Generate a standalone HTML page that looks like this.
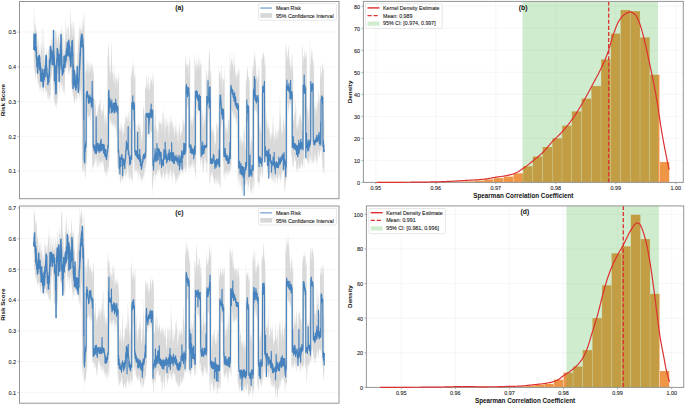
<!DOCTYPE html><html><head><meta charset="utf-8"><style>html,body{margin:0;padding:0;background:#fff;}svg{display:block;font-family:"Liberation Sans", sans-serif;}</style></head><body>
<svg width="685" height="405" viewBox="0 0 685 405">
<rect width="685" height="405" fill="#fff"/>
<g>
<line x1="19.5" x2="339.0" y1="171.10" y2="171.10" stroke="#f2f2f2" stroke-width="0.7"/>
<line x1="19.5" x2="339.0" y1="136.35" y2="136.35" stroke="#f2f2f2" stroke-width="0.7"/>
<line x1="19.5" x2="339.0" y1="101.60" y2="101.60" stroke="#f2f2f2" stroke-width="0.7"/>
<line x1="19.5" x2="339.0" y1="66.85" y2="66.85" stroke="#f2f2f2" stroke-width="0.7"/>
<line x1="19.5" x2="339.0" y1="32.10" y2="32.10" stroke="#f2f2f2" stroke-width="0.7"/>
<path d="M33.80,8.0 33.92,4.7 34.05,11.8 34.17,12.8 34.30,19.0 34.42,27.0 34.55,25.6 34.67,16.6 34.80,30.4 34.92,34.5 35.05,27.8 35.17,25.0 35.30,23.9 35.42,26.3 35.55,21.8 35.67,26.1 35.80,31.3 35.92,30.9 36.05,26.3 36.17,32.3 36.30,28.2 36.42,31.2 36.55,30.5 36.67,31.8 36.80,28.4 36.92,32.4 37.05,31.3 37.17,39.1 37.30,41.2 37.42,40.9 37.55,41.0 37.67,47.4 37.80,50.2 37.92,49.3 38.05,51.1 38.17,50.5 38.30,48.0 38.42,45.1 38.55,39.7 38.67,42.3 38.80,37.0 38.92,49.4 39.05,51.1 39.17,56.0 39.30,54.0 39.42,52.5 39.55,51.5 39.67,55.6 39.80,47.4 39.92,42.9 40.05,42.6 40.17,43.2 40.30,50.1 40.42,54.0 40.55,59.5 40.67,56.0 40.80,60.6 40.92,56.3 41.05,49.9 41.17,50.9 41.30,46.6 41.42,46.8 41.55,44.1 41.67,47.9 41.80,37.6 41.92,24.5 42.05,30.1 42.17,27.4 42.30,41.1 42.42,49.3 42.55,47.3 42.67,54.7 42.80,58.9 42.92,60.1 43.05,57.2 43.17,55.0 43.30,48.6 43.42,46.2 43.55,41.3 43.67,37.0 43.80,30.8 43.92,24.9 44.05,33.7 44.17,44.9 44.30,50.5 44.42,60.3 44.55,60.5 44.67,63.4 44.80,58.2 44.92,51.3 45.05,56.6 45.17,57.0 45.30,60.7 45.42,62.8 45.55,57.9 45.67,57.9 45.80,55.7 45.92,50.1 46.05,49.9 46.17,52.5 46.30,54.1 46.42,56.4 46.55,61.9 46.67,52.7 46.80,47.7 46.92,49.2 47.05,52.3 47.17,57.4 47.30,61.6 47.42,68.7 47.55,75.1 47.67,68.3 47.80,65.5 47.92,69.8 48.05,63.3 48.17,58.6 48.30,50.5 48.42,48.4 48.55,51.5 48.67,46.7 48.80,50.7 48.92,49.5 49.05,43.7 49.17,47.8 49.30,46.1 49.42,47.0 49.55,52.4 49.67,42.7 49.80,48.7 49.92,50.1 50.05,49.8 50.17,44.2 50.30,41.5 50.42,45.0 50.55,48.7 50.67,44.4 50.80,46.2 50.92,46.4 51.05,46.7 51.17,44.0 51.30,45.1 51.42,41.1 51.55,32.3 51.67,39.7 51.80,42.4 51.92,37.3 52.05,38.5 52.17,41.2 52.30,45.7 52.42,49.9 52.55,44.9 52.67,40.0 52.80,44.6 52.92,43.7 53.05,47.1 53.17,42.4 53.30,42.1 53.42,46.0 53.55,28.9 53.67,46.7 53.80,44.0 53.92,52.9 54.05,46.7 54.17,49.6 54.30,50.4 54.42,52.3 54.55,46.8 54.67,39.6 54.80,44.5 54.92,40.4 55.05,42.5 55.17,31.9 55.30,30.5 55.42,36.4 55.55,30.3 55.67,30.8 55.80,32.2 55.92,30.1 56.05,34.4 56.17,33.5 56.30,33.2 56.42,32.0 56.55,40.8 56.67,41.4 56.80,37.5 56.92,34.1 57.05,37.4 57.17,38.0 57.30,42.5 57.42,41.1 57.55,48.0 57.67,45.7 57.80,41.6 57.92,37.3 58.05,35.7 58.17,35.7 58.30,34.6 58.42,35.5 58.55,35.1 58.67,37.9 58.80,36.2 58.92,39.4 59.05,41.3 59.17,31.3 59.30,34.0 59.42,37.3 59.55,51.1 59.67,47.2 59.80,44.5 59.92,49.8 60.05,47.2 60.17,41.2 60.30,43.9 60.42,38.3 60.55,36.7 60.67,34.0 60.80,33.9 60.92,32.8 61.05,27.7 61.17,22.7 61.30,27.4 61.42,32.4 61.55,27.9 61.67,30.7 61.80,35.4 61.92,33.3 62.05,38.9 62.17,30.6 62.30,38.0 62.42,38.9 62.55,34.9 62.67,34.4 62.80,37.7 62.92,31.0 63.05,30.7 63.17,33.1 63.30,41.8 63.42,44.1 63.55,53.8 63.67,53.2 63.80,49.5 63.92,57.6 64.05,54.9 64.17,60.1 64.30,57.3 64.42,45.3 64.55,47.7 64.67,41.7 64.80,38.9 64.92,40.6 65.05,43.3 65.17,38.2 65.30,33.3 65.42,33.4 65.55,28.8 65.67,16.1 65.80,18.7 65.92,20.1 66.05,25.4 66.17,29.0 66.30,33.4 66.42,34.4 66.55,29.6 66.67,26.7 66.80,40.9 66.92,44.7 67.05,37.4 67.17,42.4 67.30,42.1 67.42,39.3 67.55,28.5 67.67,27.1 67.80,29.0 67.92,27.8 68.05,26.1 68.17,28.9 68.30,28.3 68.42,26.4 68.55,26.8 68.67,24.0 68.80,24.0 68.92,37.9 69.05,42.0 69.17,40.0 69.30,31.7 69.42,35.2 69.55,36.2 69.67,36.4 69.80,43.3 69.92,37.2 70.05,31.1 70.17,26.3 70.30,21.2 70.42,14.2 70.55,11.0 70.67,7.0 70.80,11.9 70.92,22.5 71.05,28.6 71.17,32.8 71.30,23.9 71.42,24.1 71.55,25.5 71.67,20.1 71.80,24.9 71.92,29.1 72.05,27.5 72.17,21.3 72.30,21.5 72.42,21.3 72.55,24.3 72.67,36.7 72.80,34.6 72.92,39.1 73.05,34.1 73.17,26.1 73.30,29.3 73.42,27.6 73.55,33.4 73.67,26.6 73.80,25.5 73.92,20.9 74.05,18.5 74.17,22.9 74.30,23.7 74.42,36.4 74.55,35.9 74.67,34.8 74.80,38.0 74.92,45.5 75.05,46.5 75.17,54.3 75.30,75.3 75.42,81.4 75.55,71.9 75.67,68.6 75.80,65.7 75.92,70.7 76.05,69.6 76.17,68.2 76.30,72.6 76.42,75.0 76.55,77.2 76.67,74.7 76.80,73.7 76.92,72.6 77.05,67.8 77.17,62.5 77.30,52.7 77.42,54.6 77.55,48.9 77.67,59.0 77.80,57.1 77.92,50.6 78.05,44.0 78.17,40.5 78.30,34.0 78.42,32.6 78.55,38.2 78.67,47.1 78.80,41.3 78.92,38.7 79.05,42.0 79.17,32.9 79.30,29.3 79.42,27.6 79.55,26.3 79.67,30.5 79.80,28.1 79.92,22.1 80.05,22.4 80.17,26.2 80.30,30.1 80.42,26.4 80.55,31.3 80.67,26.3 80.80,31.3 80.92,32.9 81.05,29.0 81.17,29.6 81.30,27.2 81.42,28.8 81.55,33.0 81.67,26.4 81.80,32.4 81.92,34.7 82.05,30.2 82.17,30.2 82.30,28.5 82.42,30.8 82.55,24.7 82.67,18.5 82.80,17.0 82.92,19.3 83.05,25.9 83.17,19.1 83.30,18.1 83.42,24.8 83.55,26.4 83.67,24.5 83.80,15.9 83.92,13.5 84.05,12.4 84.17,14.6 84.30,10.8 84.42,24.9 84.55,38.0 84.67,57.2 84.80,72.8 84.92,93.1 85.05,111.5 85.17,115.8 85.30,77.2 85.42,72.7 85.55,73.5 85.67,65.3 85.80,69.4 85.92,71.3 86.05,73.8 86.17,67.6 86.30,70.7 86.42,69.1 86.55,72.0 86.67,58.7 86.80,57.0 86.92,60.3 87.05,62.0 87.17,61.0 87.30,66.6 87.42,65.0 87.55,60.4 87.67,67.7 87.80,71.2 87.92,74.4 88.05,71.7 88.17,72.2 88.30,68.5 88.42,63.8 88.55,61.1 88.67,65.0 88.80,60.3 88.92,69.8 89.05,73.9 89.17,67.8 89.30,67.0 89.42,59.3 89.55,69.6 89.67,73.6 89.80,71.4 89.92,68.3 90.05,64.7 90.17,65.3 90.30,63.8 90.42,60.1 90.55,69.4 90.67,70.8 90.80,72.2 90.92,63.4 91.05,62.6 91.17,60.2 91.30,63.9 91.42,65.2 91.55,63.9 91.67,67.0 91.80,71.7 91.92,69.7 92.05,68.5 92.17,65.2 92.30,67.1 92.42,65.2 92.55,62.9 92.67,67.4 92.80,71.2 92.92,74.6 93.05,65.2 93.17,73.2 93.30,64.3 93.42,73.8 93.55,74.5 93.67,74.3 93.80,71.4 93.92,73.9 94.05,98.7 94.17,116.3 94.30,106.1 94.42,104.1 94.55,98.6 94.67,100.1 94.80,100.1 94.92,97.4 95.05,100.2 95.17,108.6 95.30,104.5 95.42,100.4 95.55,100.1 95.67,101.1 95.80,105.2 95.92,109.3 96.05,111.5 96.17,115.3 96.30,115.0 96.42,114.7 96.55,119.2 96.67,115.7 96.80,121.0 96.92,116.1 97.05,112.7 97.17,106.2 97.30,112.7 97.42,114.4 97.55,111.5 97.67,115.5 97.80,110.7 97.92,112.8 98.05,107.5 98.17,107.2 98.30,103.6 98.42,103.5 98.55,107.9 98.67,107.9 98.80,106.6 98.92,105.3 99.05,102.7 99.17,101.7 99.30,103.2 99.42,106.0 99.55,102.6 99.67,103.3 99.80,107.3 99.92,101.9 100.05,104.6 100.17,102.4 100.30,97.8 100.42,88.2 100.55,94.6 100.67,105.7 100.80,109.9 100.92,110.2 101.05,111.2 101.17,108.9 101.30,114.4 101.42,115.5 101.55,112.9 101.67,109.0 101.80,110.4 101.92,111.1 102.05,110.0 102.17,111.3 102.30,114.7 102.42,109.4 102.55,110.5 102.67,114.5 102.80,108.8 102.92,101.7 103.05,102.3 103.17,103.0 103.30,104.2 103.42,106.5 103.55,109.5 103.67,108.2 103.80,112.6 103.92,113.4 104.05,118.0 104.17,117.7 104.30,118.8 104.42,126.8 104.55,124.0 104.67,118.2 104.80,115.8 104.92,111.3 105.05,114.0 105.17,117.7 105.30,112.5 105.42,113.8 105.55,121.4 105.67,124.9 105.80,122.1 105.92,119.3 106.05,119.5 106.17,113.1 106.30,121.9 106.42,122.1 106.55,124.6 106.67,128.7 106.80,119.9 106.92,118.0 107.05,112.1 107.17,109.5 107.30,106.1 107.42,87.8 107.55,52.3 107.67,56.2 107.80,55.8 107.92,60.0 108.05,55.1 108.17,45.1 108.30,41.4 108.42,45.0 108.55,45.6 108.67,47.8 108.80,47.0 108.92,48.7 109.05,57.4 109.17,55.6 109.30,57.7 109.42,64.1 109.55,65.8 109.67,68.0 109.80,72.6 109.92,71.4 110.05,62.7 110.17,67.4 110.30,74.3 110.42,74.6 110.55,72.2 110.67,72.8 110.80,77.5 110.92,73.0 111.05,59.5 111.17,61.6 111.30,46.5 111.42,39.4 111.55,42.5 111.67,46.6 111.80,55.1 111.92,54.2 112.05,64.4 112.17,65.3 112.30,71.2 112.42,69.8 112.55,73.0 112.67,72.5 112.80,75.2 112.92,72.8 113.05,80.3 113.17,79.9 113.30,83.9 113.42,83.0 113.55,72.9 113.67,71.9 113.80,74.1 113.92,79.3 114.05,70.3 114.17,62.4 114.30,67.5 114.42,73.2 114.55,84.4 114.67,79.2 114.80,72.4 114.92,78.4 115.05,78.7 115.17,76.6 115.30,73.7 115.42,80.3 115.55,80.6 115.67,83.5 115.80,89.0 115.92,85.1 116.05,87.8 116.17,77.6 116.30,77.2 116.42,79.2 116.55,80.0 116.67,81.5 116.80,72.4 116.92,76.2 117.05,78.5 117.17,81.9 117.30,83.6 117.42,86.1 117.55,81.2 117.67,81.6 117.80,80.1 117.92,78.9 118.05,73.4 118.17,76.7 118.30,73.3 118.42,73.7 118.55,78.0 118.67,75.7 118.80,77.4 118.92,83.8 119.05,83.1 119.17,121.1 119.30,126.5 119.42,130.2 119.55,129.2 119.67,128.2 119.80,133.7 119.92,125.8 120.05,132.0 120.17,129.7 120.30,132.7 120.42,130.1 120.55,123.8 120.67,123.4 120.80,123.3 120.92,130.6 121.05,128.4 121.17,131.0 121.30,123.5 121.42,129.7 121.55,125.3 121.67,128.8 121.80,122.4 121.92,118.8 122.05,131.0 122.17,124.8 122.30,129.9 122.42,126.6 122.55,134.2 122.67,135.8 122.80,132.2 122.92,141.6 123.05,144.9 123.17,132.2 123.30,132.9 123.42,126.3 123.55,125.6 123.67,130.5 123.80,132.8 123.92,132.9 124.05,133.6 124.17,130.4 124.30,129.6 124.42,123.6 124.55,122.7 124.67,125.9 124.80,123.7 124.92,124.5 125.05,117.6 125.17,114.6 125.30,118.3 125.42,115.8 125.55,120.7 125.67,119.1 125.80,126.4 125.92,113.4 126.05,117.1 126.17,120.6 126.30,129.7 126.42,119.8 126.55,111.6 126.67,113.6 126.80,118.2 126.92,114.4 127.05,119.5 127.17,122.1 127.30,117.7 127.42,115.5 127.55,119.0 127.67,115.1 127.80,117.7 127.92,128.0 128.05,132.7 128.18,125.0 128.30,121.8 128.43,116.5 128.55,115.0 128.68,109.7 128.80,114.9 128.93,112.0 129.05,105.2 129.18,112.3 129.30,120.9 129.43,121.1 129.55,121.5 129.68,119.4 129.80,119.3 129.93,111.3 130.05,120.4 130.18,125.7 130.30,124.0 130.43,129.4 130.55,129.0 130.68,129.1 130.80,69.8 130.93,75.2 131.05,82.2 131.18,77.4 131.30,76.4 131.43,69.5 131.55,70.9 131.68,73.6 131.80,74.3 131.93,73.4 132.05,72.5 132.18,68.6 132.30,67.6 132.43,60.2 132.55,65.7 132.68,64.3 132.80,71.7 132.93,76.3 133.05,84.0 133.18,70.6 133.30,69.1 133.43,67.5 133.55,64.1 133.68,58.6 133.80,63.2 133.93,69.2 134.05,63.3 134.18,69.8 134.30,76.2 134.43,78.0 134.55,76.3 134.68,77.4 134.80,77.2 134.93,75.0 135.05,72.4 135.18,72.9 135.30,76.3 135.43,83.5 135.55,105.0 135.68,124.1 135.80,122.8 135.93,120.2 136.05,125.5 136.18,125.2 136.30,126.0 136.43,131.2 136.55,136.1 136.68,126.8 136.80,131.3 136.93,131.2 137.05,132.1 137.18,130.3 137.30,131.6 137.43,133.1 137.55,137.1 137.68,130.5 137.80,123.0 137.93,120.6 138.05,126.2 138.18,122.1 138.30,118.0 138.43,124.4 138.55,125.6 138.68,124.5 138.80,123.9 138.93,128.2 139.05,124.3 139.18,128.6 139.30,128.3 139.43,128.4 139.55,126.9 139.68,123.2 139.80,127.3 139.93,120.8 140.05,134.2 140.18,133.0 140.30,128.7 140.43,122.0 140.55,118.0 140.68,128.7 140.80,128.3 140.93,129.2 141.05,136.0 141.18,139.5 141.30,143.1 141.43,142.0 141.55,137.4 141.68,136.0 141.80,140.4 141.93,140.4 142.05,145.2 142.18,135.9 142.30,135.2 142.43,135.9 142.55,131.0 142.68,130.4 142.80,123.6 142.93,116.6 143.05,111.3 143.18,109.3 143.30,105.4 143.43,104.2 143.55,108.6 143.68,110.6 143.80,106.5 143.93,109.9 144.05,107.9 144.18,113.9 144.30,113.3 144.43,115.0 144.55,121.5 144.68,123.0 144.80,116.1 144.93,114.3 145.05,86.0 145.18,89.8 145.30,89.8 145.43,88.7 145.55,87.4 145.68,87.9 145.80,86.4 145.93,79.3 146.05,88.8 146.18,88.9 146.30,87.8 146.43,79.5 146.55,73.8 146.68,78.5 146.80,76.7 146.93,72.6 147.05,80.0 147.18,82.0 147.30,86.6 147.43,84.8 147.55,84.2 147.68,82.9 147.80,85.4 147.93,90.6 148.05,90.3 148.18,90.3 148.30,81.6 148.43,80.0 148.55,76.1 148.68,74.4 148.80,75.4 148.93,86.3 149.05,89.8 149.18,89.0 149.30,91.1 149.43,89.0 149.55,85.1 149.68,84.4 149.80,92.6 149.93,82.3 150.05,82.5 150.18,77.4 150.30,81.5 150.43,77.2 150.55,79.0 150.68,85.5 150.80,86.3 150.93,81.8 151.05,82.5 151.18,76.1 151.30,81.3 151.43,78.5 151.55,80.0 151.68,79.5 151.80,83.7 151.93,78.3 152.05,84.8 152.18,85.7 152.30,85.8 152.43,82.7 152.55,83.4 152.68,73.0 152.80,76.8 152.93,69.2 153.05,73.0 153.18,77.2 153.30,74.4 153.43,81.2 153.55,81.5 153.68,77.0 153.80,84.8 153.93,121.4 154.05,130.6 154.18,125.0 154.30,130.3 154.43,133.4 154.55,128.2 154.68,123.7 154.80,118.6 154.93,117.8 155.05,111.9 155.18,107.1 155.30,100.3 155.43,115.1 155.55,116.6 155.68,111.7 155.80,118.6 155.93,125.9 156.05,130.6 156.18,128.6 156.30,128.8 156.43,124.6 156.55,129.2 156.68,128.1 156.80,127.0 156.93,135.3 157.05,136.3 157.18,141.3 157.30,146.7 157.43,142.8 157.55,131.5 157.68,131.1 157.80,129.3 157.93,129.3 158.05,134.0 158.18,131.1 158.30,136.7 158.43,127.4 158.55,131.2 158.68,122.5 158.80,119.0 158.93,119.8 159.05,121.4 159.18,123.5 159.30,124.9 159.43,122.4 159.55,119.9 159.68,122.2 159.80,123.2 159.93,123.5 160.05,124.1 160.18,120.1 160.30,124.8 160.43,123.0 160.55,124.1 160.68,124.7 160.80,122.6 160.93,124.0 161.05,119.4 161.18,122.5 161.30,129.2 161.43,128.7 161.55,124.7 161.68,115.9 161.80,123.0 161.93,131.4 162.05,134.6 162.18,129.1 162.30,125.1 162.43,119.7 162.55,118.9 162.68,113.5 162.80,113.1 162.93,112.8 163.05,109.4 163.18,109.6 163.30,113.1 163.43,113.5 163.55,120.5 163.68,124.9 163.80,124.0 163.93,121.2 164.05,116.7 164.18,121.9 164.30,113.0 164.43,114.7 164.55,126.7 164.68,125.7 164.80,132.1 164.93,138.5 165.05,139.8 165.18,129.2 165.30,131.7 165.43,126.6 165.55,126.0 165.68,118.2 165.80,119.8 165.93,123.1 166.05,120.1 166.18,116.0 166.30,118.6 166.43,116.4 166.55,123.2 166.68,129.2 166.80,125.9 166.93,126.8 167.05,122.6 167.18,126.8 167.30,125.7 167.43,125.9 167.55,123.5 167.68,120.2 167.80,120.3 167.93,124.0 168.05,121.4 168.18,129.0 168.30,140.0 168.43,138.2 168.55,131.6 168.68,126.1 168.80,122.5 168.93,125.4 169.05,130.3 169.18,134.1 169.30,132.7 169.43,129.7 169.55,121.6 169.68,113.4 169.80,116.5 169.93,116.9 170.05,122.4 170.18,121.8 170.30,119.1 170.43,124.6 170.55,122.6 170.68,127.3 170.80,122.1 170.93,119.0 171.05,115.4 171.18,112.8 171.30,117.5 171.43,125.2 171.55,119.1 171.68,123.3 171.80,127.5 171.93,121.6 172.05,121.3 172.18,121.2 172.30,117.8 172.43,127.1 172.55,123.4 172.68,131.0 172.80,132.3 172.93,123.9 173.05,124.7 173.18,121.9 173.30,127.1 173.43,129.4 173.55,128.6 173.68,131.8 173.80,126.7 173.93,127.1 174.05,126.6 174.18,126.9 174.30,123.3 174.43,129.4 174.55,135.5 174.68,135.8 174.80,138.2 174.93,134.7 175.05,133.6 175.18,132.1 175.30,130.0 175.43,129.2 175.55,119.4 175.68,120.1 175.80,128.9 175.93,124.3 176.05,132.3 176.18,126.2 176.30,121.6 176.43,128.7 176.55,128.2 176.68,131.1 176.80,134.2 176.93,135.5 177.05,132.5 177.18,131.3 177.30,133.1 177.43,141.7 177.55,139.5 177.68,140.7 177.80,131.6 177.93,132.4 178.05,129.0 178.18,133.0 178.30,143.2 178.43,139.7 178.55,145.5 178.68,135.9 178.80,132.6 178.93,124.2 179.05,126.8 179.18,129.2 179.30,122.9 179.43,124.3 179.55,124.5 179.68,124.0 179.80,126.9 179.93,132.1 180.05,131.7 180.18,131.1 180.30,136.4 180.43,137.8 180.55,137.1 180.68,140.9 180.80,136.4 180.93,131.4 181.05,135.7 181.18,130.6 181.30,132.6 181.43,134.6 181.55,132.3 181.68,136.0 181.80,131.3 181.93,130.5 182.05,129.7 182.18,126.1 182.30,119.2 182.43,121.2 182.55,119.4 182.68,126.2 182.80,130.9 182.93,129.1 183.05,125.4 183.18,124.3 183.30,125.5 183.43,118.6 183.55,121.2 183.68,114.8 183.80,120.1 183.93,122.0 184.05,124.6 184.18,123.1 184.30,122.9 184.43,120.6 184.55,125.9 184.68,129.5 184.80,132.1 184.93,112.2 185.05,65.0 185.18,60.2 185.30,63.2 185.43,59.7 185.55,58.5 185.68,66.2 185.80,57.4 185.93,53.7 186.05,56.7 186.18,52.5 186.30,65.7 186.43,65.1 186.55,70.1 186.68,65.6 186.80,65.0 186.93,64.6 187.05,64.1 187.18,64.1 187.30,64.6 187.43,67.1 187.55,65.4 187.68,62.9 187.80,69.8 187.93,59.9 188.05,66.0 188.18,66.3 188.30,71.5 188.43,78.7 188.55,76.4 188.68,68.0 188.80,63.1 188.93,64.9 189.05,59.0 189.18,58.7 189.30,60.0 189.43,68.2 189.55,62.0 189.68,55.8 189.80,55.4 189.93,60.6 190.05,59.7 190.18,59.9 190.30,114.5 190.43,118.5 190.55,120.4 190.68,116.2 190.80,120.9 190.93,128.2 191.05,125.6 191.18,123.6 191.30,117.9 191.43,121.9 191.55,119.0 191.68,113.7 191.80,119.0 191.93,123.0 192.05,126.5 192.18,120.8 192.30,123.9 192.43,124.9 192.55,121.7 192.68,119.6 192.80,118.7 192.93,117.8 193.05,123.4 193.18,115.3 193.30,101.7 193.43,105.3 193.55,110.7 193.68,118.9 193.80,115.1 193.93,119.4 194.05,118.0 194.18,111.8 194.30,110.8 194.43,48.1 194.55,55.6 194.68,65.4 194.80,58.2 194.93,57.6 195.05,58.8 195.18,63.2 195.30,66.0 195.43,68.1 195.55,72.7 195.68,69.5 195.80,63.7 195.93,61.6 196.05,57.8 196.18,60.5 196.30,69.5 196.43,70.7 196.55,66.0 196.68,59.5 196.80,64.2 196.93,62.9 197.05,59.3 197.18,61.3 197.30,64.0 197.43,68.2 197.55,66.7 197.68,67.7 197.80,66.2 197.93,64.9 198.05,64.2 198.18,67.3 198.30,66.7 198.43,63.4 198.55,63.3 198.68,59.0 198.80,51.7 198.93,54.3 199.05,60.2 199.18,59.8 199.30,67.7 199.43,68.2 199.55,69.2 199.68,64.1 199.80,61.8 199.93,55.6 200.05,57.8 200.18,61.2 200.30,63.3 200.43,70.4 200.55,67.6 200.68,63.5 200.80,63.2 200.93,64.0 201.05,65.1 201.18,59.9 201.30,66.6 201.43,63.1 201.55,85.5 201.68,110.2 201.80,112.6 201.93,108.4 202.05,107.7 202.18,111.9 202.30,114.5 202.43,116.6 202.55,113.9 202.68,116.1 202.80,115.1 202.93,125.2 203.05,127.3 203.18,128.0 203.30,124.2 203.43,125.0 203.55,126.5 203.68,118.6 203.80,108.4 203.93,109.7 204.05,114.9 204.18,119.0 204.30,118.3 204.43,123.0 204.55,121.0 204.68,124.0 204.80,114.1 204.93,119.3 205.05,118.0 205.18,120.5 205.30,111.2 205.43,114.0 205.55,111.4 205.68,110.2 205.80,66.3 205.93,68.5 206.05,70.4 206.18,69.9 206.30,70.7 206.43,70.1 206.55,75.1 206.68,76.8 206.80,81.2 206.93,79.8 207.05,86.2 207.18,80.3 207.30,80.6 207.43,81.3 207.55,76.6 207.68,71.9 207.80,74.3 207.93,77.0 208.05,76.7 208.18,69.7 208.30,70.1 208.43,73.7 208.55,73.5 208.68,62.0 208.80,60.7 208.93,55.6 209.05,53.4 209.18,55.0 209.30,54.4 209.43,42.4 209.55,50.4 209.68,51.1 209.80,52.3 209.93,59.6 210.05,60.0 210.18,69.9 210.30,68.6 210.43,69.3 210.55,73.8 210.68,73.0 210.80,71.8 210.93,81.7 211.05,73.4 211.18,79.1 211.30,74.2 211.43,132.4 211.55,132.3 211.68,127.6 211.80,129.0 211.93,124.5 212.05,133.5 212.18,128.8 212.30,134.1 212.43,132.4 212.55,126.2 212.68,127.7 212.80,131.0 212.93,129.3 213.05,133.0 213.18,129.3 213.30,132.6 213.43,126.7 213.55,124.4 213.68,126.4 213.80,131.9 213.93,134.4 214.05,136.9 214.18,137.8 214.30,135.7 214.43,137.8 214.55,140.2 214.68,143.4 214.80,147.9 214.93,147.8 215.05,140.4 215.18,143.4 215.30,142.5 215.43,143.5 215.55,146.0 215.68,145.0 215.80,144.1 215.93,136.7 216.05,131.9 216.18,136.0 216.30,122.7 216.43,123.4 216.55,122.6 216.68,123.0 216.80,125.6 216.93,122.1 217.05,126.7 217.18,130.4 217.30,131.8 217.43,127.8 217.55,122.4 217.68,130.2 217.80,123.3 217.93,124.3 218.05,125.1 218.18,126.5 218.30,128.3 218.43,122.7 218.55,129.6 218.68,125.0 218.80,62.3 218.93,73.4 219.05,74.2 219.18,74.6 219.30,70.1 219.43,70.1 219.55,71.1 219.68,72.3 219.80,74.7 219.93,69.6 220.05,70.9 220.18,76.9 220.30,77.3 220.43,77.3 220.55,81.3 220.68,82.8 220.80,78.4 220.93,72.5 221.05,71.2 221.18,63.4 221.30,66.4 221.43,64.9 221.55,68.0 221.68,80.6 221.80,78.5 221.93,77.5 222.05,77.9 222.18,75.2 222.30,80.5 222.43,87.5 222.55,91.1 222.68,90.6 222.80,83.1 222.93,78.0 223.05,78.6 223.18,79.9 223.30,80.3 223.43,84.9 223.55,77.2 223.68,79.8 223.80,78.4 223.93,79.7 224.05,83.6 224.18,79.1 224.30,67.1 224.43,69.1 224.55,73.0 224.68,78.4 224.80,123.6 224.93,119.2 225.05,129.2 225.18,125.8 225.30,129.9 225.43,126.8 225.55,121.9 225.68,123.3 225.80,131.9 225.93,130.9 226.05,126.2 226.18,129.3 226.30,132.2 226.43,132.4 226.55,126.3 226.68,125.5 226.80,125.7 226.93,133.2 227.05,125.0 227.18,121.8 227.30,128.1 227.43,135.5 227.55,133.4 227.68,133.4 227.80,129.7 227.93,129.8 228.05,122.1 228.18,119.9 228.30,120.5 228.43,123.6 228.55,118.3 228.68,119.7 228.80,121.8 228.93,120.8 229.05,118.5 229.18,114.0 229.30,124.2 229.43,126.0 229.55,97.6 229.68,55.5 229.80,53.4 229.93,53.8 230.05,51.3 230.18,63.6 230.30,63.1 230.43,64.1 230.55,70.6 230.68,67.8 230.80,71.5 230.93,70.8 231.05,63.6 231.18,59.1 231.30,60.5 231.43,57.9 231.55,60.4 231.68,56.6 231.80,56.0 231.93,61.7 232.05,64.6 232.18,63.3 232.30,64.9 232.43,63.9 232.55,59.8 232.68,60.5 232.80,56.3 232.93,58.8 233.05,69.3 233.18,64.6 233.30,66.1 233.43,72.1 233.55,71.6 233.68,68.3 233.80,62.6 233.93,51.8 234.05,54.1 234.18,53.0 234.30,57.1 234.43,63.6 234.55,64.6 234.68,65.1 234.80,66.1 234.93,67.9 235.05,76.3 235.18,74.8 235.30,74.2 235.43,77.4 235.55,78.6 235.68,70.0 235.80,67.3 235.93,69.7 236.05,71.0 236.18,71.8 236.30,75.8 236.43,71.5 236.55,76.8 236.68,77.8 236.80,78.7 236.93,82.4 237.05,77.5 237.18,72.5 237.30,71.0 237.43,67.8 237.55,75.2 237.68,76.3 237.80,72.9 237.93,76.2 238.05,72.5 238.18,70.4 238.30,73.3 238.43,74.0 238.55,69.0 238.68,68.6 238.80,76.1 238.93,70.0 239.05,69.2 239.18,67.9 239.30,70.4 239.43,70.4 239.55,104.8 239.68,138.1 239.80,141.2 239.93,145.3 240.05,141.8 240.18,139.0 240.30,135.6 240.43,133.0 240.55,138.4 240.68,138.5 240.80,137.4 240.93,146.4 241.05,146.9 241.18,145.6 241.30,145.9 241.43,138.9 241.55,139.3 241.68,136.5 241.80,141.0 241.93,140.4 242.05,142.5 242.18,136.4 242.30,139.7 242.43,141.9 242.55,136.3 242.68,143.4 242.80,142.5 242.93,144.7 243.05,143.0 243.18,141.0 243.30,150.9 243.43,141.8 243.55,139.3 243.68,132.4 243.80,134.1 243.93,125.8 244.05,126.3 244.18,130.4 244.30,128.3 244.43,130.1 244.55,130.8 244.68,136.5 244.80,141.6 244.93,145.8 245.05,146.9 245.18,149.0 245.30,150.5 245.43,151.1 245.55,148.6 245.68,141.9 245.80,82.9 245.93,81.2 246.05,85.4 246.18,78.7 246.30,78.3 246.43,72.6 246.55,79.1 246.68,80.2 246.80,85.7 246.93,75.3 247.05,65.6 247.18,70.3 247.30,68.3 247.43,70.2 247.55,66.0 247.68,69.3 247.80,70.3 247.93,75.6 248.05,76.6 248.18,78.1 248.30,75.9 248.43,75.0 248.55,76.5 248.68,76.9 248.80,77.4 248.93,79.6 249.05,83.9 249.18,79.4 249.30,79.0 249.43,83.7 249.55,79.3 249.68,79.9 249.80,137.6 249.93,132.8 250.05,135.9 250.18,137.7 250.30,145.8 250.43,140.5 250.55,146.0 250.68,150.9 250.80,147.4 250.93,145.7 251.05,136.7 251.18,134.5 251.30,139.5 251.43,139.5 251.55,142.6 251.68,137.5 251.80,140.3 251.93,143.0 252.05,144.0 252.18,138.3 252.30,142.3 252.43,65.0 252.55,71.5 252.68,69.7 252.80,66.2 252.93,68.6 253.05,72.1 253.18,66.7 253.30,61.4 253.43,67.0 253.55,68.3 253.68,67.5 253.80,61.1 253.93,56.6 254.05,57.0 254.18,50.0 254.30,54.3 254.43,57.2 254.55,59.7 254.68,58.4 254.80,49.2 254.93,52.4 255.05,56.8 255.18,64.8 255.30,59.7 255.43,58.3 255.55,53.8 255.68,63.7 255.80,62.3 255.93,68.2 256.05,78.9 256.18,76.7 256.30,75.9 256.43,78.0 256.55,76.4 256.68,72.7 256.80,67.0 256.93,68.8 257.05,73.3 257.18,76.5 257.30,75.4 257.43,82.5 257.55,74.0 257.68,77.5 257.80,79.4 257.93,80.5 258.05,75.9 258.18,80.5 258.30,78.4 258.43,74.4 258.55,69.0 258.68,63.0 258.80,68.0 258.93,65.1 259.05,71.1 259.18,69.1 259.30,67.7 259.43,131.2 259.55,122.9 259.68,119.1 259.80,128.5 259.93,127.4 260.05,130.7 260.18,131.2 260.30,132.2 260.43,130.2 260.55,124.6 260.68,122.1 260.80,129.8 260.93,122.7 261.05,132.4 261.18,133.9 261.30,135.5 261.43,114.6 261.55,60.0 261.68,58.3 261.80,57.2 261.93,55.8 262.05,59.6 262.18,57.7 262.30,59.5 262.43,53.9 262.55,59.2 262.68,59.4 262.80,54.3 262.93,52.4 263.05,57.4 263.18,55.6 263.30,52.4 263.43,52.0 263.55,54.7 263.68,48.9 263.80,54.7 263.93,54.9 264.05,55.8 264.18,63.5 264.30,64.5 264.43,67.0 264.55,64.1 264.68,58.8 264.80,52.4 264.93,57.7 265.05,53.6 265.18,61.7 265.30,66.9 265.43,60.9 265.55,90.8 265.68,117.2 265.80,122.7 265.93,129.6 266.05,122.3 266.18,123.0 266.30,117.5 266.43,118.6 266.55,119.8 266.68,107.8 266.80,109.7 266.93,112.6 267.05,121.4 267.18,118.4 267.30,124.9 267.43,127.4 267.55,130.7 267.68,127.4 267.80,132.2 267.93,126.9 268.05,132.2 268.18,123.7 268.30,123.2 268.43,122.8 268.55,121.9 268.68,126.0 268.80,124.6 268.93,131.1 269.05,128.8 269.18,123.5 269.30,136.6 269.43,140.4 269.55,127.6 269.68,127.2 269.80,130.0 269.93,133.9 270.05,136.0 270.18,136.6 270.30,133.1 270.43,134.0 270.55,138.4 270.68,141.2 270.80,140.5 270.93,134.5 271.05,126.5 271.18,135.8 271.30,133.2 271.43,141.4 271.55,132.5 271.68,138.8 271.80,138.3 271.93,131.1 272.05,133.5 272.18,137.2 272.30,135.8 272.43,128.3 272.55,124.9 272.68,124.8 272.80,115.3 272.93,114.7 273.05,112.6 273.18,123.5 273.30,126.9 273.43,125.6 273.55,132.1 273.68,135.1 273.80,132.8 273.93,138.2 274.05,144.0 274.18,141.5 274.30,135.6 274.43,137.2 274.55,136.4 274.68,140.5 274.80,136.5 274.93,137.5 275.05,135.7 275.18,138.9 275.30,133.2 275.43,132.0 275.55,121.8 275.68,127.5 275.80,129.9 275.93,130.5 276.05,137.5 276.18,138.5 276.30,139.4 276.43,130.6 276.55,131.1 276.68,135.6 276.80,133.3 276.93,142.9 277.05,138.5 277.18,138.5 277.30,131.9 277.43,131.5 277.55,139.4 277.68,135.0 277.80,125.8 277.93,130.9 278.05,129.8 278.18,133.8 278.30,132.8 278.43,139.5 278.55,133.2 278.68,122.4 278.80,129.0 278.93,129.0 279.05,132.2 279.18,130.0 279.30,125.5 279.43,120.0 279.55,113.8 279.68,108.9 279.80,105.4 279.93,95.2 280.05,95.0 280.18,102.1 280.30,111.3 280.43,116.0 280.55,117.4 280.68,115.9 280.80,118.3 280.93,121.4 281.05,121.8 281.18,124.9 281.30,129.6 281.43,134.6 281.55,136.4 281.68,129.5 281.80,128.5 281.93,131.3 282.05,133.3 282.18,140.1 282.30,136.2 282.43,130.6 282.55,131.8 282.68,133.4 282.80,128.8 282.93,122.2 283.05,120.3 283.18,116.6 283.30,113.3 283.43,120.4 283.55,119.7 283.68,117.5 283.80,121.4 283.93,123.4 284.05,120.5 284.18,123.9 284.30,125.2 284.43,129.8 284.55,131.8 284.68,131.6 284.80,128.2 284.93,125.1 285.05,123.1 285.18,122.2 285.30,123.3 285.43,49.0 285.55,48.1 285.68,45.4 285.80,46.5 285.93,46.9 286.05,43.4 286.18,43.0 286.30,48.9 286.43,51.6 286.55,52.8 286.68,51.9 286.80,59.1 286.93,63.4 287.05,59.4 287.18,59.1 287.30,57.5 287.43,57.1 287.55,54.1 287.68,56.6 287.80,50.7 287.93,51.5 288.05,44.9 288.18,46.6 288.30,47.0 288.43,46.5 288.55,49.1 288.68,50.5 288.80,50.8 288.93,57.2 289.05,58.5 289.18,60.1 289.30,57.0 289.43,59.4 289.55,56.4 289.68,58.1 289.80,64.6 289.93,64.1 290.05,56.7 290.18,63.6 290.30,66.8 290.43,62.5 290.55,68.4 290.68,65.0 290.80,66.7 290.93,68.5 291.05,72.1 291.18,73.3 291.30,68.1 291.43,65.9 291.55,61.8 291.68,57.3 291.80,54.1 291.93,56.4 292.05,56.6 292.18,52.5 292.30,54.4 292.43,62.1 292.55,64.2 292.68,69.8 292.80,66.3 292.93,71.1 293.05,72.4 293.18,66.6 293.30,121.8 293.43,122.2 293.55,116.7 293.68,118.8 293.80,120.6 293.93,120.8 294.05,125.3 294.18,119.8 294.30,115.8 294.43,114.0 294.55,116.0 294.68,113.1 294.80,110.4 294.93,114.2 295.05,110.8 295.18,113.4 295.30,112.8 295.43,105.9 295.55,104.2 295.68,98.7 295.80,98.6 295.93,100.5 296.05,106.7 296.18,109.0 296.30,110.0 296.43,123.3 296.55,129.5 296.68,126.0 296.80,125.2 296.93,130.4 297.05,129.6 297.18,121.8 297.30,119.0 297.43,125.8 297.55,123.8 297.68,130.3 297.80,129.4 297.93,128.8 298.05,123.6 298.18,125.2 298.30,126.6 298.43,127.3 298.55,114.5 298.68,120.1 298.80,115.7 298.93,119.9 299.05,124.1 299.18,118.8 299.30,123.7 299.43,117.8 299.55,116.8 299.68,115.1 299.80,115.7 299.93,111.2 300.05,114.7 300.18,112.2 300.30,120.0 300.43,119.3 300.55,118.1 300.68,115.1 300.80,114.8 300.93,112.7 301.05,114.9 301.18,121.1 301.30,118.7 301.43,120.0 301.55,118.4 301.68,126.1 301.80,127.5 301.93,121.3 302.05,116.7 302.18,69.0 302.30,47.7 302.43,45.6 302.55,45.0 302.68,49.5 302.80,43.6 302.93,55.3 303.05,59.5 303.18,66.0 303.30,63.1 303.43,58.4 303.55,55.5 303.68,56.8 303.80,56.0 303.93,56.5 304.05,60.1 304.18,58.5 304.30,55.7 304.43,50.4 304.55,50.7 304.68,52.7 304.80,50.0 304.93,55.3 305.05,59.7 305.18,54.1 305.30,58.6 305.43,58.4 305.55,56.6 305.68,59.2 305.80,52.8 305.93,51.2 306.05,54.2 306.18,55.8 306.30,49.2 306.43,55.7 306.55,51.8 306.68,56.2 306.80,106.4 306.93,107.8 307.05,113.8 307.18,109.5 307.30,112.6 307.43,108.0 307.55,107.6 307.68,108.5 307.80,106.1 307.93,110.9 308.05,107.8 308.18,113.7 308.30,112.1 308.43,116.2 308.55,113.3 308.68,120.4 308.80,124.5 308.93,117.9 309.05,113.5 309.18,109.2 309.30,108.4 309.43,103.1 309.55,99.9 309.68,98.4 309.80,38.9 309.93,36.9 310.05,43.9 310.18,50.9 310.30,60.9 310.43,64.6 310.55,65.5 310.68,72.9 310.80,66.9 310.93,58.6 311.05,56.5 311.18,51.1 311.30,47.6 311.43,47.4 311.55,57.1 311.68,57.9 311.80,50.7 311.93,55.1 312.05,51.6 312.18,49.3 312.30,52.5 312.43,57.5 312.55,55.0 312.68,60.6 312.80,60.2 312.93,58.9 313.05,61.1 313.18,63.2 313.30,66.0 313.43,71.5 313.55,72.3 313.68,60.2 313.80,59.3 313.93,60.9 314.05,60.8 314.18,98.8 314.30,105.7 314.43,108.0 314.55,110.3 314.68,106.7 314.80,105.9 314.93,104.8 315.05,116.6 315.18,117.5 315.30,109.3 315.43,111.6 315.55,108.8 315.68,103.2 315.80,102.5 315.93,102.0 316.05,102.5 316.18,113.1 316.30,112.5 316.43,107.1 316.55,107.5 316.68,105.3 316.80,108.2 316.93,111.6 317.05,115.0 317.18,109.5 317.30,100.7 317.43,100.3 317.55,104.2 317.68,104.9 317.80,102.3 317.93,101.5 318.05,102.9 318.18,106.0 318.30,103.2 318.43,94.9 318.55,89.0 318.68,90.1 318.80,89.9 318.93,97.4 319.05,92.8 319.18,96.0 319.30,97.6 319.43,101.8 319.55,101.2 319.68,98.4 319.80,108.1 319.93,97.9 320.05,63.2 320.18,66.5 320.30,64.4 320.43,70.6 320.55,63.2 320.68,72.0 320.80,82.3 320.93,76.8 321.05,71.1 321.18,75.2 321.30,79.2 321.43,76.7 321.55,74.8 321.68,71.0 321.80,72.3 321.93,75.7 322.05,69.9 322.18,65.3 322.30,65.7 322.43,64.4 322.55,64.1 322.68,56.1 322.80,69.1 322.93,64.9 323.05,67.4 323.18,69.6 323.30,69.7 323.43,68.5 323.55,68.4 323.68,69.1 323.80,69.9 323.93,119.3 324.05,118.6 324.18,121.6 324.30,118.3 324.43,116.4 324.43,164.7 324.30,174.9 324.18,172.7 324.05,176.1 323.93,176.5 323.80,173.6 323.68,171.3 323.55,166.7 323.43,168.7 323.30,169.8 323.18,174.1 323.05,166.9 322.93,172.0 322.80,168.4 322.68,168.6 322.55,168.2 322.43,161.8 322.30,161.0 322.18,160.8 322.05,154.7 321.93,157.7 321.80,146.8 321.68,152.0 321.55,153.6 321.43,151.3 321.30,149.7 321.18,147.0 321.05,145.2 320.93,143.0 320.80,147.3 320.68,150.2 320.55,152.3 320.43,149.5 320.30,149.5 320.18,152.1 320.05,153.4 319.93,153.5 319.80,155.0 319.68,156.8 319.55,157.4 319.43,157.8 319.30,158.1 319.18,154.2 319.05,156.8 318.93,153.0 318.80,154.4 318.68,152.9 318.55,150.9 318.43,149.7 318.30,149.3 318.18,150.7 318.05,152.2 317.93,150.2 317.80,152.4 317.68,155.4 317.55,160.6 317.43,160.6 317.30,162.8 317.18,165.7 317.05,164.5 316.93,163.5 316.80,162.8 316.68,160.4 316.55,162.6 316.43,163.1 316.30,158.5 316.18,158.5 316.05,160.9 315.93,159.9 315.80,158.6 315.68,149.7 315.55,153.3 315.43,156.0 315.30,156.0 315.18,155.8 315.05,159.2 314.93,155.1 314.80,152.8 314.68,156.3 314.55,154.8 314.43,161.0 314.30,158.9 314.18,165.0 314.05,163.2 313.93,162.3 313.80,160.5 313.68,160.7 313.55,162.7 313.43,164.3 313.30,159.0 313.18,163.5 313.05,160.6 312.93,163.7 312.80,162.6 312.68,161.0 312.55,161.1 312.43,164.3 312.30,160.8 312.18,149.9 312.05,109.7 311.93,107.3 311.80,103.2 311.68,161.6 311.55,159.4 311.43,158.5 311.30,161.6 311.18,161.8 311.05,164.0 310.93,158.3 310.80,156.1 310.68,154.9 310.55,158.1 310.43,155.7 310.30,163.7 310.18,165.8 310.05,164.3 309.93,162.1 309.80,162.2 309.68,154.8 309.55,157.9 309.43,155.2 309.30,160.1 309.18,159.1 309.05,158.9 308.93,161.4 308.80,162.7 308.68,167.3 308.55,166.8 308.43,161.6 308.30,161.7 308.18,164.2 308.05,163.6 307.93,164.1 307.80,160.6 307.68,165.3 307.55,159.6 307.43,160.9 307.30,160.2 307.18,159.3 307.05,162.8 306.93,159.6 306.80,158.5 306.68,160.7 306.55,157.5 306.43,158.3 306.30,158.7 306.18,159.6 306.05,161.0 305.93,154.9 305.80,159.1 305.68,157.2 305.55,158.1 305.43,153.4 305.30,153.2 305.18,162.2 305.05,162.2 304.93,167.1 304.80,173.3 304.68,117.5 304.55,115.0 304.43,118.2 304.30,116.8 304.18,126.3 304.05,167.7 303.93,166.3 303.80,157.5 303.68,159.5 303.55,156.7 303.43,160.4 303.30,159.3 303.18,164.0 303.05,166.2 302.93,168.9 302.80,163.8 302.68,165.3 302.55,165.6 302.43,168.9 302.30,168.0 302.18,165.3 302.05,165.2 301.93,163.4 301.80,165.8 301.68,162.5 301.55,160.4 301.43,164.3 301.30,164.7 301.18,160.5 301.05,164.7 300.93,162.3 300.80,165.8 300.68,164.8 300.55,167.3 300.43,168.8 300.30,167.4 300.18,168.1 300.05,166.4 299.93,169.9 299.80,169.3 299.68,169.1 299.55,169.0 299.43,168.5 299.30,168.5 299.18,170.0 299.05,168.3 298.93,165.7 298.80,164.0 298.68,161.6 298.55,161.5 298.43,163.2 298.30,167.5 298.18,168.8 298.05,167.6 297.93,169.3 297.80,166.9 297.68,165.7 297.55,173.1 297.43,174.4 297.30,171.9 297.18,172.8 297.05,165.6 296.93,168.5 296.80,171.8 296.68,170.5 296.55,168.9 296.43,170.1 296.30,168.9 296.18,166.4 296.05,163.0 295.93,161.4 295.80,161.7 295.68,162.2 295.55,160.2 295.43,159.4 295.30,162.5 295.18,161.5 295.05,156.6 294.93,158.1 294.80,158.7 294.68,154.0 294.55,153.4 294.43,155.0 294.30,155.8 294.18,161.8 294.05,159.8 293.93,162.8 293.80,160.1 293.68,162.9 293.55,169.6 293.43,170.2 293.30,164.2 293.18,165.0 293.05,167.3 292.93,166.4 292.80,165.4 292.68,168.0 292.55,164.4 292.43,165.5 292.30,160.9 292.18,156.5 292.05,155.3 291.93,154.8 291.80,153.6 291.68,155.4 291.55,157.1 291.43,157.6 291.30,154.6 291.18,98.6 291.05,104.0 290.93,110.2 290.80,109.4 290.68,105.5 290.55,105.2 290.43,103.8 290.30,102.6 290.18,103.7 290.05,104.8 289.93,103.8 289.80,104.9 289.68,104.7 289.55,101.9 289.43,104.3 289.30,104.9 289.18,100.3 289.05,102.7 288.93,107.3 288.80,110.1 288.68,108.2 288.55,110.9 288.43,110.3 288.30,105.4 288.18,111.4 288.05,115.8 287.93,111.1 287.80,104.4 287.68,103.7 287.55,102.4 287.43,100.0 287.30,174.7 287.18,174.6 287.05,178.6 286.93,177.2 286.80,177.6 286.68,179.6 286.55,179.9 286.43,177.1 286.30,178.7 286.18,179.5 286.05,181.0 285.93,182.3 285.80,181.6 285.68,183.6 285.55,180.3 285.43,188.3 285.30,188.7 285.18,189.3 285.05,187.3 284.93,190.3 284.80,193.3 284.68,191.4 284.55,191.1 284.43,190.1 284.30,183.8 284.18,181.3 284.05,177.5 283.93,173.6 283.80,174.3 283.68,172.2 283.55,168.8 283.43,171.2 283.30,170.6 283.18,167.6 283.05,168.6 282.93,171.1 282.80,172.0 282.68,174.3 282.55,174.3 282.43,169.1 282.30,171.8 282.18,173.4 282.05,170.3 281.93,173.2 281.80,174.3 281.68,173.7 281.55,176.8 281.43,180.6 281.30,176.2 281.18,182.6 281.05,179.1 280.93,179.2 280.80,175.9 280.68,178.3 280.55,176.9 280.43,183.7 280.30,180.8 280.18,178.8 280.05,182.2 279.93,175.8 279.80,173.1 279.68,177.0 279.55,177.8 279.43,180.8 279.30,176.9 279.18,172.4 279.05,178.0 278.93,176.4 278.80,174.7 278.68,173.5 278.55,174.1 278.43,178.0 278.30,179.4 278.18,179.9 278.05,180.2 277.93,182.3 277.80,184.2 277.68,182.1 277.55,183.4 277.43,177.7 277.30,180.5 277.18,178.6 277.05,176.8 276.93,177.9 276.80,175.2 276.68,178.4 276.55,175.6 276.43,176.5 276.30,178.4 276.18,178.6 276.05,179.7 275.93,174.3 275.80,176.5 275.68,177.1 275.55,176.9 275.43,182.4 275.30,181.5 275.18,184.5 275.05,186.8 274.93,185.0 274.80,178.5 274.68,183.9 274.55,182.0 274.43,179.1 274.30,178.3 274.18,173.3 274.05,174.4 273.93,175.1 273.80,174.7 273.68,177.2 273.55,178.1 273.43,181.3 273.30,185.3 273.18,184.9 273.05,180.4 272.93,181.2 272.80,176.6 272.68,175.8 272.55,177.4 272.43,181.3 272.30,180.5 272.18,180.8 272.05,179.2 271.93,178.0 271.80,175.5 271.68,175.5 271.55,178.7 271.43,178.1 271.30,179.5 271.18,180.8 271.05,170.4 270.93,171.7 270.80,179.7 270.68,178.1 270.55,174.5 270.43,175.1 270.30,172.5 270.18,178.0 270.05,177.8 269.93,174.2 269.80,174.1 269.68,174.4 269.55,174.5 269.43,176.0 269.30,178.8 269.18,168.0 269.05,167.3 268.93,168.3 268.80,179.7 268.68,166.5 268.55,169.9 268.43,169.7 268.30,175.0 268.18,174.2 268.05,173.4 267.93,171.8 267.80,174.4 267.68,174.7 267.55,175.3 267.43,172.1 267.30,177.2 267.18,166.0 267.05,164.9 266.93,156.3 266.80,158.0 266.68,166.3 266.55,163.5 266.43,165.5 266.30,165.8 266.18,164.2 266.05,166.4 265.93,167.0 265.80,163.7 265.68,161.0 265.55,158.8 265.43,159.7 265.30,159.9 265.18,161.9 265.05,162.3 264.93,160.9 264.80,163.3 264.68,159.3 264.55,161.4 264.43,160.6 264.30,165.2 264.18,167.9 264.05,163.2 263.93,163.5 263.80,162.0 263.68,157.4 263.55,126.7 263.43,151.3 263.30,171.1 263.18,169.7 263.05,173.8 262.93,174.2 262.80,176.4 262.68,175.2 262.55,174.4 262.43,178.4 262.30,178.8 262.18,178.7 262.05,171.0 261.93,169.0 261.80,168.7 261.68,166.2 261.55,166.5 261.43,170.0 261.30,175.0 261.18,178.5 261.05,174.1 260.93,173.6 260.80,175.0 260.68,174.5 260.55,172.8 260.43,172.1 260.30,174.1 260.18,174.7 260.05,178.4 259.93,180.0 259.80,182.8 259.68,182.3 259.55,182.9 259.43,183.9 259.30,189.6 259.18,186.1 259.05,180.8 258.93,182.2 258.80,182.4 258.68,183.4 258.55,182.8 258.43,186.2 258.30,185.9 258.18,181.0 258.05,182.9 257.93,181.3 257.80,184.9 257.68,181.8 257.55,185.2 257.43,181.3 257.30,120.0 257.18,115.0 257.05,111.3 256.93,111.7 256.80,110.6 256.68,112.8 256.55,113.5 256.43,113.3 256.30,113.0 256.18,110.6 256.05,108.9 255.93,106.7 255.80,108.1 255.68,106.4 255.55,112.4 255.43,113.7 255.30,111.6 255.18,109.7 255.05,109.7 254.93,110.4 254.80,109.7 254.68,111.6 254.55,110.5 254.43,110.8 254.30,187.6 254.18,187.1 254.05,192.7 253.93,194.2 253.80,188.1 253.68,181.1 253.55,178.5 253.43,184.3 253.30,187.1 253.18,185.3 253.05,188.4 252.93,188.4 252.80,184.1 252.68,179.7 252.55,179.8 252.43,185.7 252.30,192.3 252.18,190.0 252.05,187.5 251.93,193.7 251.80,194.1 251.68,194.5 251.55,195.5 251.43,193.2 251.30,189.3 251.18,191.5 251.05,188.6 250.93,185.9 250.80,192.7 250.68,191.0 250.55,193.1 250.43,189.8 250.30,187.8 250.18,187.3 250.05,182.5 249.93,183.2 249.80,182.9 249.68,180.6 249.55,179.6 249.43,177.8 249.30,178.9 249.18,182.4 249.05,184.5 248.93,186.0 248.80,185.5 248.68,183.9 248.55,188.3 248.43,188.6 248.30,188.9 248.18,185.9 248.05,194.1 247.93,189.5 247.80,191.7 247.68,183.8 247.55,183.9 247.43,184.6 247.30,183.2 247.18,179.2 247.05,180.4 246.93,179.0 246.80,180.0 246.68,182.5 246.55,180.6 246.43,181.5 246.30,179.4 246.18,184.8 246.05,184.4 245.93,183.2 245.80,187.1 245.68,185.3 245.55,186.5 245.43,185.1 245.30,182.2 245.18,184.3 245.05,183.3 244.93,185.1 244.80,186.7 244.68,185.1 244.55,188.4 244.43,183.8 244.30,183.9 244.18,196.8 244.05,185.4 243.93,181.5 243.80,185.4 243.68,184.2 243.55,184.7 243.43,184.3 243.30,184.0 243.18,184.7 243.05,187.2 242.93,191.6 242.80,191.4 242.68,196.9 242.55,197.7 242.43,194.3 242.30,190.4 242.18,189.3 242.05,187.2 241.93,183.3 241.80,178.3 241.68,187.1 241.55,185.3 241.43,185.4 241.30,188.7 241.18,186.8 241.05,189.1 240.93,188.9 240.80,187.7 240.68,184.8 240.55,185.6 240.43,177.2 240.30,176.6 240.18,176.7 240.05,178.6 239.93,186.3 239.80,188.8 239.68,181.6 239.55,182.5 239.43,184.1 239.30,177.4 239.18,176.2 239.05,173.9 238.93,178.2 238.80,180.1 238.68,176.9 238.55,176.7 238.43,176.8 238.30,181.2 238.18,178.1 238.05,174.9 237.93,182.2 237.80,186.3 237.68,184.6 237.55,148.5 237.43,118.8 237.30,118.6 237.18,114.0 237.05,118.5 236.93,118.1 236.80,119.2 236.68,122.7 236.55,123.9 236.43,126.0 236.30,123.6 236.18,126.5 236.05,124.7 235.93,124.6 235.80,124.5 235.68,119.4 235.55,116.1 235.43,118.2 235.30,117.4 235.18,118.7 235.05,118.3 234.93,117.9 234.80,112.5 234.68,112.6 234.55,115.0 234.43,117.3 234.30,116.9 234.18,115.2 234.05,117.9 233.93,120.4 233.80,121.7 233.68,119.8 233.55,114.0 233.43,113.7 233.30,111.1 233.18,116.6 233.05,115.0 232.93,114.6 232.80,114.4 232.68,110.5 232.55,111.0 232.43,112.1 232.30,111.8 232.18,112.0 232.05,107.9 231.93,107.6 231.80,110.5 231.68,110.8 231.55,138.4 231.43,170.5 231.30,168.5 231.18,163.6 231.05,169.0 230.93,169.4 230.80,167.8 230.68,165.3 230.55,164.1 230.43,170.9 230.30,170.5 230.18,172.4 230.05,176.9 229.93,171.7 229.80,169.6 229.68,173.0 229.55,173.8 229.43,172.1 229.30,168.9 229.18,171.9 229.05,169.7 228.93,170.3 228.80,178.0 228.68,176.2 228.55,173.6 228.43,173.2 228.30,176.6 228.18,174.2 228.05,172.0 227.93,170.7 227.80,171.3 227.68,171.0 227.55,170.3 227.43,172.7 227.30,176.0 227.18,174.0 227.05,176.7 226.93,174.7 226.80,170.2 226.68,174.2 226.55,174.2 226.43,173.4 226.30,169.1 226.18,173.2 226.05,170.0 225.93,171.9 225.80,173.2 225.68,171.0 225.55,173.6 225.43,178.3 225.30,175.9 225.18,182.4 225.05,178.7 224.93,182.5 224.80,174.7 224.68,174.3 224.55,172.1 224.43,172.2 224.30,170.5 224.18,174.4 224.05,177.9 223.93,176.1 223.80,177.2 223.68,174.7 223.55,166.6 223.43,163.9 223.30,161.9 223.18,161.0 223.05,161.4 222.93,159.3 222.80,163.4 222.68,119.0 222.55,120.3 222.43,122.0 222.30,124.2 222.18,124.0 222.05,117.5 221.93,115.9 221.80,125.0 221.68,124.6 221.55,123.9 221.43,121.8 221.30,130.6 221.18,128.2 221.05,127.5 220.93,133.2 220.80,132.1 220.68,189.2 220.55,187.5 220.43,191.4 220.30,186.2 220.18,187.1 220.05,185.8 219.93,186.6 219.80,186.3 219.68,184.6 219.55,184.3 219.43,179.8 219.30,177.6 219.18,182.6 219.05,175.9 218.93,172.1 218.80,174.2 218.68,180.0 218.55,184.4 218.43,184.5 218.30,183.7 218.18,184.6 218.05,183.7 217.93,182.7 217.80,179.5 217.68,177.6 217.55,179.6 217.43,181.5 217.30,183.4 217.18,179.4 217.05,183.6 216.93,184.7 216.80,182.0 216.68,178.9 216.55,180.7 216.43,187.7 216.30,180.9 216.18,175.8 216.05,175.7 215.93,176.7 215.80,179.7 215.68,176.2 215.55,178.4 215.43,180.8 215.30,185.1 215.18,187.1 215.05,180.4 214.93,183.4 214.80,179.6 214.68,182.9 214.55,185.1 214.43,183.7 214.30,183.8 214.18,180.9 214.05,178.7 213.93,175.2 213.80,179.4 213.68,181.1 213.55,179.2 213.43,178.7 213.30,181.4 213.18,176.8 213.05,177.4 212.93,176.3 212.80,176.2 212.68,175.3 212.55,174.6 212.43,171.2 212.30,174.0 212.18,168.3 212.05,170.0 211.93,174.8 211.80,171.3 211.68,173.4 211.55,172.0 211.43,173.1 211.30,177.7 211.18,175.5 211.05,175.0 210.93,183.5 210.80,177.6 210.68,174.8 210.55,174.3 210.43,178.8 210.30,176.2 210.18,182.3 210.05,183.6 209.93,182.0 209.80,185.7 209.68,182.2 209.55,181.0 209.43,183.4 209.30,120.5 209.18,120.4 209.05,124.9 208.93,116.4 208.80,113.6 208.68,110.1 208.55,108.8 208.43,110.8 208.30,109.9 208.18,121.0 208.05,123.8 207.93,125.5 207.80,123.9 207.68,162.2 207.55,164.1 207.43,162.7 207.30,164.7 207.18,172.2 207.05,173.4 206.93,171.2 206.80,174.5 206.68,174.6 206.55,169.6 206.43,170.2 206.30,165.9 206.18,162.4 206.05,163.5 205.93,159.6 205.80,158.3 205.68,161.1 205.55,161.9 205.43,163.1 205.30,161.7 205.18,159.0 205.05,165.0 204.93,163.2 204.80,159.8 204.68,156.9 204.55,157.9 204.43,156.7 204.30,156.8 204.18,164.2 204.05,167.3 203.93,167.8 203.80,172.8 203.68,166.3 203.55,168.4 203.43,171.9 203.30,176.2 203.18,172.5 203.05,170.5 202.93,167.6 202.80,174.4 202.68,167.1 202.55,164.8 202.43,162.3 202.30,163.5 202.18,166.1 202.05,159.6 201.93,160.7 201.80,159.5 201.68,159.2 201.55,158.9 201.43,158.2 201.30,163.3 201.18,160.0 201.05,166.3 200.93,165.1 200.80,166.8 200.68,166.9 200.55,162.6 200.43,160.8 200.30,160.0 200.18,160.5 200.05,156.7 199.93,155.6 199.80,154.7 199.68,156.1 199.55,134.3 199.43,111.8 199.30,106.0 199.18,107.9 199.05,109.8 198.93,113.1 198.80,111.5 198.68,111.1 198.55,109.6 198.43,112.7 198.30,114.4 198.18,111.4 198.05,118.2 197.93,115.8 197.80,116.6 197.68,113.5 197.55,114.0 197.43,107.5 197.30,111.6 197.18,105.4 197.05,108.0 196.93,108.1 196.80,105.4 196.68,104.3 196.55,106.2 196.43,109.2 196.30,165.4 196.18,162.3 196.05,164.4 195.93,170.1 195.80,172.9 195.68,176.1 195.55,174.4 195.43,178.1 195.30,178.8 195.18,178.6 195.05,176.8 194.93,172.7 194.80,165.7 194.68,167.3 194.55,162.4 194.43,162.1 194.30,164.3 194.18,167.9 194.05,169.5 193.93,169.4 193.80,169.9 193.68,168.7 193.55,166.9 193.43,165.0 193.30,161.1 193.18,162.3 193.05,164.0 192.93,158.4 192.80,160.5 192.68,161.5 192.55,164.6 192.43,164.9 192.30,169.7 192.18,167.2 192.05,162.2 191.93,165.5 191.80,167.7 191.68,166.9 191.55,164.9 191.43,162.3 191.30,162.9 191.18,163.5 191.05,166.1 190.93,164.1 190.80,167.7 190.68,166.8 190.55,169.9 190.43,169.5 190.30,167.5 190.18,167.0 190.05,168.4 189.93,170.5 189.80,169.5 189.68,164.8 189.55,164.7 189.43,163.5 189.30,162.4 189.18,167.0 189.05,170.4 188.93,168.0 188.80,167.1 188.68,165.4 188.55,166.9 188.43,170.3 188.30,163.7 188.18,109.5 188.05,106.8 187.93,103.4 187.80,104.8 187.68,109.2 187.55,108.7 187.43,108.1 187.30,109.3 187.18,104.8 187.05,103.0 186.93,145.5 186.80,166.1 186.68,164.5 186.55,167.5 186.43,167.7 186.30,167.6 186.18,170.9 186.05,172.2 185.93,174.0 185.80,176.1 185.68,172.3 185.55,171.1 185.43,168.4 185.30,169.3 185.18,168.7 185.05,165.2 184.93,164.7 184.80,165.8 184.68,169.0 184.55,168.7 184.43,170.2 184.30,169.3 184.18,165.9 184.05,166.2 183.93,172.2 183.80,170.8 183.68,168.9 183.55,167.9 183.43,170.8 183.30,170.6 183.18,176.1 183.05,173.3 182.93,176.6 182.80,169.7 182.68,172.6 182.55,169.8 182.43,170.2 182.30,172.6 182.18,174.5 182.05,170.4 181.93,170.6 181.80,168.9 181.68,171.4 181.55,169.8 181.43,171.3 181.30,169.9 181.18,176.3 181.05,174.9 180.93,165.4 180.80,169.0 180.68,166.3 180.55,173.3 180.43,171.2 180.30,171.0 180.18,174.7 180.05,175.2 179.93,174.4 179.80,174.6 179.68,174.8 179.55,172.4 179.43,174.7 179.30,176.3 179.18,176.9 179.05,175.4 178.93,179.7 178.80,179.3 178.68,178.7 178.55,173.0 178.43,178.5 178.30,177.1 178.18,175.5 178.05,170.9 177.93,173.7 177.80,179.6 177.68,180.6 177.55,180.3 177.43,175.2 177.30,174.7 177.18,180.6 177.05,178.5 176.93,176.9 176.80,178.5 176.68,180.1 176.55,183.4 176.43,182.4 176.30,182.5 176.18,182.8 176.05,178.9 175.93,174.4 175.80,180.4 175.68,181.1 175.55,182.2 175.43,187.5 175.30,183.8 175.18,178.0 175.05,179.1 174.93,174.4 174.80,174.5 174.68,174.5 174.55,175.2 174.43,173.7 174.30,171.6 174.18,179.7 174.05,175.4 173.93,173.8 173.80,166.8 173.68,166.9 173.55,169.9 173.43,172.6 173.30,173.1 173.18,171.1 173.05,172.1 172.93,174.6 172.80,171.8 172.68,176.7 172.55,176.6 172.43,181.0 172.30,183.2 172.18,183.2 172.05,180.0 171.93,175.9 171.80,176.5 171.68,178.7 171.55,173.2 171.43,172.9 171.30,180.1 171.18,174.0 171.05,169.4 170.93,171.1 170.80,167.7 170.68,172.3 170.55,166.5 170.43,170.0 170.30,169.9 170.18,171.3 170.05,174.9 169.93,177.0 169.80,176.3 169.68,180.3 169.55,178.0 169.43,170.6 169.30,173.9 169.18,173.5 169.05,173.3 168.93,180.4 168.80,180.7 168.68,178.3 168.55,173.1 168.43,177.1 168.30,173.7 168.18,171.9 168.05,173.5 167.93,167.8 167.80,169.7 167.68,169.7 167.55,173.2 167.43,174.1 167.30,174.8 167.18,173.7 167.05,177.6 166.93,176.2 166.80,172.8 166.68,170.8 166.55,165.0 166.43,164.6 166.30,169.6 166.18,173.2 166.05,175.8 165.93,177.5 165.80,176.0 165.68,172.9 165.55,173.2 165.43,174.7 165.30,171.5 165.18,175.4 165.05,174.0 164.93,179.2 164.80,175.4 164.68,179.7 164.55,176.7 164.43,174.5 164.30,181.6 164.18,182.8 164.05,177.2 163.93,173.1 163.80,172.5 163.68,171.7 163.55,169.4 163.43,170.8 163.30,170.9 163.18,171.8 163.05,174.8 162.93,173.6 162.80,175.3 162.68,175.1 162.55,180.1 162.43,175.4 162.30,178.9 162.18,173.8 162.05,173.7 161.93,177.4 161.80,180.0 161.68,178.6 161.55,177.9 161.43,178.3 161.30,176.2 161.18,177.9 161.05,176.9 160.93,172.8 160.80,172.4 160.68,175.0 160.55,174.5 160.43,179.0 160.30,172.2 160.18,171.2 160.05,173.9 159.93,174.3 159.80,171.1 159.68,169.8 159.55,170.5 159.43,164.6 159.30,169.9 159.18,168.4 159.05,168.5 158.93,172.1 158.80,169.7 158.68,173.5 158.55,177.5 158.43,172.3 158.30,168.6 158.18,171.4 158.05,168.3 157.93,173.2 157.80,171.9 157.68,169.6 157.55,173.5 157.43,171.9 157.30,169.5 157.18,170.1 157.05,172.9 156.93,173.2 156.80,175.4 156.68,174.1 156.55,174.6 156.43,174.4 156.30,176.5 156.18,172.8 156.05,175.4 155.93,180.2 155.80,183.8 155.68,177.4 155.55,174.3 155.43,175.7 155.30,175.4 155.18,173.1 155.05,177.4 154.93,170.9 154.80,171.2 154.68,175.9 154.55,173.0 154.43,173.7 154.30,174.4 154.18,181.5 154.05,183.7 153.93,176.7 153.80,177.1 153.68,176.5 153.55,175.5 153.43,178.2 153.30,180.3 153.18,184.7 153.05,180.1 152.93,182.4 152.80,187.2 152.68,188.4 152.55,191.8 152.43,197.7 152.30,190.3 152.18,187.1 152.05,186.9 151.93,186.1 151.80,131.5 151.68,132.0 151.55,131.1 151.43,131.9 151.30,133.2 151.18,131.2 151.05,131.0 150.93,133.0 150.80,132.6 150.68,136.6 150.55,138.6 150.43,132.0 150.30,131.8 150.18,131.3 150.05,127.4 149.93,128.8 149.80,127.7 149.68,130.3 149.55,137.3 149.43,137.1 149.30,136.5 149.18,132.0 149.05,133.1 148.93,128.7 148.80,135.3 148.68,130.8 148.55,130.0 148.43,126.0 148.30,126.0 148.18,132.9 148.05,133.9 147.93,127.3 147.80,135.4 147.68,139.3 147.55,133.8 147.43,139.5 147.30,134.2 147.18,133.7 147.05,131.7 146.93,155.7 146.80,160.1 146.68,159.3 146.55,165.4 146.43,160.2 146.30,160.6 146.18,164.0 146.05,168.5 145.93,168.4 145.80,167.7 145.68,171.5 145.55,168.7 145.43,164.8 145.30,164.4 145.18,166.0 145.05,165.6 144.93,167.3 144.80,169.1 144.68,167.9 144.55,171.6 144.43,175.7 144.30,173.6 144.18,174.1 144.05,179.3 143.93,177.0 143.80,174.9 143.68,176.4 143.55,179.3 143.43,178.4 143.30,173.5 143.18,174.9 143.05,175.9 142.93,177.9 142.80,183.2 142.68,184.6 142.55,179.0 142.43,178.7 142.30,178.4 142.18,175.2 142.05,182.1 141.93,184.6 141.80,180.3 141.68,179.8 141.55,180.6 141.43,180.9 141.30,176.0 141.18,179.2 141.05,177.5 140.93,180.2 140.80,179.4 140.68,178.8 140.55,176.6 140.43,175.6 140.30,178.2 140.18,177.5 140.05,176.8 139.93,172.5 139.80,175.4 139.68,175.7 139.55,176.0 139.43,170.5 139.30,173.1 139.18,171.1 139.05,165.7 138.93,168.4 138.80,171.3 138.68,172.0 138.55,179.4 138.43,183.0 138.30,178.9 138.18,174.0 138.05,175.0 137.93,175.9 137.80,173.3 137.68,169.7 137.55,174.2 137.43,169.9 137.30,170.0 137.18,172.3 137.05,172.5 136.93,172.7 136.80,165.0 136.68,169.9 136.55,170.0 136.43,169.1 136.30,174.2 136.18,170.1 136.05,170.8 135.93,172.7 135.80,167.8 135.68,165.8 135.55,173.0 135.43,170.7 135.30,171.2 135.18,168.7 135.05,170.9 134.93,174.3 134.80,173.9 134.68,172.9 134.55,170.8 134.43,169.0 134.30,169.6 134.18,163.7 134.05,165.9 133.93,164.7 133.80,160.8 133.68,163.2 133.55,141.2 133.43,118.7 133.30,121.0 133.18,123.6 133.05,128.2 132.93,132.5 132.80,130.1 132.68,183.1 132.55,179.8 132.43,180.6 132.30,183.2 132.18,183.9 132.05,183.1 131.93,178.7 131.80,177.6 131.68,177.8 131.55,176.3 131.43,177.6 131.30,179.0 131.18,179.2 131.05,180.3 130.93,178.9 130.80,180.3 130.68,178.8 130.55,178.6 130.43,172.5 130.30,173.5 130.18,168.8 130.05,173.7 129.93,176.3 129.80,174.1 129.68,176.2 129.55,174.6 129.43,181.2 129.30,181.8 129.18,179.2 129.05,179.4 128.93,171.1 128.80,167.5 128.68,168.5 128.55,170.4 128.43,171.5 128.30,179.3 128.18,178.4 128.05,178.1 127.92,179.9 127.80,173.4 127.67,170.5 127.55,168.2 127.42,165.0 127.30,165.1 127.17,163.5 127.05,162.5 126.92,162.5 126.80,170.6 126.67,171.3 126.55,175.8 126.42,173.3 126.30,175.2 126.17,176.2 126.05,173.7 125.92,174.3 125.80,175.0 125.67,176.9 125.55,177.6 125.42,175.4 125.30,178.4 125.17,174.2 125.05,175.1 124.92,175.7 124.80,171.1 124.67,171.3 124.55,169.3 124.42,170.8 124.30,174.1 124.17,173.3 124.05,177.8 123.92,175.9 123.80,175.3 123.67,175.0 123.55,172.5 123.42,179.6 123.30,181.9 123.17,178.7 123.05,181.0 122.92,179.4 122.80,176.7 122.67,181.8 122.55,178.5 122.42,177.2 122.30,180.9 122.17,178.9 122.05,182.4 121.92,179.5 121.80,177.8 121.67,173.3 121.55,176.2 121.42,175.6 121.30,180.3 121.17,180.3 121.05,183.5 120.92,182.4 120.80,184.0 120.67,179.1 120.55,183.3 120.42,183.5 120.30,180.1 120.17,179.8 120.05,182.7 119.92,176.9 119.80,173.2 119.67,172.2 119.55,172.5 119.42,172.3 119.30,170.1 119.17,172.7 119.05,179.2 118.92,180.0 118.80,175.7 118.67,171.7 118.55,173.5 118.42,174.3 118.30,172.6 118.17,172.7 118.05,165.9 117.92,169.2 117.80,167.0 117.67,166.2 117.55,165.7 117.42,165.1 117.30,164.5 117.17,154.6 117.05,124.3 116.92,127.4 116.80,129.6 116.67,129.7 116.55,134.1 116.42,135.7 116.30,141.6 116.17,134.7 116.05,134.2 115.92,130.5 115.80,126.7 115.67,126.4 115.55,126.4 115.42,128.0 115.30,124.3 115.17,125.1 115.05,128.9 114.92,126.3 114.80,123.2 114.67,122.7 114.55,125.5 114.42,127.7 114.30,131.2 114.17,126.3 114.05,123.1 113.92,127.6 113.80,129.0 113.67,125.0 113.55,118.3 113.42,122.6 113.30,124.5 113.17,127.4 113.05,125.1 112.92,120.8 112.80,123.5 112.67,125.3 112.55,124.0 112.42,125.0 112.30,124.7 112.17,126.6 112.05,128.6 111.92,126.0 111.80,127.1 111.67,122.4 111.55,121.9 111.42,120.0 111.30,122.5 111.17,119.7 111.05,123.5 110.92,126.6 110.80,121.4 110.67,120.5 110.55,124.1 110.42,122.4 110.30,118.2 110.17,119.8 110.05,123.0 109.92,122.3 109.80,115.2 109.67,114.3 109.55,117.9 109.42,146.5 109.30,161.8 109.17,161.5 109.05,165.1 108.92,164.7 108.80,168.1 108.67,171.7 108.55,172.8 108.42,170.2 108.30,164.5 108.17,170.3 108.05,168.5 107.92,169.0 107.80,168.3 107.67,163.3 107.55,169.0 107.42,170.4 107.30,171.8 107.17,171.5 107.05,179.3 106.92,178.1 106.80,174.2 106.67,171.9 106.55,173.0 106.42,173.1 106.30,175.1 106.17,178.2 106.05,170.3 105.92,170.3 105.80,172.6 105.67,173.8 105.55,171.3 105.42,170.5 105.30,177.0 105.17,175.0 105.05,170.5 104.92,168.8 104.80,173.7 104.67,173.5 104.55,172.3 104.42,169.5 104.30,170.0 104.17,167.5 104.05,167.7 103.92,167.7 103.80,162.2 103.67,166.0 103.55,165.0 103.42,163.5 103.30,163.4 103.17,159.8 103.05,158.1 102.92,161.6 102.80,163.4 102.67,158.6 102.55,158.8 102.42,161.8 102.30,163.3 102.17,168.6 102.05,166.1 101.92,161.4 101.80,161.3 101.67,163.6 101.55,161.3 101.42,164.1 101.30,163.7 101.17,160.7 101.05,159.1 100.92,164.4 100.80,161.7 100.67,161.8 100.55,164.5 100.42,166.2 100.30,163.0 100.17,160.8 100.05,170.1 99.92,167.3 99.80,164.9 99.67,164.5 99.55,161.4 99.42,161.5 99.30,161.6 99.17,161.2 99.05,159.8 98.92,160.5 98.80,157.1 98.67,164.8 98.55,161.3 98.42,165.0 98.30,165.9 98.17,162.8 98.05,170.6 97.92,167.2 97.80,164.9 97.67,169.4 97.55,167.5 97.42,165.5 97.30,161.2 97.17,152.5 97.05,157.3 96.92,166.6 96.80,168.2 96.67,162.7 96.55,159.8 96.42,158.7 96.30,161.9 96.17,155.3 96.05,158.7 95.92,155.1 95.80,156.6 95.67,153.6 95.55,158.2 95.42,162.0 95.30,160.7 95.17,159.8 95.05,163.6 94.92,164.6 94.80,165.0 94.67,163.8 94.55,162.4 94.42,164.7 94.30,158.8 94.17,164.7 94.05,162.5 93.92,164.2 93.80,165.7 93.67,165.7 93.55,166.4 93.42,166.5 93.30,166.4 93.17,167.9 93.05,170.4 92.92,171.4 92.80,171.6 92.67,167.3 92.55,165.5 92.42,169.0 92.30,162.3 92.17,158.3 92.05,134.8 91.92,108.2 91.80,113.1 91.67,116.4 91.55,115.0 91.42,109.3 91.30,110.4 91.17,113.2 91.05,109.1 90.92,110.8 90.80,116.7 90.67,119.2 90.55,118.4 90.42,121.8 90.30,122.1 90.17,120.3 90.05,122.6 89.92,120.5 89.80,115.2 89.67,114.6 89.55,119.0 89.42,114.1 89.30,116.3 89.17,116.2 89.05,114.6 88.92,120.8 88.80,117.9 88.67,115.5 88.55,118.5 88.42,117.2 88.30,116.2 88.17,114.4 88.05,117.8 87.92,118.8 87.80,114.6 87.67,111.5 87.55,114.2 87.42,113.9 87.30,114.2 87.17,157.5 87.05,158.2 86.92,159.4 86.80,165.7 86.67,163.0 86.55,166.8 86.42,165.3 86.30,166.8 86.17,162.3 86.05,164.6 85.92,168.7 85.80,173.7 85.67,175.6 85.55,175.6 85.42,179.3 85.30,179.0 85.17,174.7 85.05,178.6 84.92,176.1 84.80,172.0 84.67,171.1 84.55,167.4 84.42,167.2 84.30,166.0 84.17,169.8 84.05,170.8 83.92,169.9 83.80,172.4 83.67,170.5 83.55,168.0 83.42,163.3 83.30,164.9 83.17,170.7 83.05,171.1 82.92,175.1 82.80,170.6 82.67,170.8 82.55,171.3 82.42,170.1 82.30,170.2 82.17,165.7 82.05,149.8 81.92,133.6 81.80,118.4 81.67,94.9 81.55,84.1 81.42,87.9 81.30,93.1 81.17,99.3 81.05,100.3 80.92,102.1 80.80,94.9 80.67,93.5 80.55,91.0 80.42,90.9 80.30,91.4 80.17,90.7 80.05,85.2 79.92,91.9 79.80,96.4 79.67,94.7 79.55,96.6 79.42,97.9 79.30,99.4 79.17,102.1 79.05,95.5 78.92,94.9 78.80,91.4 78.67,95.1 78.55,95.3 78.42,98.2 78.30,95.5 78.17,92.7 78.05,90.7 77.92,92.9 77.80,88.8 77.67,90.5 77.55,91.8 77.42,92.4 77.30,99.3 77.17,99.7 77.05,100.9 76.92,100.3 76.80,98.7 76.67,101.1 76.55,99.5 76.42,100.8 76.30,98.0 76.17,95.7 76.05,97.9 75.92,99.2 75.80,92.4 75.67,97.0 75.55,98.2 75.42,101.3 75.30,98.0 75.17,97.3 75.05,102.2 74.92,102.8 74.80,102.2 74.67,101.0 74.55,101.6 74.42,100.9 74.30,99.8 74.17,101.1 74.05,105.8 73.92,102.2 73.80,93.7 73.67,94.9 73.55,96.2 73.42,96.0 73.30,101.0 73.17,97.4 73.05,91.8 72.92,92.5 72.80,92.8 72.67,93.2 72.55,93.6 72.42,93.2 72.30,90.3 72.17,88.7 72.05,85.5 71.92,89.1 71.80,89.2 71.67,84.1 71.55,82.0 71.42,84.9 71.30,86.7 71.17,82.6 71.05,76.2 70.92,69.2 70.80,68.3 70.67,72.7 70.55,69.6 70.42,71.6 70.30,67.6 70.17,68.1 70.05,73.4 69.92,77.5 69.80,76.6 69.67,72.7 69.55,68.9 69.42,73.2 69.30,68.7 69.17,66.4 69.05,73.0 68.92,70.6 68.80,74.3 68.67,72.8 68.55,73.8 68.42,74.7 68.30,70.4 68.17,68.8 68.05,64.9 67.92,62.7 67.80,66.1 67.67,69.0 67.55,64.0 67.42,68.0 67.30,64.2 67.17,67.0 67.05,69.4 66.92,68.2 66.80,64.1 66.67,64.2 66.55,62.5 66.42,70.1 66.30,69.5 66.17,68.3 66.05,70.4 65.92,68.6 65.80,66.2 65.67,68.2 65.55,71.1 65.42,70.5 65.30,68.4 65.17,73.7 65.05,76.5 64.92,81.4 64.80,88.4 64.67,88.9 64.55,92.3 64.42,91.0 64.30,93.1 64.17,95.4 64.05,97.7 63.92,92.3 63.80,91.6 63.67,92.0 63.55,93.4 63.42,88.6 63.30,89.1 63.17,90.4 63.05,82.6 62.92,86.5 62.80,83.9 62.67,82.7 62.55,84.1 62.42,91.5 62.30,92.3 62.17,90.2 62.05,86.7 61.92,88.5 61.80,85.4 61.67,87.4 61.55,87.1 61.42,83.1 61.30,82.2 61.17,84.0 61.05,85.8 60.92,82.1 60.80,79.4 60.67,79.2 60.55,81.1 60.42,81.4 60.30,86.3 60.17,84.4 60.05,87.0 59.92,87.0 59.80,91.5 59.67,96.5 59.55,92.1 59.42,88.8 59.30,87.6 59.17,82.9 59.05,77.6 58.92,70.1 58.80,70.4 58.67,72.0 58.55,71.0 58.42,72.8 58.30,77.4 58.17,84.5 58.05,92.9 57.92,89.5 57.80,96.6 57.67,98.7 57.55,99.1 57.42,98.4 57.30,103.0 57.17,101.4 57.05,106.2 56.92,107.9 56.80,111.8 56.67,104.4 56.55,104.8 56.42,102.0 56.30,104.9 56.17,101.8 56.05,106.9 55.92,104.1 55.80,103.0 55.67,108.6 55.55,106.6 55.42,105.4 55.30,106.4 55.17,102.4 55.05,105.0 54.92,104.8 54.80,103.6 54.67,100.0 54.55,102.4 54.42,101.8 54.30,101.5 54.17,99.8 54.05,98.7 53.92,101.8 53.80,94.9 53.67,87.7 53.55,88.2 53.42,87.4 53.30,87.8 53.17,81.9 53.05,75.4 52.92,72.2 52.80,67.9 52.67,67.1 52.55,67.8 52.42,71.4 52.30,71.1 52.17,65.3 52.05,67.6 51.92,72.1 51.80,77.7 51.67,76.5 51.55,79.3 51.42,74.6 51.30,79.6 51.17,78.0 51.05,83.1 50.92,81.1 50.80,86.6 50.67,93.9 50.55,96.9 50.42,94.0 50.30,94.9 50.17,101.2 50.05,101.6 49.92,99.7 49.80,99.4 49.67,97.7 49.55,98.5 49.42,95.5 49.30,96.8 49.17,96.9 49.05,95.8 48.92,94.3 48.80,92.9 48.67,98.5 48.55,101.1 48.42,98.5 48.30,98.9 48.17,100.8 48.05,94.5 47.92,93.4 47.80,100.5 47.67,95.4 47.55,98.4 47.42,98.9 47.30,94.6 47.17,93.3 47.05,89.9 46.92,90.4 46.80,89.7 46.67,92.5 46.55,93.5 46.42,90.6 46.30,90.8 46.17,91.5 46.05,87.2 45.92,87.2 45.80,89.2 45.67,94.4 45.55,92.1 45.42,92.9 45.30,95.9 45.17,88.2 45.05,88.9 44.92,85.5 44.80,88.2 44.67,89.5 44.55,89.9 44.42,84.6 44.30,85.0 44.17,84.8 44.05,85.5 43.92,85.5 43.80,91.5 43.67,95.2 43.55,90.3 43.42,90.4 43.30,93.1 43.17,91.6 43.05,89.0 42.92,85.9 42.80,83.7 42.67,88.2 42.55,88.2 42.42,87.7 42.30,93.0 42.17,94.0 42.05,90.1 41.92,95.0 41.80,90.5 41.67,84.1 41.55,82.8 41.42,87.0 41.30,89.2 41.17,85.0 41.05,89.5 40.92,86.0 40.80,91.3 40.67,89.7 40.55,90.6 40.42,87.9 40.30,87.3 40.17,88.6 40.05,86.7 39.92,88.0 39.80,89.1 39.67,93.2 39.55,88.8 39.42,89.1 39.30,87.4 39.17,85.2 39.05,83.5 38.92,83.4 38.80,83.2 38.67,82.4 38.55,86.3 38.42,87.4 38.30,83.0 38.17,82.4 38.05,84.2 37.92,82.8 37.80,81.8 37.67,83.7 37.55,75.1 37.42,80.1 37.30,79.4 37.17,79.3 37.05,77.2 36.92,73.0 36.80,73.0 36.67,72.3 36.55,74.9 36.42,73.5 36.30,73.1 36.17,73.2 36.05,77.0 35.92,74.8 35.80,79.8 35.67,82.7 35.55,80.2 35.42,78.7 35.30,72.1 35.17,73.6 35.05,75.5 34.92,70.6 34.80,69.7 34.67,73.6 34.55,72.5 34.42,68.1 34.30,66.9 34.17,68.8 34.05,62.8 33.92,64.7 33.80,60.2Z" fill="#d9d9d9" stroke="none"/>
<path d="M33.80,49.9 33.92,46.4 34.05,33.9 34.17,36.9 34.30,35.6 34.42,37.8 34.55,39.8 34.67,44.2 34.80,44.3 34.92,44.3 35.05,50.5 35.17,41.6 35.30,45.8 35.42,44.6 35.55,48.2 35.67,34.2 35.80,51.0 35.92,50.3 36.05,50.6 36.17,47.1 36.30,54.9 36.42,57.6 36.55,57.3 36.67,59.6 36.80,58.0 36.92,66.7 37.05,63.0 37.17,65.4 37.30,65.2 37.42,66.1 37.55,66.2 37.67,73.0 37.80,59.4 37.92,68.4 38.05,66.5 38.17,65.0 38.30,58.0 38.42,56.3 38.55,64.1 38.67,57.0 38.80,61.9 38.92,56.4 39.05,56.2 39.17,62.1 39.30,55.5 39.42,59.3 39.55,64.5 39.67,57.1 39.80,69.9 39.92,63.2 40.05,66.5 40.17,63.0 40.30,70.3 40.42,66.6 40.55,75.3 40.67,67.1 40.80,81.1 40.92,68.6 41.05,76.2 41.17,76.5 41.30,78.0 41.42,73.1 41.55,80.2 41.67,79.3 41.80,77.2 41.92,77.8 42.05,76.9 42.17,81.3 42.30,74.2 42.42,80.3 42.55,81.6 42.67,74.6 42.80,69.4 42.92,80.1 43.05,80.5 43.17,86.9 43.30,82.1 43.42,78.5 43.55,80.8 43.67,79.9 43.80,78.3 43.92,75.9 44.05,74.2 44.17,80.0 44.30,77.0 44.42,72.9 44.55,76.8 44.67,70.8 44.80,68.9 44.92,76.4 45.05,71.8 45.17,76.5 45.30,71.6 45.42,65.3 45.55,68.7 45.67,67.7 45.80,69.3 45.92,56.9 46.05,55.5 46.17,56.0 46.30,55.6 46.42,57.9 46.55,65.8 46.67,70.6 46.80,67.7 46.92,73.6 47.05,74.2 47.17,76.9 47.30,73.4 47.42,73.8 47.55,76.9 47.67,77.0 47.80,78.6 47.92,84.4 48.05,78.8 48.17,82.2 48.30,77.8 48.42,82.5 48.55,80.5 48.67,80.3 48.80,82.1 48.92,77.4 49.05,76.0 49.17,77.0 49.30,69.4 49.42,75.6 49.55,60.1 49.67,68.5 49.80,67.5 49.92,60.2 50.05,60.5 50.17,58.0 50.30,62.8 50.42,46.5 50.55,53.5 50.67,47.8 50.80,54.5 50.92,56.7 51.05,55.4 51.17,52.5 51.30,51.1 51.42,50.2 51.55,58.7 51.67,57.3 51.80,53.2 51.92,51.9 52.05,55.0 52.17,62.9 52.30,64.6 52.42,64.5 52.55,56.2 52.67,56.9 52.80,62.3 52.92,54.7 53.05,58.9 53.17,52.9 53.30,55.0 53.42,56.5 53.55,30.4 53.67,53.8 53.80,51.6 53.92,65.0 54.05,59.9 54.17,55.4 54.30,66.9 54.42,64.9 54.55,80.8 54.67,67.6 54.80,65.3 54.92,67.1 55.05,73.0 55.17,76.7 55.30,77.5 55.42,84.2 55.55,82.5 55.67,83.7 55.80,90.3 55.92,94.0 56.05,92.3 56.17,86.4 56.30,79.3 56.42,70.3 56.55,62.8 56.67,73.6 56.80,65.7 56.92,58.6 57.05,62.4 57.17,57.0 57.30,48.6 57.42,53.7 57.55,49.9 57.67,54.6 57.80,50.4 57.92,57.1 58.05,53.5 58.17,56.8 58.30,61.5 58.42,58.0 58.55,58.4 58.67,66.5 58.80,60.9 58.92,59.4 59.05,63.7 59.17,81.4 59.30,65.7 59.42,67.4 59.55,54.6 59.67,63.4 59.80,69.3 59.92,60.5 60.05,65.2 60.17,58.8 60.30,55.9 60.42,57.9 60.55,47.3 60.67,43.9 60.80,43.6 60.92,41.8 61.05,34.4 61.17,49.5 61.30,49.1 61.42,52.2 61.55,58.4 61.67,57.9 61.80,66.9 61.92,65.7 62.05,70.6 62.17,69.1 62.30,73.9 62.42,75.0 62.55,69.9 62.67,70.8 62.80,71.8 62.92,73.3 63.05,72.0 63.17,72.2 63.30,67.7 63.42,70.3 63.55,71.4 63.67,64.8 63.80,65.9 63.92,66.1 64.05,56.4 64.17,61.6 64.30,65.5 64.42,59.2 64.55,59.6 64.67,65.1 64.80,58.5 64.92,60.7 65.05,67.3 65.17,55.6 65.30,60.6 65.42,59.4 65.55,60.3 65.67,58.0 65.80,61.4 65.92,55.0 66.05,54.2 66.17,59.8 66.30,51.6 66.42,57.4 66.55,53.2 66.67,48.8 66.80,49.7 66.92,48.6 67.05,50.3 67.17,45.6 67.30,48.2 67.42,42.5 67.55,46.2 67.67,53.8 67.80,45.0 67.92,47.2 68.05,55.8 68.17,51.8 68.30,47.2 68.42,51.1 68.55,46.8 68.67,43.2 68.80,40.2 68.92,53.9 69.05,51.7 69.17,44.2 69.30,53.8 69.42,56.3 69.55,51.2 69.67,56.9 69.80,46.8 69.92,53.4 70.05,54.6 70.17,59.7 70.30,59.4 70.42,60.4 70.55,62.5 70.67,58.9 70.80,66.8 70.92,60.9 71.05,64.8 71.17,58.9 71.30,54.9 71.42,55.6 71.55,52.4 71.67,52.9 71.80,50.1 71.92,41.5 72.05,45.2 72.17,41.3 72.30,40.6 72.42,43.9 72.55,52.0 72.67,53.9 72.80,53.1 72.92,60.5 73.05,88.4 73.17,68.0 73.30,65.2 73.42,71.0 73.55,77.6 73.67,72.3 73.80,74.8 73.92,85.0 74.05,77.5 74.17,75.0 74.30,70.4 74.42,79.0 74.55,72.8 74.67,79.1 74.80,76.2 74.92,74.9 75.05,82.3 75.17,82.8 75.30,87.4 75.42,85.4 75.55,80.9 75.67,84.3 75.80,83.4 75.92,90.1 76.05,84.7 76.17,81.6 76.30,87.6 76.42,83.7 76.55,81.7 76.67,76.2 76.80,80.8 76.92,74.1 77.05,81.1 77.17,66.4 77.30,79.8 77.42,80.0 77.55,82.7 77.67,82.1 77.80,82.5 77.92,83.8 78.05,80.0 78.17,78.6 78.30,92.2 78.42,88.4 78.55,79.1 78.67,89.3 78.80,78.1 78.92,81.6 79.05,78.1 79.17,74.7 79.30,74.5 79.42,66.2 79.55,69.6 79.67,64.7 79.80,63.8 79.92,60.5 80.05,58.5 80.17,53.0 80.30,55.8 80.42,48.0 80.55,48.2 80.67,44.3 80.80,40.8 80.92,41.8 81.05,40.9 81.17,36.9 81.30,39.7 81.42,46.7 81.55,34.5 81.67,37.6 81.80,33.9 81.92,43.5 82.05,36.6 82.17,37.1 82.30,42.5 82.42,36.1 82.55,41.0 82.67,40.9 82.80,39.6 82.92,45.5 83.05,48.8 83.17,45.1 83.30,49.2 83.42,59.5 83.55,69.8 83.67,92.0 83.80,102.9 83.92,120.3" fill="none" stroke="#4682bd" stroke-width="1.5" stroke-linejoin="round"/>
<path d="M83.92,120.3 84.05,135.2 84.17,157.4 84.30,161.3 84.42,160.6 84.55,158.1 84.67,163.0 84.80,160.8 84.92,149.2 85.05,150.6 85.17,151.6 85.30,146.9 85.42,147.7 85.55,143.8 85.67,145.9 85.80,145.0 85.92,141.7 86.05,146.7 86.17,143.5 86.30,95.0 86.42,94.9 86.55,92.8 86.67,96.5 86.80,91.7 86.92,96.7 87.05,93.3 87.17,95.1 87.30,95.7 87.42,91.4 87.55,93.3 87.67,96.6 87.80,97.7 87.92,98.1 88.05,94.6 88.17,94.9 88.30,100.7 88.42,103.3 88.55,98.1 88.67,96.4 88.80,98.0 88.92,97.9 89.05,99.5 89.17,98.8 89.30,96.3 89.42,102.8 89.55,97.9 89.67,101.0 89.80,95.1 89.92,101.5 90.05,100.0 90.17,98.1 90.30,102.0 90.42,102.0 90.55,97.5 90.67,100.0 90.80,97.2 90.92,100.3 91.05,101.1 91.17,102.3 91.30,105.9 91.42,101.8 91.55,107.3 91.67,107.1 91.80,103.4 91.92,101.1 92.05,98.1 92.17,81.4 92.30,91.4 92.42,101.5 92.55,99.4 92.67,100.2 92.80,100.0 92.92,98.5 93.05,122.1 93.17,145.5 93.30,147.3 93.42,144.3 93.55,148.0 93.67,146.2 93.80,144.9 93.92,144.6 94.05,150.6 94.17,148.5 94.30,149.6 94.42,150.1 94.55,150.5 94.67,150.1 94.80,147.3 94.92,148.8 95.05,146.5 95.17,153.5 95.30,150.0 95.42,145.4 95.55,146.0 95.67,147.5 95.80,149.2 95.92,146.2 96.05,147.0 96.17,116.8 96.30,145.3 96.42,153.4 96.55,146.6 96.67,142.9 96.80,144.3 96.92,147.0 97.05,147.4 97.17,145.9 97.30,143.7 97.42,146.8 97.55,146.6 97.67,146.0 97.80,151.0 97.92,145.4 98.05,143.2 98.17,144.2 98.30,148.0 98.42,145.6 98.55,146.0 98.67,145.2 98.80,150.5 98.92,149.1 99.05,146.2 99.17,150.4 99.30,152.5 99.42,147.8 99.55,151.1 99.67,151.0 99.80,144.1 99.92,143.5 100.05,145.1 100.17,145.4 100.30,143.6 100.42,143.3 100.55,146.2 100.67,140.9 100.80,151.0 100.92,147.1 101.05,148.3 101.17,139.2 101.30,149.8 101.42,144.0 101.55,145.1 101.67,148.4 101.80,145.2 101.92,150.3 102.05,148.3 102.17,144.6 102.30,148.6 102.42,147.6 102.55,147.6 102.67,144.9 102.80,144.4 102.92,145.9 103.05,146.5 103.17,146.6 103.30,147.4 103.42,150.7 103.55,152.8 103.67,148.0 103.80,150.2 103.92,144.4 104.05,148.5 104.17,153.5 104.30,145.5 104.42,151.6 104.55,152.5 104.67,154.1 104.80,155.7 104.92,149.5 105.05,153.8 105.17,154.0 105.30,154.9 105.42,156.5 105.55,155.9 105.67,149.3 105.80,152.2 105.92,157.4 106.05,156.0 106.17,155.7 106.30,155.0 106.42,159.1 106.55,159.8 106.67,157.4 106.80,154.2 106.92,156.3 107.05,155.5 107.17,153.8 107.30,149.9 107.42,149.5 107.55,152.0 107.67,150.5 107.80,148.6 107.92,145.0 108.05,146.8 108.17,148.2 108.30,147.4 108.42,134.9 108.55,91.2 108.67,92.9 108.80,90.1 108.92,92.8 109.05,96.1 109.17,113.2 109.30,103.4 109.42,99.0 109.55,103.0 109.67,100.2 109.80,98.3 109.92,100.9 110.05,100.5 110.17,102.0 110.30,107.2 110.42,101.3 110.55,103.3 110.67,102.3 110.80,105.1 110.92,102.5 111.05,106.8 111.17,106.5 111.30,112.7 111.42,108.6 111.55,107.2 111.67,105.7 111.80,99.8 111.92,108.0 112.05,109.0 112.17,108.4 112.30,112.1 112.42,109.0 112.55,109.6 112.67,111.2 112.80,109.1 112.92,105.6 113.05,110.1 113.17,103.3 113.30,106.7 113.42,105.8 113.55,105.5 113.67,107.7 113.80,108.6 113.92,109.7 114.05,103.2 114.17,112.9 114.30,107.5 114.42,108.9 114.55,104.9 114.67,102.9 114.80,104.1 114.92,112.5 115.05,109.9 115.17,105.8 115.30,106.3 115.42,108.1 115.55,107.3 115.67,99.2 115.80,104.8 115.92,103.4 116.05,108.9 116.17,107.8 116.30,110.6 116.42,103.6 116.55,107.2 116.67,111.2 116.80,107.1 116.92,105.7 117.05,107.5 117.17,105.9 117.30,112.2 117.42,111.0 117.55,110.7 117.67,108.4 117.80,114.6 117.92,106.8 118.05,126.0 118.17,140.4 118.30,151.9 118.42,151.4 118.55,150.0 118.67,151.6 118.80,155.2 118.92,155.5 119.05,155.8 119.17,168.3 119.30,159.4 119.42,161.9 119.55,162.1 119.67,157.6 119.80,160.2 119.92,174.1 120.05,157.8 120.17,160.4 120.30,160.9 120.42,160.2 120.55,160.9 120.67,164.7 120.80,162.0 120.92,166.3 121.05,157.8 121.17,156.7 121.30,159.6 121.42,157.6 121.55,159.4 121.67,154.6 121.80,157.1 121.92,154.6 122.05,158.8 122.17,158.5 122.30,157.8 122.42,158.9 122.55,158.6 122.67,175.8 122.80,163.2 122.92,160.4 123.05,161.4 123.17,163.2 123.30,160.7 123.42,159.4 123.55,158.8 123.67,159.6 123.80,164.9 123.92,160.6 124.05,159.9 124.17,165.0 124.30,160.5 124.42,160.5 124.55,159.9 124.67,164.7 124.80,168.5 124.92,161.3 125.05,162.7 125.17,162.1 125.30,161.3 125.42,155.1 125.55,156.2 125.67,158.5 125.80,150.0 125.92,152.2 126.05,152.0 126.17,147.6 126.30,145.8 126.42,141.0 126.55,147.8 126.67,143.9 126.80,145.6 126.92,149.2 127.05,143.3 127.17,147.7 127.30,147.3 127.42,147.1 127.55,145.7 127.67,149.3 127.80,147.1 127.92,148.7 128.05,148.0 128.18,126.5 128.30,154.4 128.43,153.5 128.55,150.8 128.68,153.2 128.80,151.7 128.93,155.0 129.05,154.6 129.18,155.8 129.30,158.0 129.43,157.0 129.55,158.4 129.68,164.7 129.80,162.1 129.93,160.8 130.05,163.6 130.18,162.1 130.30,162.0 130.43,157.7 130.55,163.7 130.68,159.8 130.80,160.0 130.93,155.7 131.05,159.3 131.18,157.5 131.30,157.0 131.43,155.5 131.55,156.7 131.68,159.1 131.80,102.9 131.93,104.7 132.05,104.9 132.18,103.2 132.30,104.7 132.43,105.7 132.55,107.8 132.68,107.6 132.80,95.8 132.93,107.8 133.05,107.8 133.18,109.3 133.30,106.5 133.43,105.6 133.55,109.6 133.68,106.5 133.80,107.9 133.93,102.4 134.05,106.3 134.18,103.3 134.30,120.4 134.43,105.1 134.55,130.4 134.68,131.3 134.80,151.8 134.93,150.6 135.05,150.5 135.18,151.5 135.30,154.7 135.43,152.0 135.55,152.3 135.68,151.9 135.80,150.8 135.93,150.7 136.05,155.4 136.18,155.1 136.30,151.3 136.43,154.2 136.55,151.3 136.68,155.6 136.80,156.6 136.93,155.2 137.05,153.2 137.18,157.4 137.30,157.3 137.43,155.8 137.55,157.8 137.68,132.0 137.80,154.4 137.93,155.2 138.05,157.8 138.18,159.0 138.30,156.2 138.43,157.5 138.55,155.2 138.68,154.9 138.80,156.7 138.93,157.6 139.05,159.4 139.18,159.5 139.30,156.7 139.43,154.7 139.55,161.2 139.68,149.3 139.80,156.3 139.93,154.0 140.05,155.8 140.18,158.1 140.30,159.9 140.43,165.6 140.55,158.6 140.68,161.5 140.80,159.2 140.93,161.1 141.05,164.8 141.18,164.8 141.30,165.2 141.43,169.2 141.55,164.0 141.68,168.1 141.80,165.9 141.93,167.3 142.05,164.8 142.18,163.8 142.30,164.3 142.43,161.4 142.55,161.8 142.68,161.0 142.80,162.5 142.93,156.6 143.05,156.9 143.18,161.0 143.30,157.7 143.43,156.2 143.55,154.3 143.68,157.6 143.80,156.5 143.93,154.6 144.05,156.2 144.18,154.9 144.30,155.8 144.43,157.0 144.55,158.8 144.68,157.9 144.80,158.0 144.93,156.8 145.05,153.0 145.18,154.3 145.30,152.4 145.43,156.9 145.55,155.0 145.68,150.7 145.80,151.8 145.93,143.6 146.05,113.8 146.18,114.0 146.30,114.1 146.43,114.9 146.55,113.3 146.68,116.1 146.80,114.3 146.93,114.0 147.05,114.3 147.18,113.3 147.30,113.8 147.43,115.9 147.55,113.9 147.68,116.2 147.80,117.4 147.93,117.3 148.05,117.6 148.18,114.3 148.30,115.5 148.43,116.7 148.55,113.3 148.68,116.4 148.80,133.8 148.93,115.9 149.05,113.3 149.18,123.3 149.30,113.4 149.43,115.0 149.55,115.4 149.68,119.1 149.80,118.7 149.93,116.1 150.05,116.9 150.18,114.3 150.30,112.1 150.43,109.9 150.55,112.9 150.68,111.4 150.80,112.4 150.93,113.3 151.05,116.6 151.18,104.0 151.30,112.0 151.43,117.4 151.55,113.7 151.68,112.1 151.80,109.7 151.93,112.7 152.05,114.4 152.18,115.7 152.30,116.8 152.43,115.4 152.55,115.5 152.68,110.1 152.80,112.5 152.93,162.3 153.05,165.6 153.18,164.7 153.30,165.3 153.43,165.2 153.55,169.9 153.68,164.6 153.80,160.3 153.93,160.2 154.05,159.5 154.18,160.5 154.30,161.4 154.43,158.3 154.55,156.9 154.68,155.0 154.80,159.3 154.93,158.0 155.05,148.9 155.18,155.8 155.30,152.8 155.43,152.9 155.55,158.4 155.68,153.9 155.80,154.6 155.93,161.7 156.05,157.9 156.18,156.3 156.30,157.8 156.43,153.2 156.55,155.3 156.68,151.9 156.80,159.1 156.93,143.6 157.05,154.5 157.18,160.7 157.30,155.4 157.43,154.7 157.55,157.5 157.68,155.6 157.80,154.8 157.93,148.5 158.05,153.8 158.18,159.6 158.30,151.7 158.43,153.6 158.55,152.7 158.68,148.7 158.80,149.2 158.93,154.2 159.05,151.0 159.18,153.4 159.30,151.3 159.43,149.7 159.55,156.7 159.68,155.1 159.80,154.3 159.93,164.1 160.05,153.1 160.18,158.1 160.30,153.6 160.43,157.1 160.55,152.4 160.68,152.1 160.80,156.9 160.93,156.8 161.05,155.0 161.18,152.6 161.30,160.5 161.43,160.8 161.55,167.5 161.68,162.4 161.80,162.6 161.93,160.6 162.05,160.3 162.18,160.3 162.30,163.9 162.43,159.9 162.55,164.1 162.68,163.4 162.80,165.3 162.93,159.8 163.05,164.3 163.18,162.7 163.30,163.4 163.43,165.6 163.55,158.5 163.68,158.5 163.80,154.3 163.93,149.7 164.05,155.1 164.18,152.9 164.30,154.9 164.43,155.5 164.55,152.1 164.68,155.9 164.80,159.0 164.93,159.3 165.05,153.3 165.18,142.2 165.30,153.2 165.43,154.3 165.55,153.8 165.68,153.8 165.80,150.0 165.93,154.9 166.05,153.9 166.18,157.9 166.30,156.0 166.43,159.8 166.55,155.4 166.68,163.0 166.80,157.4 166.93,159.0 167.05,161.6 167.18,161.5 167.30,159.9 167.43,160.1 167.55,158.4 167.68,159.6 167.80,159.4 167.93,159.6 168.05,153.6 168.18,157.3 168.30,157.9 168.43,155.3 168.55,158.4 168.68,159.5 168.80,158.5 168.93,152.7 169.05,153.2 169.18,149.8 169.30,158.4 169.43,156.7 169.55,160.9 169.68,156.8 169.80,153.9 169.93,159.2 170.05,153.8 170.18,155.4 170.30,154.9 170.43,157.4 170.55,155.7 170.68,153.0 170.80,152.5 170.93,153.6 171.05,153.6 171.18,160.4 171.30,154.6 171.43,156.9 171.55,160.4 171.68,142.5 171.80,155.6 171.93,156.6 172.05,157.8 172.18,155.2 172.30,152.3 172.43,161.4 172.55,158.6 172.68,156.7 172.80,153.3 172.93,162.0 173.05,159.1 173.18,157.3 173.30,155.6 173.43,157.4 173.55,157.8 173.68,152.7 173.80,163.4 173.93,159.5 174.05,158.0 174.18,156.5 174.30,156.3 174.43,163.4 174.55,159.4 174.68,156.3 174.80,160.2 174.93,159.4 175.05,158.3 175.18,157.3 175.30,157.6 175.43,159.1 175.55,159.2 175.68,156.9 175.80,159.0 175.93,160.5 176.05,155.2 176.18,158.8 176.30,158.3 176.43,159.5 176.55,159.4 176.68,159.0 176.80,159.6 176.93,160.8 177.05,162.2 177.18,158.6 177.30,159.6 177.43,160.2 177.55,157.0 177.68,160.5 177.80,161.9 177.93,160.9 178.05,165.0 178.18,160.3 178.30,161.6 178.43,159.6 178.55,159.4 178.68,159.5 178.80,160.7 178.93,161.5 179.05,155.2 179.18,161.3 179.30,160.7 179.43,161.6 179.55,169.9 179.68,164.6 179.80,163.4 179.93,160.6 180.05,166.4 180.18,159.8 180.30,160.0 180.43,160.9 180.55,157.5 180.68,161.2 180.80,156.9 180.93,157.7 181.05,156.1 181.18,162.2 181.30,158.0 181.43,158.9 181.55,158.5 181.68,150.9 181.80,158.6 181.93,152.9 182.05,168.9 182.18,156.9 182.30,153.6 182.43,153.2 182.55,154.1 182.68,152.7 182.80,154.6 182.93,157.6 183.05,154.5 183.18,150.1 183.30,154.7 183.43,153.8 183.55,153.6 183.68,151.5 183.80,143.2 183.93,154.3 184.05,154.3 184.18,154.4 184.30,148.5 184.43,152.6 184.55,153.5 184.68,147.5 184.80,143.7 184.93,154.2 185.05,151.9 185.18,151.6 185.30,153.0 185.43,151.1 185.55,147.5 185.68,148.5 185.80,150.9 185.93,135.1 186.05,88.0 186.18,85.9 186.30,86.5 186.43,84.4 186.55,89.4 186.68,88.8 186.80,93.7 186.93,86.4 187.05,90.0 187.18,89.2 187.30,89.8 187.43,96.7 187.55,96.6 187.68,91.1 187.80,95.8 187.93,90.1 188.05,91.4 188.18,87.7 188.30,91.5 188.43,90.7 188.55,92.8 188.68,89.3 188.80,87.8 188.93,92.8 189.05,94.7 189.18,93.7 189.30,147.0 189.43,145.0 189.55,147.5 189.68,146.8 189.80,144.6 189.93,145.5 190.05,146.9 190.18,147.1 190.30,146.9 190.43,152.4 190.55,148.4 190.68,148.6 190.80,148.2 190.93,145.2 191.05,145.0 191.18,150.3 191.30,152.5 191.43,151.9 191.55,153.0 191.68,149.5 191.80,148.0 191.93,154.0 192.05,151.0 192.18,152.3 192.30,149.3 192.43,153.5 192.55,151.8 192.68,151.5 192.80,149.0 192.93,149.2 193.05,152.4 193.18,151.6 193.30,153.7 193.43,149.8 193.55,152.5 193.68,151.9 193.80,158.7 193.93,152.1 194.05,149.8 194.18,153.1 194.30,147.8 194.43,148.9 194.55,146.2 194.68,154.9 194.80,151.8 194.93,150.5 195.05,149.1 195.18,150.5 195.30,153.1 195.43,92.1 195.55,96.6 195.68,91.3 195.80,93.2 195.93,95.3 196.05,94.7 196.18,95.5 196.30,90.6 196.43,95.7 196.55,96.8 196.68,92.1 196.80,98.1 196.93,95.0 197.05,95.6 197.18,95.4 197.30,91.5 197.43,93.3 197.55,96.4 197.68,100.2 197.80,98.3 197.93,99.6 198.05,96.1 198.18,100.6 198.30,100.6 198.43,99.2 198.55,97.3 198.68,95.4 198.80,109.2 198.93,96.5 199.05,99.6 199.18,100.9 199.30,94.6 199.43,110.3 199.55,97.9 199.68,97.8 199.80,96.5 199.93,102.6 200.05,99.8 200.18,101.5 200.30,97.4 200.43,96.4 200.55,121.6 200.68,138.8 200.80,140.0 200.93,144.3 201.05,143.2 201.18,156.6 201.30,147.5 201.43,147.4 201.55,148.2 201.68,151.6 201.80,148.4 201.93,147.8 202.05,145.9 202.18,149.6 202.30,147.6 202.43,154.7 202.55,150.8 202.68,141.9 202.80,146.9 202.93,150.8 203.05,153.4 203.18,146.4 203.30,149.6 203.43,151.8 203.55,148.9 203.68,149.9 203.80,149.4 203.93,153.4 204.05,149.5 204.18,150.0 204.30,145.7 204.43,150.5 204.55,149.3 204.68,146.4 204.80,145.4 204.93,145.8 205.05,147.3 205.18,145.2 205.30,146.7 205.43,145.7 205.55,145.7 205.68,147.1 205.80,146.9 205.93,147.6 206.05,145.7 206.18,147.8 206.30,145.7 206.43,146.5 206.55,144.9 206.68,146.6 206.80,96.4 206.93,96.9 207.05,101.1 207.18,105.6 207.30,99.2 207.43,101.7 207.55,102.3 207.68,101.3 207.80,102.9 207.93,99.0 208.05,80.7 208.18,98.2 208.30,96.5 208.43,97.2 208.55,98.1 208.68,100.0 208.80,101.4 208.93,97.9 209.05,99.8 209.18,100.7 209.30,107.7 209.43,92.0 209.55,87.4 209.68,91.1 209.80,90.9 209.93,86.8 210.05,87.5 210.18,97.3 210.30,99.2 210.43,163.2 210.55,159.1 210.68,162.0 210.80,160.9 210.93,158.1 211.05,163.6 211.18,161.2 211.30,162.6 211.43,159.2 211.55,160.0 211.68,161.7 211.80,160.4 211.93,160.0 212.05,162.6 212.18,163.4 212.30,161.8 212.43,163.0 212.55,160.9 212.68,159.0 212.80,161.1 212.93,161.6 213.05,158.3 213.18,158.1 213.30,157.2 213.43,154.5 213.55,159.3 213.68,156.5 213.80,159.3 213.93,155.0 214.05,157.8 214.18,162.1 214.30,163.4 214.43,162.7 214.55,163.0 214.68,162.0 214.80,165.1 214.93,168.6 215.05,165.8 215.18,162.6 215.30,161.2 215.43,163.2 215.55,160.6 215.68,164.8 215.80,161.5 215.93,163.6 216.05,163.4 216.18,167.2 216.30,164.7 216.43,160.8 216.55,159.2 216.68,164.2 216.80,159.4 216.93,165.1 217.05,163.0 217.18,160.0 217.30,162.8 217.43,163.7 217.55,160.9 217.68,163.2 217.80,163.0 217.93,163.3 218.05,163.0 218.18,158.7 218.30,162.3 218.43,162.3 218.55,161.8 218.68,160.5 218.80,162.6 218.93,166.0 219.05,162.4 219.18,149.7 219.30,161.0 219.43,163.6 219.55,167.0 219.68,166.2 219.80,103.4 219.93,101.9 220.05,95.2 220.18,102.0 220.30,104.5 220.43,98.5 220.55,100.3 220.68,95.0 220.80,100.9 220.93,101.2 221.05,100.9 221.18,106.6 221.30,105.2 221.43,108.6 221.55,110.0 221.68,114.7 221.80,111.4 221.93,109.1 222.05,108.5 222.18,113.5 222.30,109.7 222.43,119.0 222.55,114.0 222.68,112.2 222.80,109.4 222.93,114.1 223.05,110.6 223.18,113.0 223.30,112.1 223.43,111.7 223.55,109.4 223.68,115.0 223.80,154.0 223.93,155.2 224.05,156.6 224.18,153.0 224.30,154.2 224.43,153.7 224.55,153.9 224.68,154.2 224.80,148.9 224.93,150.6 225.05,157.0 225.18,148.4 225.30,151.2 225.43,156.7 225.55,153.0 225.68,154.4 225.80,155.4 225.93,159.7 226.05,156.8 226.18,157.2 226.30,156.4 226.43,160.3 226.55,155.7 226.68,156.3 226.80,157.1 226.93,155.5 227.05,157.5 227.18,158.0 227.30,158.8 227.43,160.9 227.55,159.6 227.68,155.8 227.80,157.3 227.93,163.4 228.05,161.0 228.18,158.1 228.30,162.0 228.43,159.4 228.55,161.2 228.68,159.3 228.80,163.4 228.93,159.0 229.05,158.8 229.18,158.7 229.30,162.6 229.43,157.3 229.55,153.8 229.68,153.5 229.80,153.6 229.93,142.3 230.05,155.1 230.18,154.6 230.30,152.1 230.43,158.6 230.55,121.4 230.68,89.2 230.80,88.6 230.93,85.4 231.05,90.3 231.18,85.8 231.30,89.4 231.43,87.7 231.55,90.2 231.68,89.9 231.80,90.9 231.93,92.0 232.05,93.0 232.18,89.3 232.30,92.6 232.43,94.4 232.55,91.2 232.68,93.1 232.80,90.4 232.93,92.2 233.05,94.2 233.18,95.9 233.30,97.5 233.43,95.7 233.55,97.0 233.68,94.4 233.80,94.6 233.93,99.7 234.05,94.9 234.18,101.1 234.30,100.6 234.43,96.5 234.55,92.5 234.68,93.1 234.80,99.7 234.93,100.1 235.05,102.5 235.18,101.9 235.30,104.9 235.43,104.7 235.55,96.9 235.68,100.2 235.80,98.8 235.93,102.0 236.05,104.6 236.18,104.7 236.30,107.5 236.43,104.1 236.55,103.8 236.68,103.6 236.80,105.3 236.93,105.9 237.05,107.0 237.18,105.4 237.30,109.1 237.43,109.2 237.55,103.9 237.68,109.4 237.80,109.3 237.93,106.4 238.05,103.7 238.18,106.3 238.30,106.2 238.43,105.6 238.55,142.3 238.68,168.0 238.80,162.5 238.93,163.9 239.05,162.4 239.18,164.5 239.30,161.7 239.43,162.9 239.55,161.4 239.68,168.2 239.80,165.4 239.93,167.9 240.05,173.2 240.18,171.4 240.30,170.9 240.43,171.4 240.55,169.1 240.68,167.5 240.80,167.9 240.93,163.3 241.05,171.8 241.18,172.9 241.30,174.5 241.43,166.2 241.55,168.1 241.68,169.0 241.80,173.9 241.93,172.1 242.05,175.0 242.18,172.3 242.30,168.2 242.43,166.2 242.55,167.4 242.68,173.9 242.80,169.2 242.93,168.4 243.05,174.1 243.18,176.2 243.30,177.4 243.43,174.5 243.55,172.6 243.68,167.4 243.80,171.4 243.93,171.7 244.05,173.1 244.18,195.3 244.30,176.2 244.43,175.5 244.55,172.8 244.68,172.2 244.80,173.8 244.93,170.8 245.05,170.9 245.18,167.3 245.30,170.8 245.43,169.1 245.55,168.9 245.68,162.5 245.80,165.5 245.93,167.5 246.05,169.5 246.18,167.1 246.30,165.7 246.43,162.6 246.55,165.8 246.68,165.4 246.80,99.8 246.93,108.4 247.05,121.1 247.18,105.2 247.30,109.2 247.43,109.3 247.55,112.6 247.68,106.3 247.80,106.1 247.93,105.2 248.05,108.0 248.18,111.0 248.30,106.1 248.43,107.7 248.55,107.1 248.68,111.9 248.80,169.7 248.93,176.7 249.05,175.2 249.18,169.0 249.30,172.4 249.43,172.1 249.55,176.1 249.68,172.1 249.80,174.0 249.93,170.4 250.05,155.0 250.18,171.6 250.30,173.9 250.43,172.3 250.55,174.8 250.68,173.4 250.80,173.7 250.93,171.8 251.05,169.8 251.18,169.8 251.30,171.4 251.43,171.9 251.55,170.2 251.68,170.0 251.80,176.3 251.93,171.8 252.05,165.7 252.18,171.2 252.30,168.6 252.43,165.4 252.55,170.2 252.68,166.8 252.80,168.7 252.93,166.1 253.05,170.2 253.18,167.9 253.30,169.3 253.43,93.6 253.55,89.7 253.68,92.9 253.80,91.5 253.93,91.7 254.05,88.5 254.18,94.8 254.30,76.5 254.43,95.9 254.55,90.1 254.68,95.9 254.80,93.4 254.93,99.3 255.05,79.4 255.18,98.5 255.30,95.3 255.43,96.0 255.55,101.0 255.68,98.9 255.80,99.1 255.93,95.2 256.05,95.5 256.18,97.9 256.30,96.2 256.43,103.0 256.55,103.0 256.68,100.3 256.80,99.8 256.93,100.7 257.05,99.2 257.18,100.6 257.30,100.2 257.43,100.8 257.55,99.1 257.68,97.8 257.80,96.9 257.93,95.3 258.05,96.7 258.18,97.2 258.30,101.2 258.43,158.7 258.55,159.6 258.68,161.5 258.80,161.8 258.93,161.5 259.05,166.7 259.18,158.1 259.30,160.9 259.43,158.3 259.55,160.1 259.68,160.9 259.80,156.5 259.93,162.7 260.05,157.1 260.18,158.9 260.30,159.7 260.43,162.3 260.55,159.5 260.68,163.2 260.80,158.6 260.93,162.2 261.05,161.2 261.18,159.8 261.30,160.4 261.43,158.9 261.55,161.9 261.68,162.7 261.80,166.3 261.93,159.0 262.05,159.8 262.18,161.7 262.30,158.8 262.43,142.6 262.55,89.9 262.68,89.3 262.80,86.1 262.93,87.1 263.05,86.8 263.18,89.1 263.30,88.8 263.43,88.2 263.55,88.9 263.68,92.2 263.80,86.8 263.93,91.8 264.05,89.9 264.18,84.1 264.30,88.3 264.43,81.4 264.55,117.1 264.68,141.3 264.80,161.8 264.93,146.3 265.05,150.2 265.18,146.3 265.30,147.6 265.43,147.3 265.55,150.4 265.68,150.0 265.80,151.4 265.93,155.5 266.05,155.3 266.18,153.9 266.30,152.2 266.43,151.0 266.55,152.0 266.68,153.1 266.80,156.5 266.93,154.6 267.05,155.7 267.18,152.9 267.30,154.5 267.43,156.2 267.55,165.7 267.68,154.9 267.80,150.8 267.93,153.4 268.05,151.7 268.18,154.1 268.30,152.9 268.43,153.7 268.55,158.2 268.68,158.5 268.80,178.2 268.93,149.1 269.05,162.6 269.18,157.5 269.30,160.3 269.43,159.7 269.55,158.1 269.68,158.4 269.80,157.0 269.93,160.1 270.05,154.3 270.18,155.3 270.30,158.3 270.43,155.3 270.55,161.0 270.68,159.7 270.80,163.3 270.93,162.2 271.05,160.5 271.18,162.1 271.30,161.9 271.43,161.3 271.55,172.1 271.68,166.0 271.80,166.0 271.93,166.4 272.05,163.2 272.18,165.1 272.30,164.3 272.43,163.6 272.55,161.9 272.68,162.1 272.80,163.3 272.93,165.0 273.05,157.1 273.18,162.9 273.30,164.5 273.43,161.8 273.55,161.0 273.68,160.0 273.80,165.0 273.93,159.8 274.05,163.3 274.18,152.4 274.30,162.4 274.43,166.9 274.55,162.1 274.68,167.2 274.80,168.9 274.93,162.1 275.05,164.7 275.18,164.2 275.30,173.8 275.43,167.7 275.55,163.5 275.68,164.5 275.80,165.3 275.93,167.4 276.05,167.0 276.18,166.3 276.30,164.1 276.43,161.7 276.55,163.0 276.68,162.9 276.80,163.8 276.93,165.1 277.05,164.1 277.18,167.3 277.30,166.4 277.43,166.5 277.55,165.5 277.68,167.6 277.80,164.5 277.93,164.8 278.05,162.4 278.18,163.9 278.30,165.9 278.43,167.7 278.55,163.2 278.68,166.3 278.80,157.0 278.93,164.5 279.05,163.5 279.18,164.9 279.30,164.1 279.43,159.1 279.55,161.1 279.68,160.0 279.80,163.7 279.93,161.0 280.05,162.4 280.18,159.6 280.30,161.3 280.43,163.7 280.55,161.8 280.68,160.9 280.80,161.5 280.93,156.8 281.05,157.4 281.18,160.7 281.30,159.6 281.43,157.3 281.55,161.1 281.68,159.0 281.80,159.1 281.93,157.6 282.05,157.6 282.18,156.0 282.30,158.9 282.43,154.2 282.55,159.2 282.68,159.1 282.80,155.6 282.93,157.5 283.05,155.2 283.18,158.6 283.30,157.4 283.43,169.7 283.55,162.7 283.68,155.0 283.80,154.3 283.93,156.8 284.05,152.5 284.18,158.3 284.30,159.8 284.43,159.4 284.55,160.7 284.68,163.8 284.80,159.5 284.93,166.0 285.05,161.5 285.18,162.3 285.30,168.9 285.43,165.2 285.55,172.2 285.68,176.5 285.80,166.3 285.93,169.0 286.05,166.8 286.18,167.5 286.30,164.4 286.43,86.6 286.55,86.1 286.68,86.0 286.80,87.1 286.93,80.0 287.05,87.5 287.18,86.1 287.30,84.6 287.43,89.9 287.55,86.2 287.68,87.8 287.80,86.4 287.93,88.6 288.05,89.9 288.18,90.2 288.30,90.4 288.43,86.4 288.55,90.9 288.68,85.6 288.80,87.5 288.93,83.5 289.05,88.3 289.18,88.0 289.30,87.7 289.43,90.6 289.55,92.7 289.68,87.9 289.80,91.7 289.93,89.6 290.05,98.5 290.18,99.1 290.30,97.2 290.43,96.5 290.55,80.2 290.68,92.8 290.80,93.2 290.93,95.8 291.05,94.3 291.18,93.7 291.30,94.3 291.43,98.6 291.55,95.2 291.68,95.6 291.80,91.5 291.93,96.6 292.05,95.8 292.18,93.1 292.30,147.5 292.43,142.9 292.55,144.1 292.68,143.8 292.80,140.5 292.93,143.6 293.05,146.4 293.18,136.6 293.30,141.6 293.43,139.5 293.55,147.6 293.68,144.3 293.80,146.3 293.93,149.1 294.05,144.4 294.18,148.6 294.30,145.0 294.43,144.4 294.55,147.0 294.68,147.4 294.80,143.2 294.93,146.2 295.05,145.0 295.18,147.8 295.30,145.9 295.43,144.9 295.55,149.6 295.68,144.2 295.80,148.3 295.93,147.5 296.05,150.0 296.18,145.2 296.30,149.0 296.43,150.5 296.55,154.3 296.68,148.3 296.80,147.4 296.93,147.1 297.05,148.3 297.18,145.6 297.30,150.4 297.43,148.5 297.55,156.1 297.68,151.0 297.80,153.8 297.93,156.6 298.05,148.5 298.18,146.2 298.30,145.8 298.43,151.4 298.55,148.0 298.68,140.3 298.80,151.0 298.93,151.7 299.05,153.5 299.18,152.0 299.30,150.0 299.43,148.2 299.55,144.7 299.68,143.6 299.80,147.9 299.93,146.3 300.05,144.4 300.18,145.3 300.30,145.2 300.43,142.4 300.55,143.9 300.68,142.2 300.80,139.2 300.93,149.7 301.05,142.5 301.18,143.8 301.30,144.3 301.43,142.1 301.55,147.6 301.68,143.7 301.80,145.7 301.93,148.1 302.05,145.3 302.18,145.9 302.30,147.7 302.43,148.2 302.55,147.7 302.68,142.8 302.80,148.9 302.93,131.4 303.05,149.7 303.18,87.4 303.30,85.1 303.43,87.5 303.55,85.5 303.68,91.3 303.80,87.6 303.93,89.6 304.05,88.2 304.18,75.1 304.30,90.8 304.43,93.1 304.55,90.1 304.68,84.5 304.80,86.5 304.93,86.1 305.05,88.0 305.18,86.3 305.30,93.6 305.43,92.1 305.55,91.7 305.68,88.4 305.80,157.6 305.93,143.6 306.05,145.6 306.18,145.9 306.30,145.6 306.43,145.0 306.55,133.1 306.68,143.5 306.80,142.9 306.93,143.7 307.05,147.5 307.18,148.3 307.30,145.0 307.43,144.7 307.55,144.6 307.68,144.0 307.80,151.1 307.93,145.9 308.05,143.7 308.18,140.1 308.30,146.1 308.43,148.0 308.55,147.6 308.68,150.2 308.80,144.6 308.93,146.3 309.05,147.3 309.18,145.2 309.30,141.4 309.43,143.4 309.55,141.3 309.68,146.9 309.80,142.2 309.93,142.4 310.05,139.7 310.18,142.7 310.30,140.9 310.43,144.4 310.55,142.0 310.68,139.0 310.80,81.6 310.93,85.6 311.05,86.4 311.18,83.7 311.30,85.0 311.43,91.3 311.55,88.5 311.68,87.6 311.80,90.7 311.93,88.9 312.05,89.8 312.18,87.5 312.30,89.4 312.43,84.1 312.55,88.4 312.68,83.4 312.80,84.6 312.93,85.9 313.05,83.7 313.18,125.2 313.30,138.1 313.43,141.3 313.55,140.2 313.68,142.7 313.80,144.4 313.93,143.6 314.05,144.0 314.18,141.3 314.30,141.6 314.43,140.9 314.55,141.0 314.68,141.7 314.80,145.1 314.93,141.9 315.05,142.5 315.18,139.9 315.30,140.7 315.43,142.8 315.55,139.8 315.68,141.9 315.80,141.1 315.93,140.8 316.05,137.5 316.18,140.7 316.30,141.1 316.43,141.2 316.55,141.8 316.68,137.5 316.80,135.3 316.93,136.8 317.05,141.6 317.18,138.9 317.30,139.3 317.43,139.4 317.55,138.3 317.68,141.5 317.80,137.9 317.93,139.2 318.05,139.3 318.18,139.4 318.30,137.3 318.43,134.5 318.55,134.4 318.68,137.7 318.80,138.1 318.93,135.9 319.05,137.9 319.18,132.3 319.30,143.4 319.43,138.2 319.55,136.1 319.68,140.9 319.80,139.7 319.93,141.8 320.05,145.5 320.18,140.0 320.30,140.2 320.43,140.0 320.55,139.5 320.68,122.0 320.80,144.0 320.93,131.7 321.05,99.3 321.18,100.0 321.30,100.0 321.43,99.6 321.55,96.7 321.68,96.3 321.80,97.9 321.93,95.9 322.05,98.3 322.18,96.9 322.30,98.1 322.43,97.1 322.55,103.5 322.68,100.6 322.80,97.5 322.93,146.5 323.05,142.7 323.18,143.6 323.30,144.8 323.43,140.6 323.55,145.0 323.68,151.4 323.80,144.9 323.93,148.4 324.05,148.8 324.18,151.3 324.30,151.4 324.43,150.6" fill="none" stroke="#4682bd" stroke-width="1.15" stroke-linejoin="round"/>
<rect x="19.5" y="1.5" width="319.5" height="197.2" fill="none" stroke="#959595" stroke-width="1.0"/>
<line x1="17.7" x2="19.5" y1="171.10" y2="171.10" stroke="#959595" stroke-width="0.8"/>
<text x="16.1" y="173.40" font-size="5.5" text-anchor="end" fill="#262626" stroke="#262626" stroke-width="0.1">0.1</text>
<line x1="17.7" x2="19.5" y1="136.35" y2="136.35" stroke="#959595" stroke-width="0.8"/>
<text x="16.1" y="138.65" font-size="5.5" text-anchor="end" fill="#262626" stroke="#262626" stroke-width="0.1">0.2</text>
<line x1="17.7" x2="19.5" y1="101.60" y2="101.60" stroke="#959595" stroke-width="0.8"/>
<text x="16.1" y="103.90" font-size="5.5" text-anchor="end" fill="#262626" stroke="#262626" stroke-width="0.1">0.3</text>
<line x1="17.7" x2="19.5" y1="66.85" y2="66.85" stroke="#959595" stroke-width="0.8"/>
<text x="16.1" y="69.15" font-size="5.5" text-anchor="end" fill="#262626" stroke="#262626" stroke-width="0.1">0.4</text>
<line x1="17.7" x2="19.5" y1="32.10" y2="32.10" stroke="#959595" stroke-width="0.8"/>
<text x="16.1" y="34.40" font-size="5.5" text-anchor="end" fill="#262626" stroke="#262626" stroke-width="0.1">0.5</text>
<text transform="translate(5.3,100.1) rotate(-90)" font-size="6.25" font-weight="bold" text-anchor="middle" fill="#111">Risk Score</text>
<text x="179.3" y="10.2" font-size="6.8" font-weight="bold" text-anchor="middle" fill="#111">(a)</text>
<rect x="258.6" y="3.6" width="77.8" height="16.6" rx="1.2" fill="#fff" fill-opacity="0.85" stroke="#d6d6d6" stroke-width="0.6"/>
<line x1="260.2" x2="272" y1="8.05" y2="8.05" stroke="#4682bd" stroke-opacity="0.75" stroke-width="1.25"/>
<rect x="260.2" y="13.20" width="11.8" height="4.6" fill="#d7d7d7"/>
<text x="275.9" y="9.80" font-size="5.3" fill="#222" stroke="#222" stroke-width="0.1">Mean Risk</text>
<text x="275.9" y="17.80" font-size="5.3" fill="#222" stroke="#222" stroke-width="0.1">95% Confidence Interval</text>
</g>
<g>
<line x1="19.5" x2="339.0" y1="392.40" y2="392.40" stroke="#f2f2f2" stroke-width="0.7"/>
<line x1="19.5" x2="339.0" y1="361.65" y2="361.65" stroke="#f2f2f2" stroke-width="0.7"/>
<line x1="19.5" x2="339.0" y1="330.90" y2="330.90" stroke="#f2f2f2" stroke-width="0.7"/>
<line x1="19.5" x2="339.0" y1="300.15" y2="300.15" stroke="#f2f2f2" stroke-width="0.7"/>
<line x1="19.5" x2="339.0" y1="269.40" y2="269.40" stroke="#f2f2f2" stroke-width="0.7"/>
<line x1="19.5" x2="339.0" y1="238.65" y2="238.65" stroke="#f2f2f2" stroke-width="0.7"/>
<line x1="19.5" x2="339.0" y1="207.90" y2="207.90" stroke="#f2f2f2" stroke-width="0.7"/>
<path d="M33.80,221.9 33.92,210.6 34.05,213.3 34.17,214.7 34.30,218.3 34.42,211.0 34.55,208.3 34.67,217.3 34.80,207.0 34.92,213.5 35.05,212.5 35.17,217.8 35.30,220.5 35.42,226.1 35.55,222.9 35.67,222.3 35.80,226.1 35.92,220.5 36.05,224.4 36.17,220.9 36.30,221.9 36.42,224.8 36.55,221.4 36.67,228.4 36.80,230.1 36.92,235.3 37.05,239.6 37.17,235.1 37.30,238.8 37.42,236.3 37.55,238.2 37.67,236.1 37.80,239.8 37.92,238.2 38.05,235.2 38.17,242.7 38.30,237.8 38.42,243.9 38.55,252.6 38.67,251.7 38.80,250.5 38.92,247.4 39.05,246.4 39.17,244.4 39.30,241.3 39.42,247.6 39.55,248.3 39.67,255.8 39.80,248.2 39.92,240.8 40.05,246.8 40.17,253.8 40.30,250.1 40.42,257.5 40.55,253.5 40.67,246.2 40.80,244.3 40.92,239.5 41.05,241.4 41.17,245.5 41.30,243.9 41.42,253.6 41.55,249.9 41.67,253.2 41.80,248.3 41.92,254.2 42.05,253.1 42.17,260.9 42.30,254.0 42.42,249.0 42.55,254.7 42.67,256.9 42.80,259.2 42.92,266.2 43.05,261.3 43.17,262.6 43.30,263.1 43.42,253.3 43.55,254.8 43.67,258.4 43.80,255.7 43.92,260.1 44.05,259.2 44.17,263.6 44.30,260.6 44.42,254.1 44.55,242.1 44.67,235.6 44.80,244.9 44.92,244.9 45.05,244.9 45.17,243.0 45.30,245.3 45.42,246.9 45.55,248.2 45.67,249.3 45.80,249.2 45.92,245.9 46.05,245.6 46.17,252.8 46.30,251.4 46.42,252.2 46.55,257.0 46.67,248.3 46.80,241.9 46.92,244.7 47.05,245.6 47.17,246.2 47.30,252.8 47.42,254.7 47.55,254.6 47.67,244.8 47.80,247.2 47.92,242.9 48.05,236.1 48.17,242.4 48.30,236.7 48.42,234.8 48.55,245.0 48.67,234.0 48.80,237.2 48.92,230.6 49.05,222.5 49.17,228.9 49.30,235.1 49.42,238.9 49.55,247.6 49.67,250.2 49.80,250.6 49.92,251.3 50.05,245.8 50.17,232.4 50.30,235.6 50.42,239.3 50.55,246.7 50.67,245.0 50.80,249.2 50.92,250.5 51.05,252.6 51.17,250.8 51.30,251.7 51.42,237.4 51.55,235.6 51.67,236.4 51.80,246.5 51.92,250.5 52.05,247.3 52.17,246.2 52.30,238.1 52.42,245.0 52.55,246.1 52.67,244.2 52.80,247.3 52.92,242.0 53.05,236.7 53.17,233.2 53.30,239.6 53.42,253.4 53.55,246.6 53.67,251.6 53.80,247.7 53.92,252.6 54.05,248.5 54.17,245.4 54.30,239.5 54.42,247.7 54.55,251.4 54.67,248.0 54.80,249.6 54.92,250.0 55.05,254.7 55.17,249.8 55.30,247.9 55.42,243.2 55.55,237.1 55.67,237.4 55.80,240.1 55.92,238.2 56.05,246.0 56.17,245.8 56.30,239.2 56.42,241.6 56.55,246.2 56.67,246.7 56.80,244.0 56.92,246.0 57.05,243.9 57.17,241.9 57.30,240.5 57.42,240.9 57.55,230.3 57.67,233.1 57.80,227.6 57.92,230.3 58.05,239.4 58.17,245.5 58.30,247.1 58.42,245.6 58.55,243.2 58.67,243.2 58.80,238.0 58.92,233.5 59.05,228.1 59.17,222.5 59.30,233.1 59.42,233.2 59.55,232.8 59.67,233.0 59.80,241.0 59.92,234.5 60.05,236.4 60.17,240.7 60.30,237.2 60.42,228.7 60.55,230.1 60.67,242.8 60.80,238.7 60.92,233.3 61.05,222.8 61.17,217.6 61.30,211.6 61.42,215.8 61.55,216.8 61.67,211.5 61.80,211.9 61.92,211.0 62.05,207.9 62.17,216.5 62.30,224.0 62.42,225.8 62.55,231.5 62.67,233.5 62.80,236.7 62.92,237.5 63.05,239.7 63.17,236.0 63.30,238.5 63.42,234.0 63.55,243.4 63.67,246.8 63.80,252.8 63.92,256.1 64.05,252.9 64.17,249.2 64.30,254.6 64.42,255.1 64.55,253.5 64.67,251.9 64.80,247.9 64.92,243.7 65.05,235.9 65.17,234.7 65.30,221.2 65.42,224.6 65.55,226.5 65.67,230.4 65.80,233.3 65.92,229.1 66.05,223.6 66.17,221.7 66.30,216.7 66.42,214.0 66.55,220.0 66.67,218.4 66.80,233.9 66.92,233.2 67.05,232.8 67.17,227.2 67.30,231.3 67.42,231.5 67.55,234.5 67.67,233.1 67.80,231.4 67.92,233.2 68.05,226.5 68.17,228.6 68.30,228.8 68.42,228.4 68.55,234.9 68.67,237.3 68.80,235.4 68.92,238.0 69.05,233.9 69.17,236.3 69.30,234.6 69.42,239.7 69.55,242.5 69.67,242.2 69.80,241.1 69.92,234.0 70.05,229.9 70.17,235.0 70.30,233.3 70.42,233.1 70.55,232.1 70.67,233.2 70.80,234.8 70.92,233.6 71.05,230.1 71.17,237.0 71.30,225.8 71.42,226.6 71.55,221.0 71.67,221.6 71.80,216.3 71.92,219.9 72.05,232.1 72.17,236.2 72.30,228.5 72.42,232.2 72.55,236.3 72.67,244.7 72.80,237.8 72.92,228.7 73.05,229.9 73.17,236.0 73.30,232.8 73.42,231.2 73.55,233.6 73.67,237.2 73.80,232.2 73.92,232.8 74.05,236.8 74.17,240.8 74.30,243.5 74.42,253.2 74.55,247.1 74.67,250.4 74.80,249.4 74.92,252.1 75.05,258.7 75.17,257.3 75.30,264.9 75.42,275.5 75.55,276.1 75.67,278.4 75.80,264.3 75.92,267.9 76.05,268.2 76.17,269.1 76.30,266.6 76.42,267.6 76.55,263.2 76.67,266.2 76.80,258.0 76.92,252.0 77.05,246.4 77.17,236.0 77.30,237.5 77.42,242.9 77.55,250.8 77.67,249.6 77.80,252.0 77.92,251.7 78.05,249.3 78.17,246.3 78.30,241.4 78.42,233.3 78.55,236.8 78.67,229.6 78.80,230.2 78.92,233.9 79.05,227.5 79.17,226.0 79.30,223.1 79.42,226.7 79.55,220.3 79.67,218.5 79.80,210.2 79.92,207.0 80.05,210.6 80.17,213.0 80.30,213.4 80.42,215.9 80.55,218.6 80.67,216.9 80.80,217.7 80.92,214.9 81.05,209.1 81.17,207.0 81.30,212.1 81.42,209.9 81.55,211.5 81.67,213.6 81.80,216.1 81.92,214.8 82.05,213.6 82.17,221.7 82.30,216.7 82.42,219.9 82.55,226.9 82.67,228.9 82.80,225.2 82.92,228.4 83.05,232.3 83.17,230.8 83.30,240.4 83.42,234.5 83.55,231.7 83.67,226.1 83.80,209.9 83.92,213.9 84.05,212.0 84.17,217.4 84.30,219.5 84.42,236.1 84.55,239.2 84.67,257.9 84.80,273.7 84.92,304.5 85.05,328.1 85.17,330.9 85.30,272.7 85.42,267.7 85.55,264.8 85.67,266.5 85.80,265.7 85.92,268.0 86.05,271.0 86.17,274.9 86.30,279.5 86.42,272.6 86.55,273.2 86.67,262.8 86.80,265.6 86.92,263.2 87.05,268.2 87.17,267.6 87.30,260.8 87.42,257.6 87.55,257.0 87.67,257.1 87.80,268.3 87.92,262.5 88.05,259.2 88.17,259.0 88.30,258.8 88.42,258.5 88.55,258.7 88.67,257.2 88.80,261.9 88.92,266.3 89.05,265.7 89.17,266.8 89.30,265.3 89.42,271.5 89.55,272.3 89.67,268.9 89.80,269.7 89.92,265.5 90.05,267.9 90.17,269.4 90.30,269.1 90.42,267.6 90.55,264.9 90.67,266.7 90.80,268.1 90.92,265.3 91.05,266.2 91.17,270.9 91.30,269.6 91.42,275.2 91.55,273.8 91.67,271.2 91.80,272.4 91.92,271.6 92.05,269.7 92.17,273.1 92.30,271.6 92.42,270.7 92.55,273.2 92.67,277.0 92.80,281.5 92.92,279.1 93.05,266.5 93.17,273.2 93.30,268.2 93.42,260.5 93.55,262.9 93.67,263.1 93.80,264.9 93.92,264.1 94.05,289.9 94.17,315.6 94.30,312.7 94.42,319.9 94.55,313.1 94.67,312.5 94.80,307.0 94.92,314.7 95.05,315.0 95.17,310.9 95.30,299.7 95.42,295.3 95.55,302.6 95.67,303.8 95.80,309.5 95.92,317.1 96.05,318.4 96.17,317.8 96.30,321.2 96.42,321.8 96.55,320.7 96.67,319.3 96.80,316.3 96.92,326.7 97.05,323.3 97.17,321.0 97.30,317.0 97.42,316.2 97.55,316.2 97.67,315.6 97.80,317.9 97.92,318.5 98.05,315.0 98.17,317.1 98.30,312.0 98.42,312.0 98.55,306.7 98.67,315.0 98.80,315.3 98.92,308.0 99.05,309.6 99.17,309.2 99.30,306.5 99.42,310.6 99.55,311.2 99.67,312.1 99.80,315.5 99.92,318.0 100.05,319.1 100.17,320.6 100.30,315.6 100.42,313.7 100.55,313.8 100.67,310.4 100.80,307.0 100.92,304.7 101.05,307.8 101.17,310.7 101.30,309.3 101.42,314.5 101.55,312.0 101.67,308.6 101.80,313.8 101.92,303.6 102.05,304.1 102.17,301.0 102.30,309.5 102.42,310.0 102.55,309.6 102.67,298.9 102.80,300.6 102.92,290.7 103.05,292.7 103.17,291.4 103.30,290.2 103.42,298.6 103.55,307.9 103.67,315.9 103.80,318.2 103.92,315.1 104.05,310.1 104.17,311.8 104.30,303.8 104.42,315.1 104.55,315.8 104.67,314.3 104.80,314.9 104.92,321.7 105.05,318.7 105.17,316.1 105.30,318.8 105.42,321.8 105.55,322.4 105.67,325.4 105.80,323.5 105.92,324.3 106.05,320.8 106.17,317.6 106.30,322.1 106.42,320.8 106.55,315.9 106.67,316.3 106.80,318.0 106.92,324.5 107.05,327.9 107.17,323.1 107.30,325.7 107.42,310.0 107.55,255.6 107.67,251.7 107.80,255.8 107.92,250.2 108.05,261.3 108.17,260.6 108.30,259.3 108.42,264.9 108.55,262.2 108.67,259.9 108.80,260.1 108.92,262.3 109.05,265.3 109.17,266.5 109.30,260.6 109.42,256.4 109.55,262.4 109.67,261.6 109.80,271.3 109.92,273.7 110.05,274.5 110.17,274.6 110.30,271.0 110.42,272.0 110.55,273.7 110.67,277.1 110.80,275.6 110.92,264.9 111.05,275.9 111.17,276.3 111.30,271.9 111.42,274.1 111.55,277.2 111.67,281.3 111.80,276.7 111.92,271.2 112.05,283.6 112.17,279.2 112.30,280.8 112.42,274.6 112.55,271.0 112.67,265.7 112.80,265.7 112.92,264.8 113.05,269.2 113.17,267.6 113.30,267.7 113.42,262.6 113.55,266.8 113.67,272.5 113.80,276.1 113.92,274.4 114.05,270.1 114.17,265.9 114.30,271.6 114.42,270.9 114.55,282.1 114.67,284.1 114.80,290.5 114.92,288.2 115.05,279.7 115.17,277.0 115.30,285.4 115.42,281.2 115.55,278.7 115.67,284.0 115.80,284.6 115.92,280.1 116.05,279.7 116.17,278.1 116.30,286.3 116.42,283.6 116.55,279.1 116.67,283.4 116.80,282.0 116.92,283.9 117.05,283.9 117.17,283.5 117.30,284.8 117.42,283.4 117.55,284.3 117.67,278.2 117.80,277.6 117.92,279.3 118.05,280.6 118.17,283.6 118.30,285.3 118.42,285.4 118.55,287.3 118.67,292.6 118.80,295.7 118.92,293.3 119.05,286.5 119.17,324.3 119.30,335.4 119.42,339.2 119.55,341.6 119.67,340.2 119.80,335.5 119.92,335.6 120.05,339.9 120.17,339.4 120.30,332.5 120.42,327.3 120.55,330.2 120.67,328.3 120.80,334.8 120.92,340.1 121.05,341.7 121.17,336.5 121.30,346.4 121.42,340.8 121.55,343.0 121.67,335.3 121.80,337.8 121.92,331.2 122.05,326.9 122.17,321.5 122.30,316.7 122.42,312.3 122.55,316.5 122.67,321.2 122.80,331.7 122.92,335.3 123.05,337.7 123.17,341.4 123.30,340.3 123.42,349.3 123.55,344.8 123.67,340.2 123.80,338.3 123.92,339.8 124.05,340.5 124.17,335.0 124.30,340.3 124.42,335.3 124.55,337.4 124.67,330.8 124.80,328.5 124.92,328.4 125.05,329.0 125.17,329.2 125.30,325.8 125.42,329.4 125.55,327.2 125.67,327.3 125.80,329.8 125.92,330.3 126.05,328.0 126.17,319.4 126.30,327.6 126.42,322.1 126.55,321.0 126.67,329.1 126.80,326.1 126.92,331.6 127.05,330.8 127.17,329.1 127.30,324.4 127.42,330.7 127.55,316.6 127.67,312.9 127.80,306.7 127.92,302.2 128.05,306.0 128.18,310.9 128.30,314.7 128.43,314.2 128.55,324.4 128.68,327.3 128.80,319.8 128.93,320.7 129.05,313.6 129.18,327.5 129.30,336.4 129.43,341.3 129.55,331.4 129.68,335.7 129.80,330.4 129.93,327.8 130.05,334.7 130.18,339.7 130.30,338.0 130.43,328.6 130.55,333.2 130.68,327.5 130.80,275.4 130.93,267.7 131.05,266.9 131.18,267.4 131.30,263.4 131.43,257.3 131.55,264.6 131.68,263.5 131.80,266.8 131.93,276.1 132.05,280.1 132.18,278.9 132.30,276.9 132.43,280.9 132.55,274.7 132.68,272.9 132.80,272.6 132.93,271.1 133.05,273.9 133.18,280.4 133.30,276.4 133.43,277.6 133.55,275.5 133.68,270.0 133.80,272.3 133.93,277.2 134.05,278.4 134.18,281.8 134.30,276.1 134.43,278.5 134.55,274.2 134.68,267.2 134.80,271.2 134.93,268.9 135.05,269.7 135.18,269.2 135.30,277.7 135.43,274.3 135.55,305.7 135.68,332.9 135.80,330.8 135.93,323.2 136.05,318.4 136.18,322.6 136.30,316.9 136.43,310.4 136.55,315.6 136.68,328.3 136.80,332.1 136.93,332.1 137.05,332.3 137.18,334.2 137.30,334.3 137.43,340.3 137.55,342.0 137.68,337.0 137.80,343.3 137.93,337.2 138.05,329.8 138.18,324.8 138.30,328.4 138.43,329.6 138.55,329.9 138.68,334.6 138.80,329.3 138.93,336.4 139.05,335.5 139.18,326.1 139.30,327.0 139.43,321.7 139.55,319.0 139.68,324.7 139.80,327.7 139.93,321.9 140.05,319.5 140.18,315.4 140.30,324.6 140.43,324.6 140.55,326.0 140.68,329.1 140.80,330.5 140.93,330.9 141.05,329.9 141.18,340.6 141.30,344.5 141.43,340.7 141.55,340.9 141.68,342.9 141.80,342.8 141.93,345.7 142.05,338.8 142.18,336.5 142.30,332.4 142.43,326.0 142.55,330.0 142.68,326.2 142.80,330.4 142.93,322.7 143.05,316.8 143.18,312.0 143.30,300.0 143.43,298.8 143.55,313.4 143.68,315.5 143.80,324.9 143.93,330.9 144.05,340.9 144.18,335.1 144.30,342.1 144.43,338.9 144.55,332.9 144.68,331.9 144.80,336.2 144.93,320.2 145.05,290.2 145.18,292.1 145.30,284.8 145.43,283.9 145.55,278.9 145.68,279.1 145.80,282.7 145.93,281.0 146.05,282.8 146.18,285.6 146.30,278.9 146.43,284.1 146.55,290.0 146.68,290.7 146.80,282.6 146.93,282.7 147.05,283.5 147.18,281.8 147.30,289.1 147.43,288.8 147.55,282.6 147.68,283.3 147.80,282.4 147.93,285.4 148.05,283.7 148.18,287.4 148.30,288.7 148.43,293.7 148.55,293.6 148.68,296.5 148.80,292.9 148.93,283.4 149.05,285.9 149.18,287.4 149.30,289.9 149.43,289.3 149.55,291.9 149.68,292.9 149.80,292.2 149.93,286.0 150.05,280.6 150.18,283.5 150.30,278.2 150.43,278.5 150.55,272.7 150.68,277.8 150.80,281.6 150.93,281.0 151.05,292.0 151.18,285.9 151.30,281.5 151.43,281.4 151.55,284.8 151.68,291.2 151.80,289.4 151.93,286.5 152.05,283.6 152.18,279.1 152.30,281.7 152.43,276.2 152.55,280.9 152.68,278.0 152.80,280.0 152.93,281.3 153.05,279.4 153.18,281.2 153.30,280.6 153.43,281.1 153.55,283.8 153.68,286.4 153.80,286.4 153.93,327.1 154.05,333.5 154.18,331.4 154.30,333.8 154.43,334.6 154.55,331.4 154.68,333.7 154.80,333.0 154.93,332.2 155.05,325.6 155.18,324.9 155.30,320.9 155.43,325.8 155.55,322.1 155.68,314.3 155.80,321.0 155.93,318.4 156.05,317.1 156.18,312.9 156.30,312.6 156.43,316.9 156.55,325.0 156.68,327.1 156.80,327.8 156.93,330.7 157.05,323.5 157.18,322.0 157.30,315.8 157.43,318.8 157.55,319.1 157.68,325.8 157.80,331.7 157.93,332.1 158.05,329.8 158.18,331.9 158.30,325.9 158.43,328.8 158.55,329.2 158.68,330.3 158.80,329.1 158.93,326.9 159.05,326.8 159.18,326.7 159.30,327.5 159.43,324.8 159.55,323.5 159.68,327.6 159.80,322.3 159.93,324.8 160.05,325.0 160.18,329.2 160.30,331.7 160.43,332.4 160.55,332.4 160.68,335.0 160.80,330.6 160.93,334.7 161.05,330.0 161.18,330.2 161.30,339.5 161.43,332.6 161.55,328.5 161.68,332.5 161.80,326.3 161.93,328.3 162.05,330.3 162.18,329.6 162.30,325.9 162.43,328.5 162.55,327.5 162.68,328.0 162.80,332.1 162.93,336.1 163.05,333.7 163.18,329.3 163.30,330.0 163.43,333.5 163.55,335.2 163.68,334.4 163.80,328.8 163.93,329.7 164.05,328.7 164.18,330.9 164.30,331.9 164.43,336.7 164.55,336.1 164.68,337.8 164.80,338.3 164.93,335.4 165.05,341.4 165.18,329.8 165.30,326.4 165.43,326.7 165.55,330.7 165.68,333.5 165.80,336.8 165.93,338.9 166.05,335.7 166.18,345.6 166.30,348.6 166.43,352.6 166.55,347.5 166.68,348.7 166.80,343.4 166.93,347.0 167.05,338.8 167.18,337.8 167.30,327.5 167.43,327.5 167.55,327.9 167.68,326.7 167.80,339.2 167.93,334.9 168.05,338.6 168.18,343.7 168.30,335.9 168.43,329.7 168.55,331.5 168.68,327.0 168.80,334.3 168.93,325.7 169.05,328.1 169.18,330.9 169.30,326.9 169.43,327.0 169.55,334.0 169.68,339.7 169.80,346.1 169.93,348.0 170.05,339.1 170.18,339.0 170.30,337.3 170.43,335.5 170.55,332.8 170.68,327.3 170.80,316.4 170.93,303.9 171.05,306.6 171.18,314.0 171.30,318.5 171.43,314.8 171.55,322.8 171.68,326.1 171.80,328.3 171.93,330.1 172.05,332.8 172.18,326.4 172.30,330.1 172.43,334.1 172.55,341.1 172.68,337.0 172.80,342.9 172.93,350.8 173.05,346.3 173.18,339.0 173.30,326.5 173.43,331.2 173.55,339.9 173.68,336.7 173.80,338.6 173.93,341.1 174.05,342.4 174.18,348.6 174.30,339.0 174.43,334.0 174.55,336.9 174.68,331.3 174.80,332.7 174.93,332.1 175.05,331.9 175.18,334.0 175.30,335.6 175.43,331.1 175.55,322.2 175.68,321.4 175.80,324.7 175.93,322.6 176.05,319.0 176.18,324.1 176.30,319.3 176.43,320.7 176.55,327.2 176.68,331.3 176.80,328.5 176.93,328.1 177.05,328.9 177.18,324.4 177.30,336.3 177.43,343.1 177.55,342.1 177.68,345.7 177.80,348.8 177.93,345.8 178.05,346.5 178.18,339.4 178.30,332.6 178.43,332.2 178.55,333.3 178.68,336.7 178.80,338.6 178.93,339.5 179.05,337.7 179.18,331.8 179.30,330.9 179.43,331.2 179.55,331.9 179.68,333.4 179.80,331.8 179.93,328.9 180.05,330.4 180.18,333.6 180.30,331.3 180.43,337.6 180.55,334.4 180.68,336.4 180.80,333.9 180.93,329.5 181.05,328.6 181.18,329.5 181.30,333.8 181.43,333.6 181.55,331.5 181.68,325.7 181.80,329.1 181.93,336.7 182.05,340.5 182.18,332.9 182.30,336.3 182.43,335.6 182.55,331.5 182.68,334.2 182.80,323.9 182.93,316.7 183.05,310.0 183.18,306.3 183.30,306.5 183.43,310.6 183.55,316.8 183.68,321.2 183.80,318.8 183.93,320.0 184.05,324.0 184.18,326.1 184.30,324.3 184.43,330.4 184.55,337.9 184.68,331.7 184.80,326.2 184.93,307.7 185.05,254.1 185.18,253.8 185.30,256.9 185.43,252.4 185.55,254.3 185.68,249.6 185.80,250.6 185.93,245.7 186.05,243.3 186.18,247.4 186.30,234.5 186.43,239.6 186.55,247.4 186.68,243.2 186.80,252.3 186.93,247.7 187.05,248.0 187.18,244.8 187.30,242.6 187.43,249.6 187.55,253.2 187.68,249.7 187.80,250.0 187.93,250.6 188.05,248.3 188.18,254.1 188.30,257.8 188.43,249.7 188.55,247.5 188.68,254.4 188.80,250.9 188.93,253.6 189.05,264.2 189.18,263.3 189.30,257.4 189.43,254.4 189.55,260.6 189.68,262.8 189.80,257.8 189.93,258.5 190.05,259.7 190.18,265.8 190.30,334.7 190.43,330.4 190.55,325.2 190.68,325.5 190.80,329.0 190.93,327.9 191.05,318.8 191.18,321.5 191.30,320.5 191.43,324.6 191.55,326.3 191.68,332.1 191.80,338.3 191.93,333.0 192.05,331.3 192.18,328.2 192.30,323.9 192.43,322.7 192.55,321.8 192.68,327.5 192.80,327.9 192.93,328.5 193.05,329.1 193.18,336.8 193.30,330.1 193.43,321.3 193.55,321.4 193.68,319.0 193.80,308.5 193.93,314.1 194.05,315.5 194.18,312.8 194.30,315.8 194.43,250.6 194.55,258.7 194.68,260.6 194.80,262.1 194.93,263.3 195.05,263.4 195.18,270.3 195.30,268.7 195.43,276.3 195.55,267.7 195.68,262.1 195.80,260.6 195.93,267.1 196.05,271.3 196.18,255.9 196.30,251.9 196.43,248.3 196.55,247.0 196.68,242.0 196.80,245.2 196.93,245.2 197.05,254.3 197.18,255.3 197.30,258.9 197.43,266.6 197.55,264.6 197.68,267.5 197.80,267.6 197.93,272.4 198.05,266.9 198.18,266.1 198.30,263.4 198.43,264.0 198.55,258.7 198.68,261.3 198.80,264.9 198.93,264.2 199.05,259.5 199.18,258.5 199.30,257.8 199.43,258.4 199.55,258.1 199.68,260.1 199.80,267.9 199.93,275.1 200.05,276.8 200.18,273.1 200.30,270.2 200.43,266.6 200.55,268.0 200.68,267.7 200.80,262.4 200.93,262.7 201.05,264.1 201.18,271.9 201.30,273.9 201.43,274.4 201.55,309.3 201.68,326.4 201.80,323.9 201.93,319.0 202.05,319.0 202.18,314.9 202.30,325.5 202.43,326.6 202.55,325.4 202.68,332.6 202.80,331.1 202.93,325.1 203.05,322.3 203.18,316.1 203.30,314.9 203.43,306.1 203.55,307.1 203.68,316.1 203.80,323.3 203.93,322.2 204.05,324.1 204.18,321.2 204.30,327.8 204.43,324.1 204.55,326.1 204.68,328.8 204.80,322.1 204.93,320.2 205.05,322.6 205.18,324.2 205.30,324.0 205.43,321.9 205.55,322.9 205.68,324.8 205.80,268.7 205.93,264.9 206.05,265.9 206.18,262.6 206.30,262.8 206.43,257.5 206.55,259.1 206.68,254.0 206.80,249.9 206.93,257.8 207.05,261.7 207.18,265.1 207.30,265.2 207.43,263.1 207.55,265.1 207.68,256.6 207.80,260.5 207.93,267.2 208.05,266.5 208.18,260.9 208.30,261.5 208.43,258.2 208.55,258.9 208.68,261.4 208.80,257.6 208.93,254.3 209.05,241.8 209.18,246.1 209.30,253.3 209.43,247.7 209.55,246.5 209.68,252.2 209.80,250.6 209.93,249.6 210.05,251.6 210.18,252.0 210.30,258.3 210.43,255.4 210.55,261.4 210.68,253.9 210.80,255.6 210.93,247.6 211.05,245.8 211.18,249.6 211.30,262.6 211.43,336.8 211.55,341.7 211.68,348.7 211.80,347.3 211.93,348.7 212.05,349.7 212.18,344.8 212.30,342.1 212.43,336.3 212.55,335.0 212.68,334.4 212.80,335.3 212.93,336.6 213.05,337.8 213.18,338.0 213.30,337.3 213.43,336.6 213.55,332.7 213.68,333.5 213.80,332.7 213.93,333.7 214.05,330.8 214.18,332.1 214.30,327.8 214.43,328.9 214.55,327.6 214.68,332.0 214.80,339.6 214.93,338.0 215.05,340.3 215.18,345.4 215.30,343.4 215.43,343.7 215.55,339.4 215.68,345.2 215.80,339.8 215.93,335.7 216.05,343.1 216.18,339.9 216.30,346.8 216.43,343.8 216.55,339.4 216.68,328.5 216.80,332.8 216.93,335.5 217.05,331.0 217.18,330.5 217.30,332.0 217.43,338.8 217.55,341.1 217.68,342.0 217.80,337.9 217.93,332.7 218.05,331.4 218.18,333.0 218.30,326.8 218.43,326.9 218.55,331.3 218.68,334.8 218.80,266.9 218.93,266.3 219.05,273.1 219.18,270.2 219.30,277.2 219.43,279.4 219.55,281.7 219.68,278.5 219.80,276.8 219.93,273.2 220.05,273.9 220.18,268.9 220.30,262.1 220.43,268.0 220.55,269.7 220.68,275.6 220.80,268.4 220.93,271.7 221.05,269.4 221.18,277.4 221.30,277.4 221.43,273.3 221.55,274.0 221.68,273.0 221.80,273.2 221.93,275.7 222.05,275.3 222.18,271.3 222.30,264.3 222.43,275.2 222.55,270.0 222.68,264.3 222.80,269.1 222.93,267.6 223.05,274.0 223.18,277.6 223.30,275.5 223.43,275.2 223.55,270.9 223.68,268.6 223.80,271.5 223.93,274.2 224.05,263.1 224.18,270.0 224.30,269.2 224.43,268.5 224.55,272.4 224.68,272.3 224.80,321.6 224.93,322.8 225.05,331.4 225.18,334.7 225.30,333.9 225.43,328.6 225.55,331.6 225.68,328.7 225.80,336.0 225.93,334.6 226.05,337.8 226.18,333.3 226.30,330.0 226.43,324.3 226.55,324.8 226.68,326.8 226.80,328.1 226.93,331.8 227.05,324.5 227.18,324.4 227.30,330.8 227.43,336.5 227.55,328.4 227.68,322.5 227.80,321.9 227.93,324.1 228.05,332.1 228.18,324.0 228.30,323.3 228.43,318.9 228.55,317.0 228.68,312.9 228.80,317.9 228.93,318.8 229.05,317.4 229.18,330.9 229.30,331.4 229.43,323.8 229.55,282.2 229.68,246.6 229.80,248.4 229.93,243.4 230.05,246.8 230.18,250.5 230.30,254.0 230.43,252.1 230.55,252.3 230.68,251.7 230.80,249.8 230.93,253.6 231.05,257.7 231.18,248.6 231.30,249.5 231.43,255.1 231.55,260.2 231.68,259.0 231.80,254.1 231.93,257.4 232.05,252.1 232.18,249.2 232.30,248.8 232.43,251.4 232.55,255.3 232.68,262.0 232.80,265.3 232.93,267.6 233.05,267.5 233.18,267.8 233.30,268.5 233.43,265.1 233.55,258.3 233.68,262.4 233.80,261.2 233.93,261.2 234.05,264.7 234.18,266.3 234.30,270.0 234.43,269.8 234.55,269.7 234.68,274.5 234.80,271.8 234.93,271.6 235.05,268.7 235.18,269.4 235.30,267.5 235.43,269.9 235.55,271.6 235.68,268.7 235.80,269.1 235.93,268.4 236.05,268.9 236.18,268.6 236.30,266.5 236.43,270.5 236.55,269.9 236.68,272.1 236.80,278.5 236.93,276.4 237.05,277.7 237.18,277.4 237.30,270.6 237.43,268.2 237.55,269.9 237.68,271.1 237.80,271.3 237.93,272.3 238.05,275.3 238.18,273.2 238.30,274.5 238.43,266.4 238.55,264.8 238.68,269.5 238.80,266.9 238.93,269.4 239.05,271.3 239.18,277.5 239.30,278.9 239.43,272.9 239.55,308.9 239.68,341.9 239.80,339.3 239.93,336.2 240.05,330.7 240.18,337.0 240.30,335.9 240.43,332.5 240.55,329.4 240.68,333.0 240.80,333.4 240.93,333.6 241.05,334.0 241.18,343.6 241.30,342.0 241.43,337.5 241.55,342.2 241.68,345.6 241.80,344.4 241.93,341.1 242.05,341.9 242.18,343.8 242.30,340.3 242.43,345.7 242.55,343.3 242.68,342.4 242.80,347.1 242.93,346.7 243.05,348.6 243.18,346.9 243.30,349.3 243.43,341.0 243.55,337.2 243.68,343.2 243.80,339.5 243.93,341.0 244.05,339.7 244.18,338.1 244.30,343.8 244.43,349.2 244.55,351.7 244.68,340.2 244.80,344.9 244.93,348.6 245.05,343.7 245.18,347.1 245.30,350.9 245.43,344.2 245.55,349.0 245.68,337.6 245.80,263.9 245.93,265.1 246.05,268.6 246.18,275.0 246.30,275.2 246.43,276.0 246.55,278.6 246.68,271.6 246.80,275.3 246.93,272.0 247.05,273.5 247.18,272.2 247.30,274.3 247.43,272.9 247.55,276.4 247.68,274.5 247.80,271.2 247.93,274.9 248.05,273.5 248.18,270.1 248.30,278.4 248.43,272.1 248.55,278.2 248.68,281.0 248.80,281.9 248.93,281.5 249.05,277.7 249.18,279.5 249.30,276.6 249.43,277.3 249.55,277.9 249.68,278.0 249.80,345.9 249.93,344.4 250.05,334.3 250.18,334.1 250.30,339.3 250.43,332.3 250.55,329.6 250.68,338.0 250.80,338.6 250.93,341.3 251.05,341.3 251.18,335.7 251.30,336.0 251.43,333.7 251.55,334.2 251.68,332.3 251.80,339.5 251.93,338.9 252.05,344.1 252.18,346.7 252.30,346.6 252.43,261.2 252.55,259.0 252.68,257.5 252.80,254.9 252.93,262.0 253.05,262.8 253.18,255.8 253.30,255.0 253.43,250.2 253.55,248.0 253.68,257.5 253.80,271.2 253.93,271.7 254.05,259.5 254.18,257.4 254.30,256.7 254.43,262.0 254.55,262.3 254.68,256.0 254.80,248.4 254.93,250.5 255.05,248.4 255.18,252.4 255.30,264.1 255.43,272.8 255.55,272.5 255.68,265.0 255.80,266.8 255.93,273.6 256.05,270.4 256.18,271.3 256.30,271.4 256.43,270.5 256.55,270.6 256.68,265.9 256.80,266.6 256.93,266.5 257.05,264.4 257.18,262.4 257.30,260.0 257.43,262.3 257.55,263.0 257.68,266.4 257.80,266.5 257.93,266.5 258.05,267.0 258.18,266.8 258.30,266.4 258.43,261.5 258.55,261.0 258.68,267.4 258.80,270.3 258.93,263.4 259.05,261.6 259.18,267.3 259.30,263.7 259.43,335.9 259.55,339.8 259.68,343.8 259.80,339.7 259.93,335.9 260.05,331.3 260.18,332.2 260.30,334.2 260.43,335.8 260.55,335.7 260.68,338.6 260.80,336.4 260.93,340.1 261.05,330.2 261.18,327.6 261.30,331.8 261.43,318.0 261.55,260.3 261.68,261.3 261.80,257.1 261.93,252.5 262.05,259.5 262.18,257.4 262.30,253.5 262.43,258.2 262.55,260.9 262.68,259.9 262.80,257.9 262.93,257.6 263.05,248.3 263.18,239.2 263.30,245.6 263.43,241.8 263.55,246.5 263.68,247.0 263.80,253.4 263.93,253.7 264.05,257.6 264.18,262.9 264.30,258.3 264.43,249.6 264.55,255.1 264.68,261.4 264.80,261.4 264.93,255.9 265.05,258.3 265.18,268.8 265.30,268.2 265.43,272.6 265.55,301.0 265.68,330.5 265.80,331.0 265.93,330.9 266.05,326.7 266.18,323.5 266.30,327.6 266.43,328.8 266.55,326.8 266.68,324.5 266.80,329.0 266.93,323.8 267.05,327.8 267.18,322.7 267.30,320.2 267.43,317.9 267.55,327.7 267.68,327.3 267.80,335.0 267.93,324.7 268.05,317.5 268.18,314.6 268.30,307.5 268.43,305.3 268.55,312.8 268.68,321.2 268.80,328.4 268.93,330.4 269.05,335.7 269.18,334.5 269.30,331.9 269.43,336.3 269.55,336.7 269.68,338.7 269.80,338.5 269.93,337.6 270.05,335.8 270.18,328.4 270.30,331.1 270.43,322.1 270.55,326.8 270.68,328.6 270.80,324.2 270.93,327.2 271.05,334.3 271.18,338.5 271.30,333.7 271.43,332.0 271.55,331.9 271.68,324.1 271.80,332.9 271.93,328.9 272.05,334.7 272.18,338.3 272.30,336.1 272.43,322.2 272.55,323.1 272.68,331.2 272.80,327.9 272.93,331.5 273.05,332.7 273.18,340.6 273.30,340.7 273.43,340.4 273.55,344.7 273.68,347.7 273.80,344.1 273.93,346.4 274.05,340.8 274.18,342.0 274.30,340.7 274.43,342.2 274.55,339.5 274.68,338.9 274.80,342.9 274.93,337.4 275.05,332.0 275.18,323.4 275.30,328.7 275.43,322.0 275.55,327.5 275.68,333.4 275.80,336.8 275.93,337.1 276.05,338.3 276.18,337.6 276.30,340.6 276.43,336.4 276.55,336.7 276.68,340.2 276.80,338.5 276.93,342.6 277.05,331.9 277.18,326.9 277.30,329.5 277.43,332.4 277.55,331.9 277.68,336.2 277.80,348.0 277.93,345.2 278.05,349.7 278.18,352.2 278.30,354.6 278.43,345.2 278.55,342.7 278.68,336.1 278.80,333.0 278.93,331.5 279.05,328.3 279.18,326.9 279.30,318.0 279.43,324.7 279.55,326.9 279.68,325.3 279.80,325.4 279.93,320.9 280.05,319.1 280.18,323.5 280.30,326.4 280.43,326.4 280.55,319.2 280.68,330.5 280.80,334.2 280.93,331.9 281.05,344.2 281.18,338.5 281.30,341.6 281.43,337.3 281.55,332.5 281.68,332.4 281.80,331.2 281.93,335.0 282.05,326.7 282.18,319.9 282.30,317.1 282.43,322.1 282.55,333.8 282.68,326.8 282.80,331.9 282.93,326.6 283.05,336.0 283.18,340.2 283.30,338.1 283.43,338.8 283.55,332.3 283.68,335.8 283.80,337.4 283.93,325.4 284.05,328.3 284.18,328.0 284.30,329.0 284.43,328.2 284.55,330.1 284.68,325.3 284.80,322.9 284.93,326.0 285.05,321.3 285.18,327.4 285.30,326.0 285.43,243.4 285.55,252.3 285.68,247.2 285.80,245.9 285.93,252.4 286.05,252.7 286.18,253.1 286.30,250.3 286.43,248.1 286.55,244.5 286.68,239.6 286.80,233.3 286.93,237.2 287.05,239.2 287.18,239.8 287.30,243.5 287.43,244.9 287.55,244.0 287.68,240.8 287.80,243.8 287.93,244.4 288.05,247.9 288.18,245.6 288.30,243.3 288.43,247.1 288.55,241.2 288.68,234.8 288.80,232.9 288.93,244.3 289.05,243.9 289.18,251.5 289.30,249.3 289.43,252.4 289.55,257.5 289.68,263.4 289.80,257.5 289.93,264.4 290.05,272.7 290.18,268.9 290.30,276.2 290.43,270.4 290.55,267.5 290.68,263.7 290.80,261.2 290.93,262.9 291.05,258.2 291.18,266.6 291.30,268.6 291.43,263.8 291.55,262.0 291.68,256.2 291.80,259.9 291.93,258.3 292.05,259.0 292.18,258.6 292.30,268.0 292.43,264.2 292.55,272.7 292.68,272.8 292.80,271.3 292.93,271.4 293.05,268.9 293.18,267.4 293.30,329.6 293.43,327.9 293.55,324.0 293.68,326.1 293.80,330.0 293.93,324.0 294.05,324.4 294.18,324.6 294.30,324.6 294.43,317.0 294.55,312.8 294.68,316.5 294.80,306.8 294.93,318.0 295.05,317.4 295.18,317.8 295.30,321.7 295.43,326.3 295.55,321.6 295.68,324.5 295.80,324.6 295.93,323.7 296.05,322.7 296.18,318.2 296.30,314.8 296.43,315.4 296.55,310.5 296.68,310.8 296.80,307.1 296.93,312.8 297.05,317.8 297.18,319.7 297.30,324.1 297.43,325.6 297.55,327.9 297.68,332.3 297.80,327.0 297.93,327.7 298.05,328.6 298.18,327.6 298.30,327.0 298.43,314.6 298.55,312.8 298.68,312.3 298.80,314.1 298.93,314.6 299.05,310.5 299.18,306.5 299.30,311.4 299.43,314.2 299.55,311.1 299.68,312.6 299.80,310.2 299.93,320.5 300.05,317.3 300.18,320.7 300.30,317.6 300.43,319.0 300.55,319.2 300.68,313.7 300.80,319.9 300.93,318.6 301.05,321.9 301.18,320.6 301.30,328.9 301.43,333.1 301.55,323.9 301.68,318.7 301.80,319.5 301.93,323.3 302.05,326.3 302.18,280.6 302.30,261.6 302.43,262.8 302.55,263.0 302.68,260.1 302.80,257.5 302.93,261.5 303.05,254.7 303.18,257.7 303.30,259.1 303.43,257.3 303.55,252.2 303.68,256.3 303.80,254.7 303.93,258.6 304.05,249.6 304.18,252.6 304.30,258.8 304.43,257.6 304.55,255.6 304.68,255.6 304.80,255.5 304.93,255.9 305.05,257.7 305.18,259.7 305.30,267.2 305.43,266.3 305.55,265.1 305.68,256.7 305.80,255.6 305.93,255.4 306.05,257.3 306.18,265.3 306.30,261.7 306.43,262.4 306.55,261.7 306.68,265.7 306.80,329.9 306.93,324.6 307.05,325.8 307.18,321.9 307.30,320.7 307.43,326.5 307.55,317.3 307.68,321.7 307.80,323.9 307.93,323.8 308.05,322.2 308.18,325.2 308.30,322.8 308.43,324.5 308.55,327.7 308.68,324.9 308.80,325.9 308.93,319.1 309.05,321.9 309.18,322.6 309.30,319.3 309.43,314.6 309.55,309.8 309.68,316.4 309.80,254.7 309.93,257.8 310.05,259.5 310.18,247.0 310.30,249.0 310.43,246.5 310.55,247.5 310.68,251.5 310.80,249.1 310.93,258.2 311.05,260.5 311.18,259.7 311.30,257.9 311.43,252.8 311.55,251.7 311.68,253.6 311.80,250.6 311.93,245.9 312.05,246.7 312.18,252.5 312.30,248.6 312.43,246.9 312.55,252.7 312.68,252.6 312.80,249.5 312.93,249.3 313.05,248.8 313.18,257.6 313.30,252.6 313.43,254.1 313.55,254.6 313.68,256.7 313.80,260.2 313.93,258.3 314.05,260.0 314.18,296.5 314.30,318.8 314.43,314.0 314.55,312.8 314.68,312.8 314.80,309.0 314.93,301.9 315.05,312.7 315.18,314.4 315.30,317.7 315.43,314.8 315.55,315.1 315.68,313.3 315.80,310.8 315.93,314.5 316.05,311.2 316.18,311.3 316.30,309.0 316.43,308.3 316.55,306.9 316.68,295.0 316.80,286.2 316.93,288.6 317.05,285.9 317.18,294.4 317.30,294.4 317.43,302.2 317.55,305.8 317.68,302.6 317.80,305.9 317.93,305.1 318.05,310.1 318.18,309.7 318.30,303.9 318.43,292.5 318.55,291.4 318.68,298.3 318.80,298.1 318.93,302.5 319.05,308.6 319.18,304.9 319.30,312.3 319.43,314.6 319.55,312.5 319.68,313.2 319.80,312.5 319.93,301.1 320.05,270.3 320.18,267.0 320.30,267.5 320.43,273.6 320.55,274.4 320.68,274.7 320.80,275.0 320.93,273.0 321.05,272.9 321.18,268.7 321.30,269.6 321.43,273.3 321.55,268.1 321.68,266.7 321.80,264.7 321.93,272.7 322.05,279.2 322.18,275.5 322.30,274.9 322.43,271.8 322.55,265.7 322.68,265.2 322.80,266.0 322.93,269.3 323.05,267.8 323.18,272.2 323.30,274.3 323.43,267.4 323.55,263.4 323.68,264.7 323.80,264.4 323.93,314.8 324.05,319.0 324.18,312.5 324.30,323.2 324.43,325.2 324.43,373.0 324.30,369.2 324.18,370.3 324.05,370.8 323.93,374.1 323.80,378.5 323.68,377.5 323.55,379.6 323.43,380.5 323.30,378.3 323.18,375.7 323.05,371.4 322.93,368.0 322.80,363.2 322.68,358.2 322.55,362.7 322.43,364.7 322.30,365.3 322.18,369.2 322.05,364.8 321.93,364.7 321.80,356.1 321.68,350.8 321.55,349.2 321.43,347.6 321.30,352.4 321.18,350.7 321.05,352.5 320.93,350.4 320.80,349.1 320.68,351.0 320.55,353.2 320.43,348.8 320.30,352.6 320.18,347.1 320.05,350.8 319.93,348.4 319.80,348.3 319.68,350.2 319.55,348.3 319.43,347.4 319.30,351.3 319.18,349.8 319.05,352.4 318.93,353.0 318.80,351.7 318.68,350.5 318.55,358.5 318.43,357.8 318.30,358.0 318.18,359.5 318.05,354.8 317.93,354.4 317.80,351.0 317.68,347.5 317.55,349.6 317.43,350.7 317.30,349.5 317.18,354.0 317.05,351.6 316.93,356.0 316.80,352.5 316.68,350.2 316.55,356.4 316.43,357.7 316.30,361.6 316.18,357.4 316.05,356.3 315.93,358.3 315.80,357.6 315.68,355.2 315.55,359.9 315.43,362.2 315.30,366.3 315.18,364.2 315.05,363.5 314.93,360.4 314.80,361.7 314.68,357.9 314.55,359.7 314.43,362.4 314.30,356.9 314.18,357.0 314.05,358.8 313.93,358.8 313.80,357.1 313.68,352.4 313.55,352.8 313.43,353.4 313.30,364.0 313.18,359.6 313.05,353.2 312.93,351.8 312.80,347.9 312.68,349.4 312.55,346.1 312.43,350.3 312.30,356.0 312.18,341.2 312.05,303.0 311.93,298.6 311.80,297.2 311.68,360.1 311.55,358.2 311.43,354.5 311.30,360.2 311.18,362.1 311.05,364.5 310.93,360.3 310.80,359.7 310.68,360.3 310.55,361.8 310.43,362.0 310.30,361.5 310.18,360.0 310.05,357.9 309.93,355.5 309.80,355.1 309.68,362.8 309.55,361.9 309.43,364.7 309.30,367.1 309.18,365.7 309.05,364.0 308.93,367.4 308.80,369.8 308.68,367.0 308.55,365.9 308.43,361.4 308.30,364.0 308.18,362.4 308.05,367.3 307.93,363.1 307.80,364.5 307.68,364.3 307.55,365.4 307.43,369.6 307.30,373.4 307.18,372.9 307.05,375.6 306.93,379.5 306.80,381.4 306.68,384.6 306.55,380.7 306.43,376.8 306.30,366.1 306.18,366.3 306.05,365.6 305.93,367.3 305.80,371.8 305.68,369.9 305.55,363.5 305.43,368.4 305.30,366.2 305.18,363.5 305.05,363.4 304.93,367.7 304.80,368.3 304.68,307.6 304.55,307.4 304.43,307.5 304.30,301.7 304.18,316.0 304.05,364.5 303.93,362.7 303.80,365.8 303.68,368.3 303.55,363.3 303.43,367.6 303.30,364.3 303.18,364.8 303.05,368.3 302.93,369.8 302.80,368.3 302.68,366.3 302.55,366.6 302.43,368.1 302.30,369.2 302.18,368.2 302.05,363.9 301.93,365.7 301.80,365.2 301.68,370.3 301.55,365.3 301.43,365.2 301.30,364.7 301.18,364.8 301.05,366.6 300.93,368.8 300.80,373.2 300.68,367.2 300.55,365.3 300.43,371.4 300.30,374.4 300.18,367.1 300.05,368.7 299.93,370.9 299.80,368.0 299.68,372.4 299.55,366.7 299.43,363.9 299.30,364.1 299.18,361.0 299.05,360.4 298.93,356.8 298.80,358.6 298.68,360.5 298.55,365.5 298.43,363.4 298.30,360.1 298.18,364.8 298.05,367.0 297.93,366.0 297.80,363.3 297.68,363.7 297.55,367.6 297.43,370.4 297.30,370.1 297.18,365.9 297.05,372.0 296.93,370.3 296.80,371.5 296.68,372.5 296.55,368.0 296.43,362.2 296.30,363.7 296.18,366.3 296.05,363.9 295.93,360.6 295.80,363.1 295.68,363.9 295.55,367.1 295.43,366.9 295.30,369.6 295.18,367.4 295.05,363.3 294.93,360.8 294.80,361.0 294.68,361.6 294.55,363.4 294.43,363.5 294.30,363.6 294.18,364.6 294.05,366.1 293.93,364.3 293.80,367.2 293.68,370.2 293.55,368.0 293.43,367.5 293.30,365.8 293.18,365.1 293.05,367.8 292.93,360.1 292.80,365.7 292.68,369.7 292.55,370.3 292.43,366.9 292.30,365.0 292.18,365.3 292.05,364.5 291.93,365.7 291.80,366.7 291.68,369.1 291.55,365.0 291.43,364.5 291.30,363.7 291.18,305.8 291.05,304.7 290.93,307.5 290.80,307.0 290.68,306.2 290.55,301.1 290.43,303.0 290.30,305.2 290.18,304.1 290.05,307.9 289.93,306.6 289.80,302.6 289.68,305.8 289.55,300.3 289.43,302.9 289.30,301.4 289.18,298.9 289.05,302.7 288.93,302.9 288.80,301.7 288.68,301.3 288.55,303.9 288.43,299.8 288.30,302.3 288.18,299.4 288.05,296.7 287.93,299.5 287.80,299.4 287.68,297.1 287.55,296.5 287.43,297.1 287.30,379.7 287.18,378.3 287.05,377.6 286.93,382.8 286.80,384.6 286.68,382.1 286.55,384.7 286.43,387.1 286.30,383.4 286.18,381.9 286.05,384.4 285.93,382.6 285.80,383.5 285.68,381.0 285.55,385.1 285.43,386.7 285.30,389.9 285.18,393.3 285.05,393.9 284.93,389.5 284.80,387.7 284.68,390.2 284.55,382.7 284.43,381.1 284.30,381.9 284.18,381.3 284.05,378.7 283.93,379.1 283.80,379.2 283.68,378.9 283.55,377.9 283.43,376.6 283.30,377.7 283.18,374.8 283.05,377.0 282.93,380.9 282.80,378.7 282.68,379.7 282.55,378.1 282.43,378.5 282.30,375.0 282.18,380.9 282.05,377.5 281.93,375.0 281.80,380.4 281.68,377.6 281.55,377.5 281.43,382.4 281.30,381.7 281.18,381.2 281.05,377.1 280.93,384.0 280.80,380.7 280.68,379.3 280.55,383.1 280.43,388.3 280.30,386.4 280.18,385.1 280.05,385.3 279.93,389.6 279.80,389.3 279.68,387.1 279.55,380.4 279.43,381.0 279.30,381.2 279.18,387.2 279.05,387.7 278.93,389.3 278.80,384.6 278.68,388.6 278.55,391.7 278.43,388.4 278.30,389.0 278.18,390.5 278.05,391.7 277.93,391.6 277.80,396.7 277.68,401.3 277.55,401.8 277.43,396.3 277.30,393.9 277.18,396.8 277.05,394.2 276.93,387.6 276.80,387.4 276.68,384.3 276.55,389.8 276.43,389.9 276.30,389.8 276.18,387.9 276.05,392.6 275.93,394.3 275.80,398.7 275.68,397.8 275.55,400.2 275.43,393.6 275.30,394.6 275.18,390.8 275.05,389.9 274.93,386.2 274.80,382.0 274.68,384.1 274.55,384.9 274.43,383.8 274.30,387.6 274.18,383.8 274.05,389.3 273.93,389.5 273.80,389.1 273.68,385.8 273.55,386.2 273.43,384.0 273.30,386.1 273.18,386.0 273.05,387.5 272.93,386.6 272.80,386.7 272.68,387.1 272.55,386.2 272.43,383.2 272.30,382.4 272.18,382.1 272.05,380.9 271.93,381.8 271.80,381.8 271.68,384.1 271.55,385.1 271.43,384.0 271.30,387.8 271.18,385.8 271.05,385.1 270.93,384.1 270.80,380.9 270.68,381.2 270.55,376.7 270.43,379.4 270.30,378.5 270.18,378.7 270.05,378.6 269.93,376.3 269.80,376.2 269.68,375.2 269.55,373.8 269.43,370.8 269.30,370.5 269.18,371.5 269.05,371.1 268.93,373.8 268.80,376.5 268.68,377.7 268.55,371.9 268.43,379.3 268.30,381.0 268.18,379.8 268.05,377.0 267.93,378.0 267.80,372.0 267.68,374.1 267.55,373.4 267.43,373.6 267.30,363.8 267.18,365.6 267.05,370.6 266.93,376.6 266.80,376.7 266.68,380.1 266.55,382.1 266.43,377.9 266.30,371.6 266.18,376.0 266.05,378.8 265.93,377.3 265.80,373.8 265.68,373.6 265.55,376.6 265.43,378.4 265.30,367.5 265.18,369.7 265.05,371.6 264.93,372.6 264.80,373.1 264.68,372.0 264.55,365.8 264.43,365.4 264.30,366.5 264.18,367.2 264.05,374.4 263.93,374.1 263.80,370.4 263.68,367.6 263.55,332.5 263.43,357.2 263.30,380.7 263.18,380.6 263.05,378.8 262.93,378.2 262.80,382.1 262.68,379.8 262.55,374.7 262.43,375.8 262.30,382.2 262.18,382.4 262.05,382.3 261.93,384.1 261.80,385.4 261.68,385.6 261.55,390.9 261.43,385.3 261.30,386.0 261.18,381.0 261.05,379.4 260.93,383.3 260.80,388.4 260.68,383.3 260.55,383.7 260.43,381.1 260.30,386.6 260.18,382.7 260.05,384.4 259.93,381.9 259.80,374.6 259.68,376.7 259.55,374.3 259.43,376.4 259.30,381.5 259.18,380.6 259.05,381.7 258.93,382.4 258.80,387.1 258.68,389.5 258.55,391.0 258.43,387.7 258.30,389.4 258.18,394.9 258.05,389.9 257.93,383.6 257.80,385.8 257.68,386.8 257.55,388.9 257.43,389.7 257.30,320.8 257.18,319.8 257.05,321.3 256.93,318.5 256.80,316.7 256.68,315.9 256.55,316.9 256.43,313.8 256.30,315.3 256.18,311.1 256.05,309.4 255.93,314.2 255.80,311.9 255.68,311.3 255.55,306.0 255.43,308.8 255.30,310.8 255.18,318.8 255.05,315.9 254.93,316.8 254.80,315.9 254.68,309.2 254.55,310.3 254.43,312.9 254.30,390.1 254.18,390.4 254.05,392.7 253.93,391.1 253.80,393.1 253.68,388.6 253.55,385.5 253.43,390.1 253.30,388.0 253.18,392.2 253.05,395.4 252.93,395.4 252.80,399.0 252.68,395.5 252.55,397.9 252.43,393.4 252.30,388.6 252.18,389.8 252.05,385.8 251.93,388.9 251.80,391.9 251.68,386.4 251.55,382.2 251.43,386.0 251.30,387.3 251.18,390.1 251.05,387.2 250.93,390.8 250.80,391.7 250.68,392.4 250.55,393.5 250.43,393.5 250.30,393.1 250.18,390.2 250.05,391.5 249.93,389.3 249.80,386.4 249.68,392.4 249.55,393.5 249.43,396.3 249.30,395.3 249.18,392.9 249.05,395.7 248.93,396.8 248.80,393.8 248.68,398.5 248.55,392.4 248.43,398.3 248.30,394.2 248.18,393.4 248.05,387.7 247.93,395.0 247.80,389.4 247.68,383.4 247.55,384.4 247.43,383.3 247.30,385.4 247.18,383.6 247.05,381.7 246.93,387.2 246.80,387.4 246.68,389.4 246.55,391.4 246.43,388.4 246.30,391.5 246.18,390.3 246.05,387.0 245.93,383.0 245.80,386.5 245.68,387.3 245.55,389.5 245.43,392.1 245.30,390.8 245.18,388.7 245.05,381.6 244.93,385.8 244.80,386.8 244.68,384.8 244.55,387.4 244.43,388.6 244.30,389.3 244.18,388.1 244.05,387.1 243.93,386.2 243.80,389.1 243.68,392.5 243.55,390.0 243.43,392.8 243.30,393.2 243.18,391.8 243.05,385.3 242.93,382.0 242.80,386.4 242.68,380.4 242.55,384.0 242.43,388.1 242.30,383.6 242.18,390.8 242.05,389.2 241.93,391.4 241.80,387.3 241.68,392.2 241.55,390.9 241.43,389.7 241.30,392.0 241.18,387.9 241.05,388.6 240.93,386.4 240.80,385.1 240.68,389.2 240.55,386.0 240.43,383.7 240.30,385.7 240.18,389.7 240.05,389.4 239.93,390.9 239.80,394.4 239.68,388.2 239.55,391.0 239.43,391.6 239.30,388.7 239.18,383.9 239.05,387.2 238.93,382.9 238.80,388.1 238.68,382.6 238.55,383.7 238.43,386.5 238.30,388.6 238.18,384.6 238.05,384.6 237.93,382.1 237.80,381.3 237.68,381.7 237.55,347.4 237.43,315.7 237.30,315.4 237.18,315.6 237.05,317.7 236.93,319.5 236.80,322.2 236.68,319.7 236.55,320.4 236.43,323.2 236.30,317.3 236.18,317.3 236.05,319.3 235.93,320.6 235.80,320.0 235.68,322.1 235.55,320.9 235.43,321.0 235.30,318.6 235.18,317.9 235.05,311.3 234.93,318.2 234.80,322.0 234.68,323.4 234.55,322.1 234.43,320.2 234.30,318.9 234.18,317.3 234.05,320.9 233.93,318.2 233.80,320.4 233.68,320.7 233.55,323.3 233.43,321.6 233.30,321.9 233.18,324.5 233.05,322.2 232.93,320.3 232.80,322.1 232.68,317.4 232.55,309.4 232.43,310.6 232.30,313.7 232.18,314.2 232.05,316.4 231.93,312.5 231.80,308.6 231.68,304.7 231.55,335.8 231.43,375.9 231.30,376.2 231.18,378.0 231.05,374.7 230.93,374.6 230.80,373.6 230.68,373.7 230.55,373.6 230.43,372.5 230.30,372.5 230.18,368.2 230.05,366.9 229.93,371.1 229.80,370.7 229.68,368.6 229.55,371.7 229.43,370.6 229.30,367.2 229.18,371.0 229.05,370.4 228.93,373.2 228.80,376.3 228.68,376.2 228.55,372.7 228.43,376.7 228.30,381.8 228.18,384.6 228.05,385.8 227.93,380.9 227.80,377.4 227.68,378.6 227.55,376.9 227.43,377.5 227.30,379.6 227.18,369.9 227.05,372.7 226.93,370.6 226.80,374.9 226.68,378.9 226.55,375.5 226.43,370.3 226.30,371.7 226.18,371.6 226.05,372.6 225.93,374.8 225.80,372.5 225.68,374.8 225.55,372.9 225.43,376.1 225.30,377.3 225.18,379.0 225.05,375.3 224.93,373.4 224.80,377.0 224.68,377.2 224.55,376.9 224.43,380.2 224.30,375.4 224.18,376.1 224.05,373.6 223.93,372.6 223.80,375.0 223.68,375.0 223.55,372.2 223.43,367.2 223.30,364.2 223.18,363.2 223.05,367.9 222.93,366.6 222.80,367.7 222.68,317.7 222.55,318.1 222.43,320.9 222.30,321.8 222.18,323.6 222.05,322.9 221.93,322.8 221.80,324.0 221.68,322.7 221.55,320.1 221.43,317.4 221.30,313.7 221.18,318.0 221.05,323.5 220.93,320.4 220.80,318.0 220.68,386.1 220.55,389.4 220.43,387.3 220.30,385.3 220.18,386.6 220.05,388.7 219.93,383.6 219.80,382.1 219.68,382.1 219.55,385.8 219.43,387.7 219.30,389.0 219.18,388.8 219.05,389.3 218.93,391.5 218.80,389.2 218.68,383.9 218.55,388.4 218.43,385.4 218.30,388.9 218.18,387.7 218.05,388.1 217.93,388.4 217.80,386.0 217.68,390.7 217.55,395.2 217.43,390.2 217.30,396.5 217.18,394.0 217.05,393.2 216.93,394.6 216.80,386.6 216.68,387.5 216.55,388.6 216.43,384.1 216.30,381.5 216.18,376.2 216.05,375.9 215.93,380.6 215.80,380.7 215.68,382.8 215.55,382.6 215.43,384.0 215.30,385.7 215.18,388.0 215.05,392.5 214.93,385.9 214.80,392.9 214.68,391.9 214.55,387.2 214.43,385.3 214.30,389.5 214.18,385.7 214.05,385.2 213.93,390.5 213.80,390.5 213.68,390.4 213.55,390.3 213.43,389.0 213.30,394.1 213.18,386.3 213.05,386.1 212.93,383.9 212.80,384.9 212.68,383.4 212.55,378.4 212.43,378.6 212.30,382.5 212.18,389.2 212.05,385.6 211.93,385.3 211.80,385.3 211.68,383.9 211.55,382.2 211.43,383.7 211.30,382.6 211.18,376.9 211.05,381.1 210.93,376.5 210.80,376.4 210.68,380.0 210.55,383.8 210.43,390.7 210.30,391.1 210.18,395.0 210.05,393.0 209.93,393.9 209.80,390.3 209.68,387.5 209.55,382.8 209.43,384.2 209.30,312.2 209.18,316.2 209.05,314.1 208.93,312.4 208.80,311.3 208.68,312.4 208.55,315.0 208.43,313.5 208.30,312.2 208.18,309.8 208.05,309.9 207.93,311.4 207.80,315.0 207.68,372.1 207.55,369.3 207.43,373.0 207.30,377.7 207.18,373.1 207.05,370.3 206.93,374.5 206.80,371.5 206.68,372.5 206.55,372.7 206.43,375.1 206.30,371.1 206.18,375.3 206.05,375.8 205.93,373.3 205.80,372.2 205.68,366.9 205.55,367.3 205.43,367.8 205.30,368.0 205.18,367.0 205.05,371.5 204.93,370.6 204.80,365.6 204.68,364.4 204.55,366.5 204.43,369.0 204.30,363.2 204.18,369.2 204.05,371.8 203.93,372.1 203.80,373.6 203.68,374.6 203.55,372.6 203.43,370.1 203.30,375.0 203.18,376.8 203.05,376.2 202.93,376.9 202.80,375.0 202.68,379.8 202.55,373.2 202.43,371.7 202.30,371.3 202.18,375.3 202.05,372.3 201.93,379.1 201.80,372.3 201.68,369.0 201.55,370.8 201.43,369.7 201.30,371.5 201.18,373.2 201.05,368.9 200.93,370.2 200.80,372.5 200.68,364.2 200.55,364.5 200.43,363.8 200.30,362.0 200.18,365.4 200.05,363.7 199.93,367.7 199.80,368.7 199.68,368.4 199.55,345.5 199.43,316.4 199.30,320.0 199.18,315.6 199.05,316.2 198.93,317.3 198.80,313.8 198.68,315.5 198.55,316.3 198.43,313.7 198.30,314.3 198.18,319.0 198.05,313.0 197.93,313.4 197.80,315.5 197.68,315.7 197.55,314.3 197.43,310.5 197.30,304.1 197.18,303.8 197.05,309.8 196.93,309.0 196.80,307.6 196.68,312.7 196.55,309.5 196.43,306.9 196.30,369.0 196.18,370.6 196.05,374.7 195.93,373.3 195.80,378.2 195.68,377.1 195.55,373.8 195.43,374.4 195.30,368.2 195.18,367.9 195.05,366.1 194.93,370.1 194.80,373.5 194.68,375.7 194.55,375.5 194.43,372.2 194.30,375.7 194.18,369.1 194.05,374.1 193.93,362.6 193.80,364.7 193.68,366.3 193.55,364.2 193.43,364.8 193.30,363.0 193.18,368.2 193.05,368.4 192.93,367.5 192.80,369.5 192.68,370.4 192.55,369.0 192.43,367.3 192.30,364.3 192.18,361.7 192.05,360.7 191.93,360.8 191.80,370.1 191.68,375.6 191.55,371.3 191.43,373.4 191.30,368.6 191.18,369.8 191.05,373.3 190.93,377.1 190.80,371.9 190.68,374.3 190.55,381.2 190.43,373.5 190.30,379.1 190.18,373.5 190.05,370.2 189.93,374.5 189.80,372.8 189.68,368.4 189.55,367.2 189.43,368.7 189.30,374.2 189.18,374.8 189.05,371.1 188.93,370.6 188.80,366.4 188.68,366.3 188.55,369.4 188.43,372.9 188.30,373.2 188.18,302.9 188.05,302.9 187.93,298.2 187.80,297.8 187.68,300.6 187.55,298.0 187.43,297.2 187.30,302.7 187.18,300.0 187.05,298.6 186.93,349.3 186.80,363.3 186.68,368.1 186.55,366.4 186.43,373.2 186.30,370.6 186.18,372.0 186.05,369.4 185.93,369.0 185.80,372.1 185.68,372.0 185.55,374.6 185.43,373.1 185.30,372.2 185.18,371.0 185.05,371.9 184.93,379.9 184.80,378.1 184.68,372.5 184.55,370.5 184.43,371.1 184.30,371.5 184.18,370.5 184.05,370.8 183.93,375.9 183.80,376.6 183.68,377.3 183.55,378.6 183.43,375.6 183.30,378.7 183.18,380.8 183.05,381.0 182.93,381.4 182.80,382.7 182.68,384.7 182.55,380.2 182.43,377.0 182.30,379.0 182.18,377.8 182.05,381.7 181.93,382.3 181.80,385.0 181.68,381.3 181.55,385.1 181.43,381.1 181.30,380.9 181.18,382.2 181.05,381.5 180.93,387.2 180.80,381.1 180.68,379.1 180.55,374.9 180.43,377.1 180.30,381.8 180.18,384.3 180.05,381.9 179.93,386.4 179.80,387.2 179.68,385.4 179.55,387.5 179.43,383.7 179.30,387.8 179.18,384.7 179.05,385.5 178.93,385.7 178.80,388.9 178.68,390.6 178.55,378.9 178.43,381.2 178.30,385.5 178.18,384.5 178.05,387.8 177.93,383.5 177.80,384.7 177.68,385.7 177.55,383.9 177.43,386.0 177.30,385.1 177.18,381.5 177.05,380.3 176.93,380.6 176.80,386.7 176.68,381.4 176.55,380.0 176.43,381.8 176.30,381.9 176.18,383.6 176.05,385.2 175.93,381.2 175.80,382.4 175.68,380.3 175.55,373.9 175.43,375.9 175.30,378.9 175.18,378.0 175.05,373.9 174.93,373.2 174.80,373.2 174.68,374.6 174.55,378.9 174.43,375.4 174.30,375.0 174.18,374.0 174.05,372.9 173.93,373.4 173.80,371.0 173.68,372.9 173.55,373.3 173.43,371.6 173.30,374.3 173.18,375.9 173.05,370.8 172.93,372.3 172.80,373.5 172.68,375.9 172.55,373.4 172.43,377.3 172.30,381.8 172.18,380.4 172.05,375.6 171.93,373.6 171.80,376.9 171.68,377.7 171.55,376.0 171.43,375.6 171.30,380.9 171.18,380.0 171.05,380.9 170.93,377.9 170.80,380.0 170.68,376.4 170.55,376.5 170.43,373.5 170.30,372.6 170.18,374.0 170.05,373.1 169.93,376.3 169.80,373.9 169.68,373.0 169.55,374.4 169.43,370.2 169.30,372.0 169.18,375.3 169.05,372.6 168.93,378.6 168.80,379.2 168.68,379.9 168.55,378.2 168.43,377.3 168.30,376.7 168.18,378.9 168.05,380.6 167.93,380.0 167.80,376.7 167.68,378.9 167.55,384.1 167.43,385.3 167.30,383.9 167.18,385.5 167.05,382.9 166.93,379.6 166.80,375.7 166.68,381.6 166.55,381.6 166.43,382.0 166.30,374.0 166.18,374.9 166.05,373.2 165.93,376.2 165.80,371.2 165.68,371.2 165.55,372.9 165.43,375.1 165.30,374.0 165.18,375.8 165.05,382.2 164.93,385.2 164.80,390.0 164.68,387.9 164.55,389.1 164.43,385.2 164.30,382.6 164.18,386.1 164.05,380.5 163.93,385.2 163.80,380.6 163.68,380.2 163.55,378.9 163.43,376.7 163.30,374.3 163.18,378.2 163.05,379.2 162.93,382.8 162.80,381.8 162.68,383.2 162.55,385.1 162.43,388.2 162.30,390.6 162.18,391.1 162.05,390.1 161.93,393.4 161.80,386.4 161.68,382.3 161.55,381.1 161.43,381.0 161.30,382.2 161.18,382.6 161.05,381.4 160.93,377.7 160.80,375.0 160.68,386.5 160.55,379.2 160.43,375.9 160.30,376.7 160.18,373.1 160.05,375.7 159.93,374.7 159.80,374.3 159.68,378.1 159.55,375.5 159.43,375.8 159.30,377.3 159.18,376.3 159.05,375.1 158.93,375.7 158.80,374.8 158.68,374.0 158.55,373.2 158.43,369.9 158.30,371.6 158.18,367.5 158.05,367.7 157.93,370.2 157.80,369.9 157.68,366.2 157.55,371.1 157.43,373.0 157.30,371.7 157.18,377.1 157.05,376.7 156.93,371.1 156.80,371.1 156.68,373.8 156.55,372.1 156.43,373.7 156.30,373.9 156.18,372.6 156.05,377.1 155.93,377.3 155.80,380.4 155.68,378.8 155.55,381.8 155.43,378.3 155.30,384.5 155.18,385.9 155.05,381.3 154.93,378.1 154.80,383.1 154.68,381.0 154.55,381.2 154.43,380.0 154.30,380.3 154.18,381.0 154.05,383.2 153.93,390.1 153.80,391.2 153.68,395.3 153.55,392.7 153.43,390.5 153.30,390.5 153.18,382.1 153.05,381.9 152.93,387.4 152.80,383.6 152.68,381.7 152.55,380.7 152.43,381.0 152.30,379.0 152.18,383.6 152.05,381.4 151.93,382.8 151.80,329.0 151.68,327.1 151.55,325.9 151.43,329.4 151.30,324.1 151.18,325.4 151.05,326.5 150.93,328.8 150.80,323.4 150.68,320.5 150.55,323.3 150.43,326.2 150.30,325.6 150.18,332.2 150.05,326.5 149.93,323.1 149.80,326.0 149.68,325.8 149.55,323.5 149.43,326.1 149.30,328.4 149.18,326.5 149.05,325.6 148.93,323.4 148.80,327.4 148.68,331.3 148.55,329.1 148.43,322.2 148.30,327.0 148.18,326.2 148.05,328.6 147.93,326.8 147.80,326.0 147.68,329.2 147.55,333.3 147.43,334.3 147.30,331.4 147.18,328.7 147.05,328.3 146.93,358.6 146.80,369.6 146.68,364.8 146.55,364.0 146.43,365.5 146.30,365.9 146.18,373.0 146.05,376.3 145.93,375.4 145.80,377.6 145.68,377.2 145.55,381.1 145.43,379.3 145.30,374.1 145.18,374.1 145.05,378.1 144.93,375.8 144.80,377.3 144.68,379.1 144.55,377.2 144.43,382.5 144.30,383.8 144.18,383.5 144.05,380.9 143.93,384.7 143.80,389.6 143.68,387.1 143.55,385.3 143.43,384.8 143.30,389.6 143.18,387.3 143.05,383.4 142.93,387.3 142.80,378.5 142.68,377.9 142.55,379.4 142.43,384.4 142.30,384.4 142.18,385.3 142.05,390.0 141.93,392.5 141.80,390.2 141.68,387.7 141.55,381.5 141.43,378.9 141.30,380.1 141.18,382.5 141.05,382.4 140.93,384.5 140.80,384.4 140.68,382.3 140.55,386.9 140.43,386.2 140.30,384.2 140.18,382.5 140.05,381.6 139.93,376.9 139.80,382.9 139.68,379.4 139.55,380.4 139.43,376.5 139.30,375.3 139.18,376.4 139.05,378.2 138.93,378.4 138.80,375.8 138.68,374.9 138.55,376.3 138.43,379.2 138.30,380.9 138.18,382.4 138.05,375.6 137.93,380.4 137.80,379.1 137.68,383.1 137.55,377.4 137.43,377.7 137.30,378.4 137.18,380.7 137.05,380.1 136.93,377.2 136.80,373.6 136.68,377.9 136.55,377.8 136.43,376.7 136.30,377.4 136.18,377.7 136.05,374.6 135.93,379.3 135.80,371.9 135.68,366.2 135.55,366.2 135.43,367.6 135.30,372.5 135.18,373.4 135.05,373.7 134.93,372.4 134.80,377.1 134.68,368.6 134.55,366.2 134.43,369.2 134.30,369.8 134.18,369.6 134.05,371.1 133.93,366.4 133.80,369.8 133.68,371.3 133.55,352.8 133.43,324.5 133.30,323.3 133.18,320.9 133.05,324.1 132.93,326.2 132.80,324.4 132.68,378.4 132.55,379.4 132.43,379.8 132.30,382.0 132.18,381.7 132.05,380.6 131.93,378.5 131.80,384.0 131.68,381.9 131.55,381.0 131.43,386.8 131.30,386.5 131.18,379.7 131.05,376.6 130.93,382.3 130.80,376.5 130.68,376.0 130.55,373.9 130.43,380.2 130.30,380.9 130.18,382.1 130.05,386.5 129.93,389.3 129.80,382.1 129.68,378.1 129.55,379.8 129.43,381.7 129.30,382.8 129.18,384.0 129.05,384.8 128.93,382.6 128.80,384.4 128.68,377.4 128.55,382.1 128.43,386.0 128.30,388.3 128.18,380.9 128.05,381.8 127.92,379.5 127.80,374.6 127.67,376.8 127.55,374.8 127.42,381.1 127.30,382.3 127.17,381.4 127.05,383.7 126.92,389.6 126.80,388.9 126.67,388.6 126.55,383.4 126.42,380.8 126.30,379.9 126.17,383.4 126.05,380.7 125.92,381.7 125.80,385.1 125.67,387.2 125.55,388.4 125.42,391.5 125.30,387.3 125.17,386.1 125.05,386.3 124.92,383.4 124.80,384.4 124.67,383.3 124.55,383.6 124.42,384.1 124.30,381.9 124.17,385.1 124.05,386.7 123.92,383.7 123.80,386.4 123.67,387.6 123.55,389.7 123.42,387.3 123.30,388.5 123.17,387.6 123.05,386.1 122.92,384.5 122.80,383.4 122.67,379.1 122.55,378.7 122.42,383.1 122.30,384.6 122.17,379.3 122.05,379.8 121.92,374.5 121.80,377.0 121.67,373.2 121.55,378.9 121.42,377.4 121.30,378.0 121.17,385.1 121.05,381.3 120.92,384.0 120.80,382.2 120.67,383.7 120.55,379.5 120.42,383.2 120.30,380.4 120.17,382.7 120.05,381.4 119.92,380.9 119.80,387.0 119.67,384.7 119.55,385.2 119.42,386.7 119.30,383.8 119.17,384.4 119.05,375.9 118.92,380.0 118.80,382.7 118.67,384.7 118.55,386.3 118.42,383.5 118.30,380.9 118.17,379.1 118.05,375.8 117.92,375.4 117.80,374.0 117.67,371.3 117.55,370.0 117.42,367.7 117.30,369.4 117.17,360.1 117.05,328.6 116.92,332.0 116.80,332.6 116.67,327.4 116.55,326.8 116.42,325.6 116.30,323.3 116.17,323.3 116.05,320.3 115.92,320.6 115.80,323.9 115.67,323.9 115.55,323.8 115.42,322.8 115.30,325.7 115.17,329.4 115.05,332.3 114.92,330.0 114.80,329.3 114.67,325.6 114.55,323.4 114.42,326.4 114.30,323.1 114.17,321.6 114.05,322.6 113.92,323.2 113.80,320.3 113.67,321.4 113.55,321.3 113.42,319.6 113.30,319.3 113.17,319.9 113.05,319.7 112.92,320.5 112.80,319.1 112.67,324.1 112.55,324.6 112.42,324.7 112.30,323.2 112.17,326.5 112.05,326.3 111.92,321.5 111.80,327.0 111.67,328.8 111.55,323.6 111.42,324.7 111.30,322.5 111.17,320.1 111.05,321.6 110.92,323.8 110.80,323.4 110.67,325.6 110.55,319.7 110.42,319.8 110.30,320.1 110.17,325.5 110.05,326.0 109.92,326.5 109.80,323.6 109.67,322.1 109.55,324.1 109.42,358.8 109.30,376.5 109.17,377.5 109.05,374.0 108.92,373.9 108.80,379.5 108.67,371.2 108.55,365.5 108.42,366.6 108.30,370.3 108.17,373.6 108.05,376.5 107.92,375.5 107.80,373.9 107.67,372.1 107.55,371.9 107.42,376.9 107.30,377.8 107.17,377.8 107.05,381.6 106.92,382.8 106.80,378.3 106.67,373.6 106.55,372.5 106.42,371.7 106.30,371.2 106.17,374.1 106.05,378.1 105.92,377.1 105.80,377.6 105.67,376.6 105.55,375.2 105.42,372.1 105.30,374.6 105.17,374.8 105.05,371.5 104.92,373.8 104.80,375.1 104.67,374.2 104.55,374.7 104.42,373.5 104.30,369.3 104.17,371.4 104.05,370.1 103.92,371.2 103.80,373.0 103.67,369.1 103.55,370.5 103.42,366.1 103.30,367.2 103.17,366.5 103.05,365.8 102.92,365.2 102.80,367.3 102.67,372.8 102.55,373.5 102.42,373.4 102.30,369.9 102.17,370.7 102.05,367.4 101.92,363.8 101.80,365.8 101.67,368.2 101.55,371.5 101.42,366.9 101.30,369.7 101.17,371.2 101.05,368.3 100.92,371.1 100.80,368.9 100.67,365.5 100.55,365.9 100.42,365.5 100.30,365.9 100.17,365.8 100.05,361.9 99.92,362.7 99.80,360.6 99.67,358.8 99.55,363.6 99.42,363.8 99.30,364.0 99.17,365.4 99.05,363.8 98.92,360.7 98.80,364.1 98.67,362.4 98.55,360.7 98.42,360.3 98.30,361.4 98.17,363.3 98.05,367.0 97.92,367.2 97.80,365.8 97.67,366.2 97.55,369.0 97.42,373.1 97.30,375.2 97.17,373.6 97.05,375.3 96.92,375.6 96.80,375.5 96.67,378.5 96.55,369.4 96.42,368.5 96.30,373.6 96.17,369.5 96.05,371.3 95.92,369.2 95.80,368.5 95.67,367.4 95.55,364.2 95.42,369.1 95.30,365.3 95.17,362.2 95.05,362.9 94.92,364.6 94.80,367.5 94.67,368.6 94.55,363.6 94.42,367.3 94.30,366.2 94.17,368.3 94.05,363.3 93.92,362.8 93.80,363.6 93.67,360.6 93.55,361.4 93.42,362.1 93.30,360.9 93.17,364.2 93.05,361.1 92.92,357.4 92.80,363.8 92.67,362.1 92.55,362.7 92.42,360.7 92.30,364.7 92.17,365.2 92.05,343.4 91.92,317.4 91.80,322.0 91.67,318.3 91.55,315.8 91.42,318.1 91.30,319.2 91.17,318.9 91.05,320.1 90.92,321.5 90.80,323.8 90.67,319.4 90.55,322.2 90.42,321.1 90.30,316.2 90.17,312.1 90.05,315.1 89.92,312.9 89.80,319.7 89.67,317.0 89.55,320.5 89.42,318.8 89.30,320.8 89.17,317.4 89.05,315.7 88.92,317.3 88.80,313.7 88.67,314.3 88.55,310.4 88.42,313.3 88.30,315.8 88.17,318.3 88.05,316.7 87.92,317.7 87.80,320.5 87.67,317.9 87.55,318.4 87.42,319.0 87.30,316.3 87.17,368.5 87.05,372.8 86.92,372.1 86.80,373.2 86.67,367.9 86.55,365.8 86.42,367.9 86.30,372.3 86.17,375.4 86.05,376.1 85.92,379.9 85.80,380.4 85.67,380.7 85.55,379.9 85.42,378.8 85.30,375.8 85.17,381.6 85.05,383.0 84.92,381.2 84.80,387.2 84.67,386.7 84.55,382.4 84.42,382.7 84.30,377.8 84.17,377.3 84.05,376.9 83.92,381.4 83.80,380.3 83.67,373.8 83.55,372.6 83.42,370.4 83.30,366.3 83.17,372.5 83.05,361.6 82.92,364.2 82.80,366.5 82.67,373.1 82.55,373.5 82.42,378.6 82.30,375.3 82.17,373.1 82.05,352.8 81.92,336.2 81.80,313.1 81.67,291.7 81.55,275.7 81.42,281.3 81.30,283.4 81.17,286.1 81.05,283.7 80.92,284.1 80.80,290.6 80.67,291.8 80.55,299.8 80.42,305.5 80.30,312.0 80.17,309.5 80.05,307.8 79.92,304.6 79.80,305.2 79.67,303.6 79.55,304.3 79.42,302.5 79.30,299.9 79.17,296.3 79.05,294.5 78.92,295.1 78.80,294.9 78.67,299.5 78.55,298.8 78.42,302.2 78.30,297.9 78.17,296.3 78.05,299.1 77.92,295.8 77.80,291.2 77.67,293.8 77.55,291.7 77.42,293.1 77.30,288.3 77.17,289.6 77.05,288.0 76.92,293.8 76.80,293.2 76.67,293.2 76.55,289.2 76.42,292.8 76.30,294.5 76.17,293.0 76.05,296.7 75.92,290.7 75.80,292.0 75.67,290.6 75.55,293.4 75.42,288.5 75.30,288.0 75.17,289.6 75.05,290.0 74.92,292.0 74.80,282.9 74.67,286.3 74.55,292.6 74.42,296.4 74.30,296.0 74.17,296.3 74.05,291.4 73.92,291.7 73.80,294.3 73.67,295.1 73.55,299.0 73.42,293.2 73.30,295.0 73.17,292.9 73.05,298.8 72.92,301.1 72.80,297.0 72.67,294.0 72.55,289.4 72.42,289.4 72.30,292.2 72.17,292.4 72.05,290.4 71.92,287.2 71.80,288.8 71.67,283.6 71.55,281.9 71.42,284.4 71.30,280.2 71.17,277.2 71.05,274.5 70.92,273.2 70.80,276.6 70.67,277.3 70.55,278.4 70.42,276.2 70.30,275.6 70.17,282.0 70.05,288.2 69.92,286.6 69.80,293.3 69.67,287.5 69.55,284.9 69.42,278.3 69.30,278.5 69.17,281.1 69.05,277.2 68.92,276.9 68.80,275.6 68.67,278.6 68.55,282.3 68.42,277.5 68.30,282.8 68.17,275.5 68.05,275.3 67.92,273.6 67.80,275.3 67.67,283.7 67.55,282.7 67.42,286.0 67.30,280.5 67.17,279.6 67.05,277.5 66.92,267.3 66.80,269.0 66.67,265.6 66.55,262.0 66.42,262.7 66.30,266.7 66.17,268.9 66.05,271.7 65.92,274.5 65.80,277.3 65.67,272.9 65.55,276.6 65.42,279.1 65.30,285.9 65.17,297.1 65.05,301.6 64.92,294.5 64.80,290.8 64.67,290.9 64.55,288.7 64.42,290.8 64.30,297.0 64.17,296.0 64.05,289.6 63.92,289.7 63.80,292.7 63.67,293.4 63.55,287.1 63.42,291.2 63.30,290.5 63.17,292.1 63.05,296.8 62.92,295.6 62.80,301.2 62.67,297.5 62.55,294.3 62.42,292.2 62.30,296.6 62.17,297.5 62.05,294.7 61.92,288.1 61.80,286.5 61.67,288.6 61.55,284.8 61.42,283.0 61.30,283.2 61.17,285.7 61.05,283.4 60.92,282.4 60.80,283.0 60.67,285.8 60.55,280.5 60.42,280.7 60.30,281.8 60.17,282.4 60.05,278.2 59.92,273.5 59.80,272.6 59.67,267.4 59.55,267.5 59.42,269.8 59.30,270.1 59.17,270.1 59.05,268.8 58.92,268.1 58.80,267.7 58.67,271.1 58.55,277.2 58.42,283.5 58.30,285.9 58.17,294.3 58.05,301.2 57.92,300.4 57.80,300.5 57.67,303.3 57.55,298.6 57.42,301.5 57.30,306.3 57.17,307.4 57.05,306.1 56.92,305.5 56.80,300.6 56.67,299.2 56.55,300.5 56.42,298.5 56.30,295.4 56.17,297.2 56.05,319.3 55.92,298.8 55.80,304.8 55.67,304.7 55.55,301.7 55.42,297.2 55.30,303.5 55.17,296.3 55.05,301.5 54.92,302.6 54.80,304.9 54.67,300.9 54.55,305.3 54.42,303.6 54.30,303.7 54.17,302.7 54.05,304.6 53.92,301.6 53.80,294.0 53.67,292.2 53.55,288.4 53.42,284.1 53.30,280.4 53.17,276.1 53.05,277.7 52.92,275.2 52.80,270.0 52.67,270.3 52.55,270.9 52.42,270.2 52.30,269.6 52.17,268.1 52.05,270.9 51.92,275.0 51.80,276.6 51.67,277.1 51.55,278.3 51.42,282.9 51.30,281.3 51.17,283.7 51.05,288.2 50.92,293.2 50.80,295.8 50.67,299.1 50.55,300.1 50.42,301.4 50.30,299.2 50.17,301.6 50.05,300.4 49.92,298.9 49.80,298.0 49.67,301.9 49.55,300.0 49.42,296.3 49.30,300.2 49.17,298.5 49.05,298.1 48.92,299.3 48.80,298.2 48.67,299.5 48.55,296.6 48.42,290.6 48.30,295.9 48.17,298.1 48.05,293.7 47.92,296.4 47.80,295.5 47.67,293.7 47.55,292.4 47.42,294.0 47.30,294.9 47.17,290.8 47.05,290.6 46.92,293.2 46.80,295.4 46.67,292.2 46.55,293.2 46.42,294.9 46.30,290.9 46.17,293.8 46.05,295.1 45.92,295.4 45.80,289.4 45.67,291.7 45.55,287.3 45.42,285.8 45.30,288.3 45.17,288.9 45.05,290.3 44.92,291.6 44.80,290.9 44.67,287.3 44.55,286.1 44.42,289.8 44.30,295.5 44.17,298.5 44.05,294.8 43.92,296.2 43.80,296.4 43.67,296.0 43.55,293.1 43.42,292.5 43.30,294.3 43.17,289.1 43.05,287.6 42.92,287.2 42.80,290.3 42.67,290.4 42.55,292.0 42.42,288.9 42.30,290.2 42.17,290.5 42.05,289.1 41.92,287.8 41.80,285.2 41.67,283.9 41.55,285.4 41.42,286.8 41.30,288.1 41.17,286.4 41.05,298.1 40.92,295.6 40.80,291.7 40.67,294.1 40.55,291.8 40.42,289.6 40.30,289.8 40.17,286.8 40.05,284.9 39.92,283.7 39.80,285.2 39.67,282.0 39.55,281.8 39.42,288.5 39.30,288.9 39.17,286.2 39.05,282.3 38.92,283.0 38.80,282.8 38.67,282.0 38.55,280.1 38.42,283.3 38.30,284.7 38.17,282.8 38.05,284.6 37.92,289.8 37.80,286.9 37.67,281.6 37.55,282.1 37.42,283.8 37.30,284.0 37.17,285.3 37.05,283.5 36.92,282.2 36.80,280.0 36.67,281.6 36.55,279.5 36.42,278.0 36.30,276.1 36.17,278.9 36.05,272.6 35.92,276.2 35.80,281.3 35.67,281.5 35.55,272.7 35.42,275.2 35.30,276.0 35.17,278.2 35.05,272.6 34.92,276.2 34.80,272.6 34.67,269.6 34.55,268.5 34.42,266.7 34.30,263.5 34.17,262.1 34.05,258.7 33.92,264.1 33.80,261.3Z" fill="#d9d9d9" stroke="none"/>
<path d="M33.80,246.4 33.92,242.2 34.05,241.9 34.17,238.3 34.30,236.4 34.42,238.1 34.55,232.9 34.67,243.8 34.80,246.5 34.92,241.8 35.05,245.6 35.17,244.9 35.30,252.1 35.42,250.5 35.55,254.5 35.67,246.2 35.80,262.6 35.92,249.4 36.05,248.5 36.17,254.7 36.30,254.5 36.42,265.2 36.55,258.6 36.67,259.5 36.80,266.0 36.92,269.5 37.05,265.4 37.17,265.9 37.30,265.9 37.42,266.3 37.55,274.0 37.67,271.8 37.80,271.5 37.92,272.1 38.05,266.4 38.17,268.8 38.30,263.8 38.42,261.1 38.55,267.7 38.67,253.2 38.80,260.5 38.92,260.9 39.05,261.6 39.17,260.0 39.30,261.7 39.42,265.0 39.55,260.3 39.67,268.4 39.80,264.8 39.92,268.8 40.05,260.7 40.17,265.6 40.30,266.4 40.42,273.5 40.55,269.5 40.67,272.5 40.80,273.6 40.92,274.0 41.05,275.1 41.17,282.1 41.30,275.3 41.42,269.8 41.55,279.9 41.67,267.1 41.80,281.8 41.92,280.6 42.05,275.9 42.17,273.4 42.30,275.4 42.42,275.7 42.55,277.6 42.67,281.5 42.80,285.3 42.92,278.5 43.05,278.8 43.17,277.6 43.30,292.8 43.42,284.7 43.55,288.3 43.67,285.6 43.80,282.1 43.92,281.8 44.05,271.9 44.17,281.6 44.30,278.5 44.42,284.9 44.55,280.6 44.67,272.1 44.80,273.8 44.92,277.4 45.05,266.4 45.17,273.1 45.30,271.7 45.42,270.2 45.55,266.8 45.67,269.2 45.80,263.8 45.92,261.0 46.05,258.0 46.17,254.3 46.30,258.7 46.42,258.4 46.55,263.3 46.67,256.0 46.80,268.6 46.92,270.3 47.05,271.2 47.17,274.1 47.30,275.4 47.42,280.2 47.55,283.2 47.67,281.3 47.80,282.9 47.92,279.3 48.05,280.3 48.17,276.2 48.30,279.7 48.42,288.9 48.55,288.9 48.67,283.2 48.80,282.4 48.92,284.0 49.05,277.3 49.17,283.0 49.30,272.8 49.42,275.7 49.55,272.7 49.67,268.3 49.80,265.5 49.92,264.4 50.05,252.8 50.17,263.1 50.30,266.0 50.42,260.8 50.55,263.0 50.67,252.4 50.80,257.7 50.92,257.4 51.05,254.1 51.17,258.1 51.30,255.2 51.42,252.5 51.55,257.9 51.67,259.2 51.80,253.5 51.92,259.4 52.05,258.4 52.17,261.4 52.30,266.3 52.42,266.1 52.55,261.6 52.67,259.4 52.80,259.6 52.92,258.9 53.05,256.5 53.17,255.1 53.30,257.9 53.42,256.0 53.55,256.9 53.67,254.5 53.80,257.2 53.92,262.4 54.05,260.6 54.17,258.9 54.30,260.1 54.42,260.9 54.55,257.9 54.67,272.4 54.80,265.2 54.92,264.4 55.05,272.4 55.17,274.4 55.30,273.9 55.42,271.3 55.55,275.0 55.67,290.1 55.80,285.8 55.92,288.6 56.05,317.8 56.17,283.7 56.30,277.2 56.42,275.4 56.55,268.9 56.67,262.4 56.80,255.7 56.92,261.5 57.05,251.5 57.17,255.9 57.30,248.9 57.42,248.1 57.55,248.7 57.67,256.9 57.80,260.6 57.92,254.3 58.05,255.5 58.17,257.8 58.30,262.5 58.42,255.9 58.55,275.7 58.67,259.3 58.80,245.1 58.92,261.7 59.05,257.5 59.17,256.2 59.30,262.6 59.42,262.1 59.55,262.1 59.67,257.1 59.80,271.1 59.92,269.9 60.05,252.7 60.17,259.1 60.30,259.2 60.42,251.8 60.55,250.1 60.67,246.0 60.80,247.0 60.92,239.2 61.05,249.8 61.17,244.8 61.30,259.7 61.42,252.6 61.55,249.8 61.67,259.8 61.80,269.1 61.92,269.8 62.05,271.0 62.17,268.3 62.30,280.5 62.42,268.3 62.55,277.0 62.67,267.9 62.80,294.9 62.92,271.5 63.05,270.6 63.17,278.9 63.30,264.4 63.42,268.7 63.55,263.2 63.67,272.1 63.80,257.4 63.92,263.4 64.05,266.8 64.17,272.0 64.30,259.5 64.42,259.1 64.55,260.6 64.67,264.3 64.80,265.9 64.92,263.2 65.05,257.6 65.17,256.8 65.30,253.2 65.42,259.4 65.55,262.0 65.67,256.7 65.80,251.5 65.92,258.3 66.05,262.7 66.17,260.5 66.30,257.3 66.42,259.5 66.55,248.9 66.67,246.8 66.80,259.8 66.92,251.5 67.05,247.2 67.17,244.2 67.30,234.7 67.42,247.5 67.55,236.3 67.67,237.1 67.80,245.2 67.92,253.3 68.05,246.8 68.17,249.2 68.30,246.7 68.42,248.8 68.55,242.7 68.67,258.3 68.80,245.4 68.92,270.3 69.05,244.4 69.17,256.6 69.30,251.7 69.42,258.5 69.55,247.3 69.67,254.2 69.80,250.1 69.92,252.9 70.05,259.8 70.17,255.5 70.30,261.9 70.42,268.6 70.55,268.4 70.67,266.5 70.80,262.8 70.92,255.8 71.05,262.6 71.17,253.7 71.30,260.9 71.42,253.3 71.55,252.8 71.67,249.3 71.80,251.2 71.92,237.6 72.05,245.2 72.17,239.9 72.30,245.0 72.42,249.3 72.55,253.6 72.67,251.8 72.80,260.2 72.92,257.2 73.05,267.8 73.17,267.7 73.30,266.1 73.42,274.1 73.55,270.7 73.67,278.1 73.80,267.6 73.92,278.7 74.05,280.7 74.17,274.3 74.30,281.3 74.42,277.3 74.55,286.5 74.67,283.8 74.80,277.1 74.92,282.2 75.05,261.9 75.17,279.8 75.30,283.2 75.42,285.9 75.55,282.7 75.67,282.8 75.80,283.5 75.92,281.2 76.05,285.3 76.17,287.9 76.30,286.0 76.42,287.4 76.55,279.0 76.67,277.8 76.80,282.2 76.92,288.1 77.05,284.9 77.17,288.1 77.30,284.0 77.42,290.2 77.55,278.4 77.67,287.5 77.80,278.9 77.92,290.4 78.05,289.6 78.17,293.9 78.30,285.2 78.42,287.8 78.55,284.5 78.67,284.3 78.80,287.2 78.92,281.0 79.05,274.5 79.17,271.4 79.30,269.6 79.42,270.8 79.55,267.5 79.67,264.7 79.80,261.6 79.92,250.8 80.05,260.9 80.17,253.8 80.30,257.2 80.42,248.2 80.55,244.3 80.67,243.4 80.80,243.1 80.92,243.1 81.05,238.6 81.17,245.7 81.30,241.4 81.42,234.9 81.55,239.4 81.67,232.6 81.80,240.0 81.92,231.2 82.05,240.2 82.17,237.8 82.30,239.4 82.42,226.4 82.55,241.8 82.67,246.9 82.80,244.3 82.92,250.6 83.05,258.3 83.17,247.9 83.30,253.4 83.42,256.7 83.55,264.3 83.67,288.8 83.80,303.8 83.92,335.9" fill="none" stroke="#4682bd" stroke-width="1.5" stroke-linejoin="round"/>
<path d="M83.92,335.9 84.05,342.4 84.17,363.0 84.30,364.7 84.42,360.1 84.55,367.0 84.67,356.1 84.80,361.2 84.92,362.0 85.05,355.9 85.17,355.3 85.30,352.1 85.42,347.9 85.55,351.7 85.67,349.0 85.80,351.6 85.92,347.0 86.05,344.7 86.17,347.9 86.30,293.3 86.42,291.9 86.55,291.7 86.67,291.0 86.80,286.8 86.92,292.3 87.05,290.1 87.17,296.1 87.30,289.7 87.42,294.1 87.55,289.5 87.67,295.6 87.80,292.0 87.92,295.8 88.05,299.1 88.17,299.0 88.30,298.2 88.42,300.2 88.55,302.0 88.67,303.6 88.80,302.8 88.92,302.5 89.05,300.9 89.17,302.8 89.30,295.4 89.42,296.7 89.55,294.1 89.67,291.1 89.80,290.7 89.92,293.6 90.05,293.7 90.17,296.9 90.30,293.8 90.42,293.8 90.55,295.2 90.67,293.6 90.80,290.5 90.92,293.1 91.05,299.6 91.17,295.4 91.30,298.3 91.42,298.6 91.55,301.0 91.67,297.7 91.80,297.4 91.92,299.9 92.05,298.5 92.17,300.3 92.30,308.1 92.42,300.3 92.55,300.8 92.67,300.5 92.80,301.5 92.92,298.8 93.05,325.7 93.17,351.0 93.30,356.4 93.42,353.5 93.55,350.3 93.67,348.9 93.80,349.0 93.92,351.7 94.05,353.2 94.17,351.3 94.30,352.5 94.42,355.1 94.55,354.5 94.67,349.4 94.80,351.1 94.92,347.7 95.05,353.5 95.17,345.5 95.30,353.8 95.42,353.3 95.55,348.2 95.67,349.3 95.80,348.1 95.92,350.2 96.05,348.9 96.17,346.7 96.30,347.8 96.42,345.2 96.55,348.6 96.67,347.4 96.80,355.3 96.92,351.3 97.05,350.3 97.17,352.7 97.30,357.5 97.42,353.3 97.55,350.8 97.67,349.1 97.80,348.8 97.92,347.9 98.05,349.2 98.17,349.3 98.30,349.3 98.42,351.6 98.55,351.4 98.67,352.1 98.80,347.4 98.92,350.3 99.05,352.0 99.17,353.1 99.30,352.4 99.42,351.6 99.55,352.8 99.67,350.7 99.80,350.0 99.92,350.8 100.05,353.6 100.17,347.4 100.30,347.9 100.42,351.5 100.55,349.3 100.67,353.3 100.80,350.8 100.92,351.9 101.05,349.2 101.17,353.3 101.30,351.5 101.42,353.4 101.55,350.3 101.67,348.7 101.80,348.6 101.92,348.9 102.05,337.5 102.17,347.0 102.30,346.4 102.42,347.3 102.55,349.8 102.67,348.1 102.80,352.8 102.92,349.6 103.05,352.6 103.17,352.0 103.30,350.3 103.42,351.3 103.55,348.2 103.67,351.4 103.80,350.8 103.92,348.4 104.05,349.0 104.17,351.3 104.30,351.5 104.42,353.9 104.55,352.6 104.67,355.6 104.80,355.3 104.92,358.1 105.05,363.0 105.17,355.3 105.30,358.2 105.42,360.8 105.55,360.9 105.67,363.5 105.80,360.8 105.92,362.8 106.05,361.0 106.17,359.9 106.30,357.8 106.42,361.3 106.55,360.8 106.67,362.5 106.80,360.7 106.92,361.8 107.05,359.5 107.17,357.6 107.30,355.2 107.42,359.5 107.55,359.0 107.67,356.0 107.80,353.1 107.92,353.2 108.05,354.1 108.17,351.8 108.30,354.2 108.42,338.7 108.55,291.6 108.67,291.4 108.80,294.0 108.92,277.2 109.05,296.8 109.17,297.8 109.30,298.4 109.42,301.0 109.55,301.9 109.67,298.1 109.80,301.5 109.92,298.3 110.05,298.8 110.17,300.1 110.30,298.7 110.42,301.5 110.55,300.8 110.67,302.1 110.80,299.3 110.92,302.5 111.05,301.0 111.17,302.9 111.30,306.1 111.42,289.1 111.55,306.9 111.67,305.7 111.80,308.9 111.92,310.7 112.05,312.0 112.17,310.2 112.30,308.1 112.42,305.2 112.55,306.6 112.67,308.4 112.80,310.1 112.92,309.5 113.05,307.8 113.17,304.3 113.30,304.9 113.42,307.2 113.55,305.5 113.67,305.9 113.80,303.5 113.92,302.7 114.05,310.3 114.17,309.5 114.30,308.7 114.42,309.6 114.55,311.5 114.67,314.0 114.80,303.3 114.92,309.0 115.05,310.2 115.17,304.7 115.30,305.6 115.42,307.9 115.55,311.5 115.67,309.9 115.80,311.7 115.92,308.4 116.05,310.9 116.17,311.8 116.30,309.1 116.42,307.6 116.55,316.3 116.67,303.5 116.80,310.1 116.92,304.8 117.05,309.3 117.17,313.9 117.30,313.0 117.42,309.1 117.55,312.0 117.67,312.4 117.80,312.1 117.92,310.8 118.05,309.9 118.17,339.7 118.30,364.8 118.42,355.7 118.55,355.1 118.67,360.2 118.80,358.7 118.92,359.4 119.05,358.8 119.17,363.3 119.30,368.2 119.42,363.6 119.55,364.5 119.67,367.6 119.80,367.6 119.92,367.0 120.05,363.6 120.17,369.6 120.30,368.6 120.42,367.3 120.55,368.8 120.67,366.5 120.80,368.1 120.92,367.1 121.05,367.2 121.17,368.0 121.30,367.4 121.42,368.4 121.55,372.1 121.67,367.0 121.80,364.8 121.92,368.9 122.05,362.7 122.17,366.6 122.30,360.9 122.42,364.1 122.55,365.9 122.67,366.6 122.80,365.6 122.92,364.2 123.05,364.7 123.17,365.2 123.30,363.7 123.42,363.3 123.55,363.0 123.67,370.7 123.80,365.5 123.92,362.6 124.05,362.8 124.17,369.1 124.30,368.6 124.42,365.4 124.55,367.2 124.67,366.3 124.80,367.8 124.92,360.6 125.05,364.4 125.17,366.0 125.30,361.6 125.42,363.7 125.55,362.8 125.67,353.8 125.80,358.6 125.92,355.4 126.05,352.4 126.17,351.4 126.30,349.8 126.42,346.2 126.55,349.4 126.67,350.1 126.80,351.1 126.92,348.5 127.05,373.6 127.17,353.4 127.30,347.5 127.42,352.5 127.55,348.0 127.67,349.3 127.80,355.0 127.92,356.7 128.05,350.3 128.18,344.3 128.30,353.6 128.43,355.2 128.55,356.5 128.68,357.8 128.80,357.8 128.93,367.0 129.05,364.7 129.18,364.6 129.30,365.2 129.43,361.3 129.55,365.3 129.68,365.4 129.80,369.0 129.93,366.5 130.05,368.6 130.18,365.7 130.30,367.4 130.43,370.0 130.55,369.6 130.68,370.8 130.80,366.1 130.93,364.2 131.05,365.7 131.18,365.8 131.30,367.1 131.43,364.7 131.55,365.7 131.68,367.2 131.80,306.5 131.93,304.9 132.05,305.3 132.18,302.4 132.30,303.8 132.43,304.3 132.55,309.7 132.68,306.5 132.80,304.0 132.93,308.1 133.05,304.7 133.18,300.0 133.30,304.1 133.43,305.8 133.55,304.4 133.68,299.6 133.80,303.0 133.93,304.7 134.05,307.4 134.18,308.4 134.30,308.8 134.43,306.3 134.55,326.6 134.68,352.1 134.80,355.1 134.93,350.8 135.05,353.1 135.18,358.4 135.30,352.8 135.43,357.4 135.55,353.8 135.68,353.9 135.80,359.3 135.93,359.1 136.05,360.8 136.18,362.0 136.30,356.1 136.43,360.6 136.55,361.4 136.68,361.4 136.80,362.2 136.93,359.7 137.05,359.6 137.18,361.0 137.30,358.2 137.43,361.0 137.55,361.9 137.68,363.1 137.80,367.7 137.93,363.3 138.05,361.5 138.18,363.2 138.30,361.6 138.43,367.9 138.55,366.0 138.68,362.8 138.80,359.0 138.93,362.1 139.05,362.4 139.18,366.5 139.30,363.7 139.43,365.5 139.55,364.5 139.68,362.9 139.80,362.4 139.93,364.8 140.05,360.4 140.18,362.8 140.30,368.1 140.43,363.6 140.55,361.8 140.68,362.5 140.80,368.0 140.93,369.8 141.05,368.9 141.18,368.1 141.30,363.2 141.43,369.4 141.55,369.0 141.68,367.9 141.80,364.0 141.93,370.9 142.05,364.0 142.18,366.1 142.30,377.3 142.43,367.4 142.55,364.1 142.68,362.1 142.80,371.1 142.93,365.0 143.05,360.2 143.18,359.0 143.30,361.5 143.43,360.8 143.55,364.8 143.68,364.6 143.80,363.9 143.93,364.4 144.05,361.0 144.18,363.0 144.30,361.8 144.43,357.9 144.55,359.0 144.68,359.1 144.80,353.3 144.93,355.4 145.05,352.0 145.18,356.0 145.30,345.1 145.43,357.7 145.55,357.2 145.68,357.3 145.80,357.0 145.93,344.3 146.05,315.1 146.18,316.2 146.30,312.5 146.43,308.3 146.55,310.2 146.68,311.2 146.80,316.1 146.93,315.8 147.05,317.8 147.18,319.7 147.30,319.8 147.43,322.6 147.55,318.8 147.68,317.6 147.80,324.5 147.93,320.4 148.05,318.7 148.18,321.8 148.30,318.4 148.43,318.9 148.55,315.5 148.68,314.9 148.80,318.2 148.93,316.2 149.05,315.3 149.18,315.9 149.30,318.4 149.43,318.8 149.55,315.6 149.68,314.3 149.80,312.0 149.93,315.7 150.05,314.5 150.18,314.7 150.30,310.2 150.43,318.2 150.55,316.8 150.68,317.6 150.80,315.2 150.93,312.7 151.05,311.8 151.18,314.6 151.30,322.1 151.43,322.3 151.55,313.5 151.68,311.1 151.80,316.2 151.93,316.0 152.05,318.7 152.18,316.0 152.30,316.2 152.43,312.9 152.55,311.1 152.68,315.2 152.80,317.5 152.93,370.0 153.05,378.2 153.18,366.8 153.30,369.4 153.43,368.9 153.55,367.5 153.68,364.0 153.80,368.4 153.93,366.2 154.05,365.2 154.18,364.6 154.30,364.8 154.43,365.8 154.55,361.0 154.68,360.2 154.80,364.6 154.93,359.4 155.05,361.8 155.18,361.8 155.30,363.1 155.43,348.8 155.55,359.3 155.68,367.3 155.80,364.2 155.93,364.7 156.05,361.9 156.18,361.1 156.30,364.4 156.43,363.5 156.55,358.0 156.68,358.6 156.80,355.8 156.93,363.0 157.05,359.1 157.18,355.9 157.30,355.4 157.43,362.1 157.55,359.1 157.68,358.7 157.80,350.8 157.93,363.2 158.05,355.9 158.18,361.1 158.30,361.4 158.43,359.8 158.55,357.9 158.68,353.6 158.80,355.2 158.93,350.7 159.05,351.3 159.18,357.3 159.30,345.9 159.43,356.8 159.55,363.5 159.68,361.3 159.80,357.9 159.93,360.7 160.05,363.9 160.18,362.0 160.30,363.9 160.43,359.0 160.55,365.2 160.68,359.8 160.80,360.1 160.93,365.5 161.05,360.7 161.18,360.0 161.30,362.6 161.43,361.2 161.55,362.5 161.68,365.2 161.80,360.8 161.93,362.3 162.05,368.1 162.18,360.0 162.30,361.1 162.43,364.0 162.55,362.9 162.68,361.2 162.80,363.6 162.93,361.8 163.05,369.0 163.18,368.6 163.30,361.4 163.43,362.0 163.55,360.4 163.68,360.6 163.80,369.0 163.93,359.7 164.05,362.7 164.18,360.2 164.30,363.5 164.43,363.1 164.55,362.5 164.68,365.8 164.80,363.3 164.93,363.8 165.05,364.3 165.18,363.6 165.30,365.5 165.43,363.0 165.55,360.3 165.68,359.4 165.80,362.8 165.93,360.8 166.05,361.5 166.18,357.4 166.30,359.5 166.43,364.3 166.55,358.2 166.68,361.3 166.80,359.6 166.93,362.4 167.05,372.4 167.18,360.1 167.30,362.8 167.43,361.3 167.55,359.8 167.68,362.3 167.80,364.0 167.93,361.4 168.05,362.8 168.18,362.0 168.30,363.0 168.43,362.0 168.55,357.8 168.68,358.7 168.80,366.8 168.93,360.6 169.05,363.8 169.18,360.2 169.30,360.2 169.43,354.3 169.55,361.7 169.68,363.4 169.80,362.4 169.93,361.6 170.05,348.5 170.18,360.2 170.30,369.5 170.43,362.6 170.55,362.3 170.68,361.2 170.80,362.7 170.93,355.9 171.05,361.2 171.18,356.5 171.30,358.7 171.43,362.2 171.55,361.7 171.68,360.6 171.80,363.4 171.93,362.7 172.05,361.4 172.18,359.7 172.30,357.2 172.43,360.8 172.55,357.6 172.68,358.9 172.80,361.0 172.93,361.6 173.05,359.8 173.18,365.7 173.30,355.8 173.43,354.2 173.55,359.1 173.68,362.2 173.80,361.3 173.93,361.8 174.05,359.4 174.18,360.6 174.30,360.9 174.43,360.8 174.55,359.0 174.68,357.0 174.80,362.0 174.93,360.6 175.05,362.9 175.18,362.6 175.30,364.1 175.43,359.9 175.55,362.6 175.68,355.7 175.80,359.8 175.93,361.5 176.05,362.4 176.18,360.2 176.30,361.0 176.43,359.3 176.55,365.3 176.68,360.0 176.80,362.3 176.93,364.8 177.05,368.1 177.18,367.2 177.30,365.0 177.43,368.3 177.55,369.1 177.68,364.3 177.80,370.0 177.93,363.6 178.05,367.6 178.18,365.0 178.30,364.0 178.43,366.2 178.55,368.4 178.68,370.3 178.80,369.4 178.93,367.7 179.05,364.3 179.18,363.5 179.30,364.2 179.43,362.4 179.55,365.9 179.68,364.8 179.80,369.4 179.93,365.0 180.05,363.4 180.18,363.1 180.30,362.3 180.43,362.4 180.55,365.9 180.68,366.6 180.80,365.2 180.93,360.3 181.05,356.8 181.18,355.9 181.30,358.2 181.43,357.5 181.55,357.5 181.68,358.9 181.80,356.9 181.93,344.8 182.05,357.3 182.18,360.0 182.30,358.8 182.43,360.9 182.55,356.4 182.68,356.0 182.80,357.0 182.93,356.6 183.05,354.0 183.18,359.0 183.30,355.5 183.43,359.6 183.55,363.7 183.68,355.9 183.80,357.0 183.93,356.6 184.05,351.8 184.18,354.6 184.30,358.8 184.43,353.3 184.55,356.5 184.68,356.7 184.80,354.0 184.93,358.5 185.05,368.6 185.18,360.2 185.30,360.2 185.43,357.7 185.55,359.9 185.68,360.6 185.80,357.0 185.93,337.5 186.05,277.8 186.18,272.5 186.30,279.7 186.43,272.9 186.55,274.3 186.68,276.3 186.80,275.0 186.93,277.1 187.05,279.8 187.18,276.9 187.30,281.1 187.43,282.4 187.55,283.2 187.68,278.0 187.80,278.2 187.93,281.6 188.05,285.7 188.18,280.8 188.30,286.1 188.43,279.2 188.55,281.9 188.68,283.7 188.80,280.1 188.93,281.8 189.05,284.2 189.18,282.1 189.30,348.4 189.43,346.9 189.55,349.1 189.68,329.7 189.80,348.9 189.93,369.8 190.05,348.6 190.18,352.4 190.30,352.9 190.43,351.7 190.55,352.1 190.68,352.1 190.80,353.0 190.93,333.8 191.05,353.0 191.18,350.6 191.30,353.1 191.43,357.3 191.55,367.6 191.68,343.9 191.80,354.9 191.93,358.0 192.05,357.5 192.18,354.0 192.30,356.9 192.43,356.0 192.55,348.2 192.68,347.9 192.80,356.9 192.93,358.3 193.05,354.9 193.18,349.0 193.30,353.4 193.43,351.3 193.55,355.8 193.68,346.2 193.80,358.8 193.93,354.1 194.05,354.1 194.18,353.8 194.30,355.1 194.43,359.5 194.55,354.9 194.68,354.9 194.80,362.0 194.93,364.1 195.05,354.8 195.18,357.6 195.30,364.5 195.43,290.7 195.55,290.0 195.68,293.3 195.80,293.0 195.93,295.7 196.05,293.5 196.18,295.9 196.30,293.4 196.43,296.6 196.55,295.0 196.68,294.0 196.80,291.9 196.93,290.7 197.05,293.2 197.18,294.4 197.30,291.5 197.43,291.5 197.55,292.0 197.68,295.0 197.80,293.8 197.93,306.8 198.05,291.9 198.18,292.6 198.30,289.7 198.43,295.3 198.55,294.7 198.68,296.6 198.80,292.6 198.93,294.2 199.05,298.1 199.18,295.9 199.30,294.3 199.43,294.4 199.55,293.0 199.68,295.9 199.80,295.1 199.93,300.1 200.05,299.3 200.18,292.2 200.30,300.4 200.43,297.0 200.55,325.4 200.68,346.7 200.80,347.7 200.93,352.3 201.05,349.8 201.18,351.0 201.30,355.1 201.43,353.4 201.55,356.1 201.68,349.9 201.80,349.9 201.93,352.9 202.05,352.6 202.18,352.7 202.30,355.3 202.43,353.6 202.55,352.3 202.68,352.3 202.80,348.1 202.93,356.0 203.05,353.3 203.18,353.2 203.30,354.1 203.43,354.1 203.55,356.5 203.68,356.2 203.80,354.2 203.93,352.9 204.05,351.6 204.18,353.2 204.30,352.0 204.43,348.3 204.55,348.3 204.68,350.3 204.80,348.7 204.93,354.1 205.05,352.1 205.18,352.2 205.30,352.4 205.43,350.6 205.55,350.7 205.68,352.5 205.80,352.1 205.93,348.2 206.05,334.1 206.18,347.4 206.30,355.1 206.43,351.1 206.55,352.4 206.68,349.7 206.80,292.0 206.93,292.2 207.05,287.7 207.18,290.2 207.30,290.5 207.43,292.2 207.55,291.3 207.68,289.8 207.80,291.8 207.93,296.6 208.05,296.6 208.18,293.5 208.30,294.3 208.43,288.8 208.55,293.1 208.68,294.3 208.80,290.3 208.93,291.7 209.05,290.2 209.18,286.5 209.30,289.2 209.43,288.6 209.55,283.1 209.68,283.6 209.80,282.5 209.93,281.8 210.05,275.1 210.18,281.4 210.30,286.1 210.43,364.2 210.55,361.1 210.68,363.4 210.80,363.1 210.93,360.5 211.05,365.5 211.18,366.9 211.30,365.1 211.43,367.3 211.55,367.5 211.68,361.7 211.80,364.9 211.93,364.0 212.05,362.9 212.18,363.6 212.30,368.8 212.43,362.0 212.55,365.4 212.68,364.7 212.80,368.4 212.93,366.1 213.05,361.8 213.18,363.0 213.30,364.8 213.43,367.8 213.55,368.4 213.68,365.6 213.80,363.0 213.93,364.0 214.05,362.9 214.18,364.6 214.30,365.0 214.43,369.4 214.55,378.3 214.68,367.9 214.80,370.4 214.93,372.0 215.05,370.9 215.18,368.1 215.30,357.8 215.43,367.3 215.55,365.8 215.68,370.8 215.80,363.0 215.93,369.2 216.05,368.0 216.18,367.8 216.30,364.4 216.43,380.8 216.55,368.9 216.68,367.5 216.80,369.7 216.93,369.0 217.05,367.9 217.18,365.1 217.30,367.4 217.43,370.4 217.55,369.5 217.68,370.4 217.80,367.2 217.93,381.4 218.05,370.6 218.18,365.1 218.30,365.9 218.43,368.0 218.55,370.6 218.68,367.1 218.80,369.8 218.93,367.7 219.05,366.0 219.18,370.0 219.30,366.4 219.43,370.6 219.55,367.8 219.68,370.0 219.80,299.5 219.93,299.1 220.05,299.0 220.18,301.1 220.30,304.8 220.43,302.9 220.55,302.2 220.68,301.9 220.80,303.4 220.93,301.9 221.05,304.2 221.18,305.8 221.30,305.9 221.43,306.0 221.55,304.8 221.68,304.5 221.80,303.6 221.93,301.0 222.05,289.4 222.18,308.6 222.30,307.2 222.43,303.7 222.55,309.6 222.68,308.3 222.80,307.8 222.93,304.2 223.05,311.3 223.18,310.0 223.30,310.8 223.43,308.1 223.55,311.7 223.68,307.6 223.80,355.7 223.93,351.7 224.05,353.8 224.18,357.3 224.30,359.7 224.43,364.1 224.55,363.2 224.68,356.9 224.80,361.2 224.93,357.2 225.05,361.6 225.18,360.1 225.30,361.5 225.43,359.4 225.55,359.1 225.68,364.2 225.80,356.6 225.93,361.2 226.05,365.2 226.18,364.0 226.30,365.2 226.43,361.9 226.55,363.7 226.68,364.9 226.80,363.0 226.93,364.6 227.05,362.5 227.18,359.0 227.30,361.7 227.43,362.0 227.55,363.9 227.68,364.9 227.80,361.1 227.93,363.9 228.05,363.3 228.18,362.8 228.30,366.3 228.43,366.3 228.55,364.9 228.68,357.6 228.80,359.4 228.93,359.9 229.05,361.2 229.18,357.7 229.30,358.3 229.43,357.9 229.55,359.7 229.68,367.1 229.80,357.3 229.93,357.1 230.05,362.7 230.18,360.8 230.30,363.1 230.43,357.6 230.55,328.9 230.68,290.9 230.80,288.8 230.93,288.5 231.05,289.3 231.18,289.3 231.30,292.7 231.43,305.5 231.55,296.8 231.68,290.4 231.80,290.7 231.93,290.1 232.05,297.5 232.18,289.0 232.30,291.1 232.43,295.4 232.55,290.6 232.68,293.4 232.80,280.9 232.93,297.3 233.05,295.5 233.18,293.4 233.30,293.6 233.43,291.7 233.55,300.2 233.68,298.5 233.80,297.2 233.93,299.7 234.05,296.6 234.18,294.1 234.30,298.4 234.43,295.5 234.55,297.0 234.68,299.3 234.80,295.5 234.93,299.4 235.05,299.7 235.18,299.0 235.30,297.8 235.43,301.6 235.55,300.0 235.68,302.4 235.80,298.8 235.93,303.3 236.05,302.3 236.18,301.3 236.30,306.2 236.43,303.7 236.55,303.8 236.68,303.6 236.80,304.5 236.93,306.3 237.05,302.7 237.18,305.8 237.30,302.5 237.43,306.6 237.55,304.4 237.68,306.7 237.80,306.3 237.93,305.9 238.05,306.5 238.18,302.6 238.30,306.9 238.43,305.2 238.55,338.5 238.68,366.0 238.80,366.0 238.93,370.9 239.05,371.5 239.18,371.0 239.30,371.3 239.43,370.4 239.55,371.8 239.68,371.7 239.80,371.1 239.93,375.3 240.05,370.3 240.18,378.4 240.30,374.4 240.43,372.5 240.55,371.9 240.68,371.9 240.80,372.9 240.93,374.9 241.05,372.2 241.18,370.1 241.30,372.0 241.43,374.4 241.55,376.7 241.68,370.4 241.80,375.0 241.93,389.9 242.05,374.4 242.18,379.7 242.30,374.4 242.43,374.3 242.55,372.4 242.68,377.9 242.80,376.0 242.93,372.9 243.05,373.2 243.18,369.9 243.30,372.8 243.43,373.0 243.55,374.6 243.68,371.0 243.80,375.1 243.93,375.4 244.05,376.3 244.18,370.6 244.30,369.7 244.43,369.7 244.55,374.5 244.68,372.6 244.80,377.2 244.93,375.2 245.05,373.6 245.18,374.2 245.30,371.3 245.43,376.0 245.55,372.8 245.68,378.1 245.80,376.8 245.93,372.2 246.05,373.9 246.18,374.4 246.30,375.0 246.43,375.6 246.55,375.3 246.68,372.3 246.80,303.4 246.93,307.2 247.05,301.2 247.18,304.7 247.30,297.6 247.43,299.2 247.55,303.6 247.68,304.7 247.80,308.8 247.93,307.1 248.05,305.6 248.18,306.5 248.30,304.9 248.43,308.2 248.55,307.7 248.68,310.0 248.80,372.5 248.93,375.5 249.05,374.7 249.18,372.8 249.30,373.7 249.43,376.1 249.55,374.5 249.68,378.1 249.80,375.4 249.93,376.6 250.05,373.0 250.18,374.4 250.30,377.6 250.43,376.1 250.55,374.1 250.68,378.5 250.80,378.0 250.93,379.8 251.05,378.2 251.18,385.4 251.30,371.2 251.43,372.5 251.55,374.0 251.68,371.9 251.80,372.7 251.93,371.9 252.05,369.6 252.18,373.0 252.30,372.6 252.43,373.2 252.55,370.6 252.68,375.6 252.80,378.3 252.93,371.7 253.05,371.1 253.18,375.0 253.30,371.0 253.43,292.3 253.55,295.5 253.68,293.5 253.80,287.4 253.93,302.5 254.05,288.8 254.18,287.6 254.30,294.3 254.43,292.4 254.55,294.0 254.68,291.8 254.80,295.8 254.93,295.1 255.05,295.3 255.18,299.7 255.30,296.0 255.43,293.7 255.55,295.1 255.68,295.7 255.80,296.2 255.93,288.6 256.05,295.1 256.18,296.7 256.30,290.8 256.43,294.1 256.55,298.2 256.68,296.3 256.80,300.1 256.93,298.6 257.05,295.8 257.18,293.4 257.30,297.4 257.43,299.5 257.55,297.9 257.68,298.4 257.80,301.9 257.93,300.0 258.05,303.7 258.18,297.4 258.30,297.9 258.43,363.6 258.55,363.6 258.68,365.9 258.80,360.1 258.93,364.0 259.05,363.3 259.18,375.6 259.30,363.5 259.43,367.3 259.55,362.8 259.68,365.5 259.80,363.5 259.93,377.9 260.05,364.0 260.18,365.9 260.30,363.3 260.43,378.6 260.55,367.9 260.68,363.7 260.80,359.6 260.93,363.0 261.05,365.8 261.18,362.4 261.30,361.8 261.43,363.5 261.55,363.3 261.68,366.3 261.80,366.4 261.93,364.5 262.05,362.5 262.18,365.3 262.30,363.6 262.43,343.2 262.55,288.5 262.68,286.5 262.80,283.4 262.93,283.5 263.05,284.6 263.18,284.9 263.30,294.4 263.43,290.6 263.55,285.1 263.68,285.6 263.80,284.1 263.93,284.0 264.05,283.0 264.18,287.9 264.30,290.4 264.43,286.4 264.55,319.9 264.68,353.9 264.80,352.9 264.93,352.7 265.05,346.2 265.18,352.7 265.30,351.1 265.43,355.8 265.55,335.4 265.68,354.2 265.80,356.7 265.93,353.3 266.05,358.7 266.18,354.8 266.30,355.5 266.43,376.4 266.55,357.4 266.68,358.3 266.80,359.2 266.93,355.3 267.05,355.8 267.18,353.4 267.30,354.5 267.43,357.2 267.55,355.6 267.68,356.2 267.80,358.3 267.93,357.2 268.05,365.2 268.18,356.7 268.30,361.1 268.43,358.7 268.55,357.3 268.68,362.9 268.80,357.8 268.93,360.2 269.05,357.1 269.18,359.3 269.30,362.9 269.43,360.2 269.55,360.0 269.68,361.8 269.80,362.2 269.93,364.2 270.05,362.7 270.18,362.6 270.30,364.3 270.43,360.4 270.55,366.8 270.68,361.0 270.80,367.5 270.93,365.9 271.05,366.0 271.18,366.4 271.30,351.4 271.43,367.6 271.55,364.9 271.68,364.8 271.80,363.1 271.93,369.3 272.05,367.6 272.18,367.9 272.30,363.3 272.43,367.4 272.55,372.6 272.68,365.7 272.80,365.2 272.93,366.0 273.05,367.6 273.18,369.7 273.30,372.7 273.43,369.0 273.55,369.6 273.68,368.5 273.80,371.6 273.93,369.5 274.05,370.2 274.18,371.4 274.30,370.0 274.43,369.2 274.55,371.0 274.68,369.9 274.80,369.4 274.93,369.1 275.05,367.2 275.18,369.7 275.30,367.5 275.43,369.9 275.55,379.8 275.68,369.8 275.80,365.9 275.93,366.7 276.05,366.6 276.18,354.3 276.30,366.5 276.43,368.3 276.55,368.0 276.68,371.5 276.80,367.9 276.93,361.8 277.05,363.6 277.18,364.3 277.30,366.3 277.43,363.1 277.55,367.9 277.68,366.4 277.80,366.8 277.93,366.3 278.05,368.7 278.18,365.1 278.30,364.1 278.43,370.5 278.55,365.7 278.68,367.0 278.80,370.0 278.93,368.5 279.05,369.0 279.18,368.1 279.30,362.6 279.43,368.3 279.55,370.8 279.68,362.9 279.80,366.2 279.93,366.7 280.05,362.6 280.18,361.5 280.30,362.6 280.43,362.8 280.55,366.7 280.68,360.5 280.80,363.5 280.93,362.8 281.05,357.8 281.18,360.2 281.30,363.5 281.43,366.1 281.55,363.0 281.68,367.4 281.80,362.7 281.93,357.9 282.05,361.6 282.18,358.6 282.30,355.7 282.43,361.2 282.55,358.4 282.68,360.5 282.80,365.6 282.93,360.5 283.05,361.2 283.18,363.5 283.30,365.1 283.43,358.4 283.55,359.9 283.68,362.0 283.80,365.3 283.93,365.4 284.05,366.5 284.18,362.5 284.30,364.8 284.43,358.7 284.55,365.4 284.68,365.3 284.80,368.6 284.93,371.0 285.05,369.8 285.18,372.7 285.30,374.4 285.43,373.9 285.55,376.7 285.68,369.4 285.80,371.0 285.93,366.1 286.05,358.5 286.18,369.1 286.30,367.6 286.43,283.8 286.55,279.9 286.68,278.2 286.80,279.1 286.93,282.3 287.05,281.8 287.18,283.8 287.30,284.7 287.43,284.7 287.55,284.6 287.68,284.8 287.80,285.8 287.93,286.8 288.05,281.0 288.18,282.3 288.30,284.9 288.43,281.5 288.55,286.8 288.68,285.3 288.80,287.8 288.93,285.2 289.05,285.1 289.18,289.0 289.30,285.1 289.43,288.2 289.55,288.1 289.68,289.5 289.80,281.4 289.93,284.8 290.05,288.0 290.18,289.4 290.30,284.3 290.43,287.5 290.55,290.2 290.68,286.0 290.80,288.9 290.93,288.0 291.05,286.9 291.18,293.0 291.30,287.6 291.43,284.9 291.55,286.5 291.68,292.0 291.80,287.8 291.93,289.0 292.05,287.5 292.18,290.6 292.30,349.4 292.43,352.2 292.55,329.8 292.68,348.5 292.80,349.8 292.93,347.4 293.05,348.2 293.18,352.2 293.30,350.3 293.43,351.6 293.55,351.0 293.68,355.0 293.80,349.9 293.93,350.8 294.05,351.9 294.18,345.8 294.30,350.0 294.43,347.9 294.55,350.5 294.68,350.4 294.80,353.7 294.93,345.3 295.05,352.0 295.18,347.4 295.30,351.3 295.43,351.7 295.55,355.1 295.68,356.5 295.80,353.8 295.93,353.7 296.05,354.0 296.18,351.2 296.30,353.1 296.43,350.7 296.55,350.2 296.68,351.7 296.80,351.4 296.93,352.9 297.05,350.0 297.18,348.9 297.30,351.3 297.43,357.9 297.55,355.8 297.68,354.6 297.80,355.7 297.93,355.6 298.05,365.5 298.18,353.2 298.30,354.3 298.43,357.9 298.55,354.5 298.68,354.2 298.80,357.1 298.93,329.6 299.05,353.4 299.18,354.4 299.30,355.6 299.43,352.1 299.55,350.8 299.68,356.3 299.80,349.3 299.93,349.0 300.05,354.2 300.18,350.9 300.30,350.6 300.43,350.7 300.55,362.2 300.68,358.5 300.80,347.4 300.93,352.2 301.05,354.2 301.18,348.8 301.30,350.3 301.43,347.2 301.55,352.1 301.68,349.9 301.80,344.5 301.93,346.2 302.05,351.4 302.18,347.7 302.30,349.8 302.43,348.0 302.55,349.0 302.68,348.7 302.80,350.3 302.93,349.9 303.05,347.1 303.18,298.9 303.30,281.6 303.43,283.5 303.55,284.1 303.68,281.9 303.80,286.9 303.93,281.5 304.05,288.3 304.18,285.3 304.30,283.1 304.43,287.8 304.55,285.0 304.68,290.8 304.80,287.2 304.93,291.4 305.05,290.8 305.18,288.3 305.30,294.6 305.43,290.5 305.55,293.4 305.68,290.8 305.80,352.6 305.93,351.6 306.05,350.3 306.18,351.6 306.30,349.5 306.43,350.5 306.55,347.2 306.68,350.2 306.80,347.9 306.93,348.6 307.05,349.3 307.18,348.0 307.30,347.6 307.43,353.5 307.55,347.1 307.68,350.2 307.80,347.3 307.93,348.4 308.05,347.2 308.18,326.7 308.30,346.2 308.43,343.0 308.55,343.5 308.68,347.9 308.80,348.3 308.93,345.1 309.05,347.7 309.18,346.4 309.30,348.1 309.43,350.5 309.55,350.9 309.68,345.4 309.80,348.3 309.93,345.5 310.05,347.5 310.18,347.6 310.30,346.9 310.43,355.1 310.55,349.2 310.68,350.3 310.80,278.9 310.93,281.7 311.05,281.7 311.18,284.9 311.30,277.1 311.43,286.0 311.55,285.8 311.68,284.6 311.80,282.8 311.93,281.0 312.05,281.2 312.18,284.1 312.30,284.7 312.43,285.5 312.55,286.2 312.68,283.5 312.80,282.1 312.93,287.2 313.05,285.5 313.18,324.8 313.30,339.3 313.43,336.5 313.55,332.2 313.68,337.8 313.80,340.5 313.93,337.2 314.05,338.0 314.18,337.7 314.30,336.6 314.43,339.5 314.55,338.7 314.68,336.7 314.80,342.6 314.93,339.3 315.05,341.5 315.18,340.1 315.30,335.6 315.43,334.7 315.55,333.0 315.68,337.9 315.80,340.2 315.93,337.4 316.05,339.1 316.18,336.8 316.30,337.2 316.43,332.2 316.55,329.7 316.68,334.7 316.80,332.8 316.93,326.0 317.05,338.3 317.18,330.7 317.30,332.3 317.43,335.0 317.55,333.8 317.68,334.3 317.80,335.6 317.93,333.9 318.05,331.2 318.18,333.0 318.30,335.9 318.43,310.4 318.55,330.6 318.68,332.6 318.80,333.9 318.93,336.1 319.05,337.8 319.18,339.0 319.30,334.7 319.43,334.6 319.55,336.9 319.68,334.0 319.80,331.9 319.93,336.9 320.05,337.5 320.18,336.4 320.30,334.2 320.43,328.6 320.55,330.1 320.68,337.2 320.80,337.0 320.93,324.3 321.05,297.2 321.18,293.9 321.30,299.3 321.43,294.7 321.55,302.6 321.68,299.7 321.80,294.8 321.93,298.2 322.05,298.6 322.18,300.0 322.30,301.4 322.43,300.1 322.55,299.3 322.68,299.8 322.80,299.3 322.93,356.9 323.05,351.9 323.18,353.7 323.30,353.6 323.43,351.8 323.55,360.2 323.68,358.2 323.80,356.0 323.93,355.4 324.05,355.1 324.18,365.1 324.30,355.4 324.43,353.0" fill="none" stroke="#4682bd" stroke-width="1.15" stroke-linejoin="round"/>
<rect x="19.5" y="206.0" width="319.5" height="197.2" fill="none" stroke="#959595" stroke-width="1.0"/>
<line x1="17.7" x2="19.5" y1="392.40" y2="392.40" stroke="#959595" stroke-width="0.8"/>
<text x="16.1" y="394.70" font-size="5.5" text-anchor="end" fill="#262626" stroke="#262626" stroke-width="0.1">0.1</text>
<line x1="17.7" x2="19.5" y1="361.65" y2="361.65" stroke="#959595" stroke-width="0.8"/>
<text x="16.1" y="363.95" font-size="5.5" text-anchor="end" fill="#262626" stroke="#262626" stroke-width="0.1">0.2</text>
<line x1="17.7" x2="19.5" y1="330.90" y2="330.90" stroke="#959595" stroke-width="0.8"/>
<text x="16.1" y="333.20" font-size="5.5" text-anchor="end" fill="#262626" stroke="#262626" stroke-width="0.1">0.3</text>
<line x1="17.7" x2="19.5" y1="300.15" y2="300.15" stroke="#959595" stroke-width="0.8"/>
<text x="16.1" y="302.45" font-size="5.5" text-anchor="end" fill="#262626" stroke="#262626" stroke-width="0.1">0.4</text>
<line x1="17.7" x2="19.5" y1="269.40" y2="269.40" stroke="#959595" stroke-width="0.8"/>
<text x="16.1" y="271.70" font-size="5.5" text-anchor="end" fill="#262626" stroke="#262626" stroke-width="0.1">0.5</text>
<line x1="17.7" x2="19.5" y1="238.65" y2="238.65" stroke="#959595" stroke-width="0.8"/>
<text x="16.1" y="240.95" font-size="5.5" text-anchor="end" fill="#262626" stroke="#262626" stroke-width="0.1">0.6</text>
<line x1="17.7" x2="19.5" y1="207.90" y2="207.90" stroke="#959595" stroke-width="0.8"/>
<text x="16.1" y="210.20" font-size="5.5" text-anchor="end" fill="#262626" stroke="#262626" stroke-width="0.1">0.7</text>
<text transform="translate(5.3,304.6) rotate(-90)" font-size="6.25" font-weight="bold" text-anchor="middle" fill="#111">Risk Score</text>
<text x="179.3" y="214.7" font-size="6.8" font-weight="bold" text-anchor="middle" fill="#111">(c)</text>
<rect x="258.6" y="208.4" width="77.8" height="16.6" rx="1.2" fill="#fff" fill-opacity="0.85" stroke="#d6d6d6" stroke-width="0.6"/>
<line x1="260.2" x2="272" y1="212.85" y2="212.85" stroke="#4682bd" stroke-opacity="0.75" stroke-width="1.25"/>
<rect x="260.2" y="218.00" width="11.8" height="4.6" fill="#d7d7d7"/>
<text x="275.9" y="214.60" font-size="5.3" fill="#222" stroke="#222" stroke-width="0.1">Mean Risk</text>
<text x="275.9" y="222.60" font-size="5.3" fill="#222" stroke="#222" stroke-width="0.1">95% Confidence Interval</text>
</g>
<g>
<line x1="375.80" x2="375.80" y1="1.4" y2="182.4" stroke="#f2f2f2" stroke-width="0.7"/>
<line x1="435.80" x2="435.80" y1="1.4" y2="182.4" stroke="#f2f2f2" stroke-width="0.7"/>
<line x1="495.80" x2="495.80" y1="1.4" y2="182.4" stroke="#f2f2f2" stroke-width="0.7"/>
<line x1="555.80" x2="555.80" y1="1.4" y2="182.4" stroke="#f2f2f2" stroke-width="0.7"/>
<line x1="615.80" x2="615.80" y1="1.4" y2="182.4" stroke="#f2f2f2" stroke-width="0.7"/>
<line x1="675.80" x2="675.80" y1="1.4" y2="182.4" stroke="#f2f2f2" stroke-width="0.7"/>
<line x1="363.4" x2="683.3" y1="182.40" y2="182.40" stroke="#f2f2f2" stroke-width="0.7"/>
<line x1="363.4" x2="683.3" y1="160.38" y2="160.38" stroke="#f2f2f2" stroke-width="0.7"/>
<line x1="363.4" x2="683.3" y1="138.36" y2="138.36" stroke="#f2f2f2" stroke-width="0.7"/>
<line x1="363.4" x2="683.3" y1="116.34" y2="116.34" stroke="#f2f2f2" stroke-width="0.7"/>
<line x1="363.4" x2="683.3" y1="94.32" y2="94.32" stroke="#f2f2f2" stroke-width="0.7"/>
<line x1="363.4" x2="683.3" y1="72.30" y2="72.30" stroke="#f2f2f2" stroke-width="0.7"/>
<line x1="363.4" x2="683.3" y1="50.28" y2="50.28" stroke="#f2f2f2" stroke-width="0.7"/>
<line x1="363.4" x2="683.3" y1="28.26" y2="28.26" stroke="#f2f2f2" stroke-width="0.7"/>
<line x1="363.4" x2="683.3" y1="6.24" y2="6.24" stroke="#f2f2f2" stroke-width="0.7"/>
<rect x="376.80" y="182.33" width="9.75" height="0.07" fill="#ee9646" stroke="#ffffff" stroke-opacity="0.45" stroke-width="0.45"/>
<rect x="386.55" y="182.31" width="9.75" height="0.09" fill="#ee9646" stroke="#ffffff" stroke-opacity="0.45" stroke-width="0.45"/>
<rect x="396.30" y="182.29" width="9.75" height="0.11" fill="#ee9646" stroke="#ffffff" stroke-opacity="0.45" stroke-width="0.45"/>
<rect x="406.05" y="182.25" width="9.75" height="0.15" fill="#ee9646" stroke="#ffffff" stroke-opacity="0.45" stroke-width="0.45"/>
<rect x="415.80" y="182.18" width="9.75" height="0.22" fill="#ee9646" stroke="#ffffff" stroke-opacity="0.45" stroke-width="0.45"/>
<rect x="425.55" y="182.07" width="9.75" height="0.33" fill="#ee9646" stroke="#ffffff" stroke-opacity="0.45" stroke-width="0.45"/>
<rect x="435.30" y="181.85" width="9.75" height="0.55" fill="#ee9646" stroke="#ffffff" stroke-opacity="0.45" stroke-width="0.45"/>
<rect x="445.05" y="181.74" width="9.75" height="0.66" fill="#ee9646" stroke="#ffffff" stroke-opacity="0.45" stroke-width="0.45"/>
<rect x="454.80" y="181.52" width="9.75" height="0.88" fill="#ee9646" stroke="#ffffff" stroke-opacity="0.45" stroke-width="0.45"/>
<rect x="464.55" y="181.19" width="9.75" height="1.21" fill="#ee9646" stroke="#ffffff" stroke-opacity="0.45" stroke-width="0.45"/>
<rect x="474.30" y="180.42" width="9.75" height="1.98" fill="#ee9646" stroke="#ffffff" stroke-opacity="0.45" stroke-width="0.45"/>
<rect x="484.05" y="179.32" width="9.75" height="3.08" fill="#ee9646" stroke="#ffffff" stroke-opacity="0.45" stroke-width="0.45"/>
<rect x="493.80" y="178.00" width="9.75" height="4.40" fill="#ee9646" stroke="#ffffff" stroke-opacity="0.45" stroke-width="0.45"/>
<rect x="503.55" y="176.45" width="9.75" height="5.95" fill="#ee9646" stroke="#ffffff" stroke-opacity="0.45" stroke-width="0.45"/>
<rect x="513.30" y="173.15" width="9.75" height="9.25" fill="#ee9646" stroke="#ffffff" stroke-opacity="0.45" stroke-width="0.45"/>
<rect x="523.05" y="166.11" width="9.75" height="16.29" fill="#ee9646" stroke="#ffffff" stroke-opacity="0.45" stroke-width="0.45"/>
<rect x="532.80" y="156.42" width="9.75" height="25.98" fill="#ee9646" stroke="#ffffff" stroke-opacity="0.45" stroke-width="0.45"/>
<rect x="542.55" y="146.95" width="9.75" height="35.45" fill="#ee9646" stroke="#ffffff" stroke-opacity="0.45" stroke-width="0.45"/>
<rect x="552.30" y="138.14" width="9.75" height="44.26" fill="#ee9646" stroke="#ffffff" stroke-opacity="0.45" stroke-width="0.45"/>
<rect x="562.05" y="125.59" width="9.75" height="56.81" fill="#ee9646" stroke="#ffffff" stroke-opacity="0.45" stroke-width="0.45"/>
<rect x="571.80" y="111.28" width="9.75" height="71.12" fill="#ee9646" stroke="#ffffff" stroke-opacity="0.45" stroke-width="0.45"/>
<rect x="581.55" y="98.50" width="9.75" height="83.90" fill="#ee9646" stroke="#ffffff" stroke-opacity="0.45" stroke-width="0.45"/>
<rect x="591.30" y="85.95" width="9.75" height="96.45" fill="#ee9646" stroke="#ffffff" stroke-opacity="0.45" stroke-width="0.45"/>
<rect x="601.05" y="59.31" width="9.75" height="123.09" fill="#ee9646" stroke="#ffffff" stroke-opacity="0.45" stroke-width="0.45"/>
<rect x="610.80" y="33.54" width="9.75" height="148.86" fill="#ee9646" stroke="#ffffff" stroke-opacity="0.45" stroke-width="0.45"/>
<rect x="620.55" y="9.98" width="9.75" height="172.42" fill="#ee9646" stroke="#ffffff" stroke-opacity="0.45" stroke-width="0.45"/>
<rect x="630.30" y="11.08" width="9.75" height="171.32" fill="#ee9646" stroke="#ffffff" stroke-opacity="0.45" stroke-width="0.45"/>
<rect x="640.05" y="37.29" width="9.75" height="145.11" fill="#ee9646" stroke="#ffffff" stroke-opacity="0.45" stroke-width="0.45"/>
<rect x="649.80" y="74.72" width="9.75" height="107.68" fill="#ee9646" stroke="#ffffff" stroke-opacity="0.45" stroke-width="0.45"/>
<rect x="659.55" y="161.92" width="9.75" height="20.48" fill="#ee9646" stroke="#ffffff" stroke-opacity="0.45" stroke-width="0.45"/>
<rect x="522.4" y="1.4" width="135.60" height="181.0" fill="#3fb33b" fill-opacity="0.25"/>
<line x1="608.7" x2="608.7" y1="1.4" y2="182.4" stroke="#dd3030" stroke-width="1.3" stroke-dasharray="4.1 2.0"/>
<rect x="363.4" y="1.4" width="319.9" height="181.0" fill="none" stroke="#959595" stroke-width="1.0"/>
<line x1="361.59999999999997" x2="363.4" y1="182.40" y2="182.40" stroke="#959595" stroke-width="0.8"/>
<text x="360.00" y="184.80" font-size="5.5" text-anchor="end" fill="#262626" stroke="#262626" stroke-width="0.1">0</text>
<line x1="361.59999999999997" x2="363.4" y1="160.38" y2="160.38" stroke="#959595" stroke-width="0.8"/>
<text x="360.00" y="162.78" font-size="5.5" text-anchor="end" fill="#262626" stroke="#262626" stroke-width="0.1">10</text>
<line x1="361.59999999999997" x2="363.4" y1="138.36" y2="138.36" stroke="#959595" stroke-width="0.8"/>
<text x="360.00" y="140.76" font-size="5.5" text-anchor="end" fill="#262626" stroke="#262626" stroke-width="0.1">20</text>
<line x1="361.59999999999997" x2="363.4" y1="116.34" y2="116.34" stroke="#959595" stroke-width="0.8"/>
<text x="360.00" y="118.74" font-size="5.5" text-anchor="end" fill="#262626" stroke="#262626" stroke-width="0.1">30</text>
<line x1="361.59999999999997" x2="363.4" y1="94.32" y2="94.32" stroke="#959595" stroke-width="0.8"/>
<text x="360.00" y="96.72" font-size="5.5" text-anchor="end" fill="#262626" stroke="#262626" stroke-width="0.1">40</text>
<line x1="361.59999999999997" x2="363.4" y1="72.30" y2="72.30" stroke="#959595" stroke-width="0.8"/>
<text x="360.00" y="74.70" font-size="5.5" text-anchor="end" fill="#262626" stroke="#262626" stroke-width="0.1">50</text>
<line x1="361.59999999999997" x2="363.4" y1="50.28" y2="50.28" stroke="#959595" stroke-width="0.8"/>
<text x="360.00" y="52.68" font-size="5.5" text-anchor="end" fill="#262626" stroke="#262626" stroke-width="0.1">60</text>
<line x1="361.59999999999997" x2="363.4" y1="28.26" y2="28.26" stroke="#959595" stroke-width="0.8"/>
<text x="360.00" y="30.66" font-size="5.5" text-anchor="end" fill="#262626" stroke="#262626" stroke-width="0.1">70</text>
<line x1="361.59999999999997" x2="363.4" y1="6.24" y2="6.24" stroke="#959595" stroke-width="0.8"/>
<text x="360.00" y="8.64" font-size="5.5" text-anchor="end" fill="#262626" stroke="#262626" stroke-width="0.1">80</text>
<path d="M376.70,182.40 L377.68,182.40 L378.66,182.39 L379.63,182.39 L380.61,182.39 L381.59,182.38 L382.57,182.38 L383.55,182.37 L384.53,182.37 L385.50,182.37 L386.48,182.36 L387.46,182.36 L388.44,182.35 L389.42,182.35 L390.40,182.34 L391.37,182.34 L392.35,182.33 L393.33,182.33 L394.31,182.32 L395.29,182.32 L396.27,182.31 L397.24,182.31 L398.22,182.30 L399.20,182.29 L400.18,182.29 L401.16,182.28 L402.13,182.28 L403.11,182.27 L404.09,182.27 L405.07,182.26 L406.05,182.25 L407.03,182.25 L408.00,182.24 L408.98,182.23 L409.96,182.23 L410.94,182.22 L411.92,182.21 L412.90,182.20 L413.87,182.20 L414.85,182.19 L415.83,182.18 L416.81,182.17 L417.79,182.16 L418.77,182.15 L419.74,182.14 L420.72,182.13 L421.70,182.12 L422.68,182.10 L423.66,182.09 L424.63,182.07 L425.61,182.06 L426.59,182.04 L427.57,182.03 L428.55,182.01 L429.53,181.99 L430.50,181.97 L431.48,181.95 L432.46,181.93 L433.44,181.91 L434.42,181.88 L435.40,181.86 L436.37,181.84 L437.35,181.81 L438.33,181.79 L439.31,181.76 L440.29,181.73 L441.27,181.70 L442.24,181.67 L443.22,181.64 L444.20,181.60 L445.18,181.56 L446.16,181.52 L447.13,181.47 L448.11,181.43 L449.09,181.38 L450.07,181.33 L451.05,181.28 L452.03,181.23 L453.00,181.18 L453.98,181.13 L454.96,181.07 L455.94,181.02 L456.92,180.96 L457.90,180.90 L458.87,180.84 L459.85,180.79 L460.83,180.73 L461.81,180.67 L462.79,180.61 L463.77,180.55 L464.74,180.49 L465.72,180.43 L466.70,180.38 L467.68,180.32 L468.66,180.26 L469.63,180.21 L470.61,180.15 L471.59,180.10 L472.57,180.04 L473.55,179.98 L474.53,179.93 L475.50,179.86 L476.48,179.80 L477.46,179.74 L478.44,179.67 L479.42,179.59 L480.40,179.52 L481.37,179.44 L482.35,179.35 L483.33,179.26 L484.31,179.17 L485.29,179.07 L486.27,178.94 L487.24,178.79 L488.22,178.62 L489.20,178.44 L490.18,178.25 L491.16,178.05 L492.13,177.86 L493.11,177.67 L494.09,177.49 L495.07,177.32 L496.05,177.18 L497.03,177.04 L498.00,176.90 L498.98,176.77 L499.96,176.65 L500.94,176.52 L501.92,176.39 L502.90,176.25 L503.87,176.10 L504.85,175.94 L505.83,175.77 L506.81,175.59 L507.79,175.39 L508.77,175.18 L509.74,174.95 L510.72,174.70 L511.70,174.43 L512.68,174.13 L513.66,173.79 L514.63,173.40 L515.61,172.97 L516.59,172.50 L517.57,172.02 L518.55,171.48 L519.53,170.88 L520.50,170.24 L521.48,169.58 L522.46,168.91 L523.44,168.24 L524.42,167.55 L525.40,166.85 L526.37,166.13 L527.35,165.39 L528.33,164.64 L529.31,163.88 L530.29,163.09 L531.27,162.28 L532.24,161.46 L533.22,160.64 L534.20,159.83 L535.18,159.03 L536.16,158.23 L537.13,157.44 L538.11,156.63 L539.09,155.81 L540.07,154.97 L541.05,154.10 L542.03,153.20 L543.00,152.25 L543.98,151.24 L544.96,150.17 L545.94,149.05 L546.92,147.90 L547.90,146.73 L548.87,145.56 L549.85,144.40 L550.83,143.28 L551.81,142.20 L552.79,141.17 L553.77,140.18 L554.74,139.21 L555.72,138.26 L556.70,137.32 L557.68,136.38 L558.66,135.43 L559.63,134.46 L560.61,133.46 L561.59,132.42 L562.57,131.34 L563.55,130.23 L564.53,129.09 L565.50,127.93 L566.48,126.74 L567.46,125.53 L568.44,124.29 L569.42,123.03 L570.40,121.75 L571.37,120.44 L572.35,119.10 L573.33,117.74 L574.31,116.32 L575.29,114.85 L576.27,113.34 L577.24,111.81 L578.22,110.26 L579.20,108.68 L580.18,107.06 L581.16,105.42 L582.13,103.74 L583.11,102.05 L584.09,100.33 L585.07,98.59 L586.05,96.82 L587.03,95.03 L588.00,93.24 L588.98,91.43 L589.96,89.62 L590.94,87.79 L591.92,85.94 L592.90,84.09 L593.87,82.23 L594.85,80.38 L595.83,78.54 L596.81,76.74 L597.79,74.93 L598.77,73.05 L599.74,71.08 L600.72,69.03 L601.70,66.97 L602.68,64.93 L603.66,62.92 L604.63,60.77 L605.61,58.41 L606.59,55.90 L607.57,53.24 L608.55,50.43 L609.53,47.28 L610.50,43.90 L611.48,40.49 L612.46,37.24 L613.44,34.33 L614.42,31.51 L615.40,28.76 L616.37,26.18 L617.35,23.88 L618.33,21.94 L619.31,20.34 L620.29,18.87 L621.27,17.54 L622.24,16.39 L623.22,15.43 L624.20,14.69 L625.18,14.03 L626.16,13.41 L627.13,12.85 L628.11,12.40 L629.09,12.10 L630.07,11.97 L631.05,12.06 L632.03,12.40 L633.00,12.91 L633.98,13.56 L634.96,14.30 L635.94,15.46 L636.92,17.14 L637.90,19.21 L638.87,21.54 L639.85,23.99 L640.83,26.80 L641.81,30.13 L642.79,33.82 L643.77,37.71 L644.74,41.65 L645.72,45.72 L646.70,50.03 L647.68,54.51 L648.66,59.08 L649.63,63.65 L650.61,68.21 L651.59,72.80 L652.57,77.48 L653.55,82.30 L654.53,87.32 L655.50,92.60 L656.48,98.16 L657.46,103.99 L658.44,110.27 L659.42,116.94 L660.40,123.52 L661.37,129.61 L662.35,135.37 L663.33,140.90 L664.31,146.17 L665.29,151.22 L666.27,156.11 L667.24,160.82 L668.22,165.33 L669.20,169.63" fill="none" stroke="#dd3030" stroke-width="1.2" stroke-linejoin="round"/>
<line x1="375.80" x2="375.80" y1="182.4" y2="184.20000000000002" stroke="#959595" stroke-width="0.8"/>
<text x="375.80" y="190.20" font-size="5.4" text-anchor="middle" fill="#262626" stroke="#262626" stroke-width="0.1">0.95</text>
<line x1="435.80" x2="435.80" y1="182.4" y2="184.20000000000002" stroke="#959595" stroke-width="0.8"/>
<text x="435.80" y="190.20" font-size="5.4" text-anchor="middle" fill="#262626" stroke="#262626" stroke-width="0.1">0.96</text>
<line x1="495.80" x2="495.80" y1="182.4" y2="184.20000000000002" stroke="#959595" stroke-width="0.8"/>
<text x="495.80" y="190.20" font-size="5.4" text-anchor="middle" fill="#262626" stroke="#262626" stroke-width="0.1">0.97</text>
<line x1="555.80" x2="555.80" y1="182.4" y2="184.20000000000002" stroke="#959595" stroke-width="0.8"/>
<text x="555.80" y="190.20" font-size="5.4" text-anchor="middle" fill="#262626" stroke="#262626" stroke-width="0.1">0.98</text>
<line x1="615.80" x2="615.80" y1="182.4" y2="184.20000000000002" stroke="#959595" stroke-width="0.8"/>
<text x="615.80" y="190.20" font-size="5.4" text-anchor="middle" fill="#262626" stroke="#262626" stroke-width="0.1">0.99</text>
<line x1="675.80" x2="675.80" y1="182.4" y2="184.20000000000002" stroke="#959595" stroke-width="0.8"/>
<text x="675.80" y="190.20" font-size="5.4" text-anchor="middle" fill="#262626" stroke="#262626" stroke-width="0.1">1.00</text>
<text x="523.35" y="198.40" font-size="6.3" font-weight="bold" text-anchor="middle" fill="#111">Spearman Correlation Coefficient</text>
<text transform="translate(351.5,91.9) rotate(-90)" font-size="6.25" font-weight="bold" text-anchor="middle" fill="#111">Density</text>
<text x="523.1" y="9.8" font-size="6.8" font-weight="bold" text-anchor="middle" fill="#111">(b)</text>
<rect x="365.6" y="3.7" width="76.6" height="24.7" rx="1.2" fill="#fff" fill-opacity="0.85" stroke="#d6d6d6" stroke-width="0.6"/>
<line x1="367.5" x2="379.5" y1="7.90" y2="7.90" stroke="#dd3030" stroke-width="1.4"/>
<line x1="367.5" x2="379.5" y1="15.60" y2="15.60" stroke="#dd3030" stroke-width="1.4" stroke-dasharray="4.1 2.0"/>
<rect x="367.5" y="21.50" width="12" height="4.2" fill="#3fb33b" fill-opacity="0.25"/>
<text x="383.00" y="9.80" font-size="5.3" fill="#222" stroke="#222" stroke-width="0.1">Kernel Density Estimate</text>
<text x="383.00" y="17.50" font-size="5.3" fill="#222" stroke="#222" stroke-width="0.1">Mean: 0.989</text>
<text x="383.00" y="25.30" font-size="5.3" fill="#222" stroke="#222" stroke-width="0.1">95% CI: [0.974, 0.997]</text>
</g>
<g>
<line x1="401.20" x2="401.20" y1="205.9" y2="387.4" stroke="#f2f2f2" stroke-width="0.7"/>
<line x1="455.30" x2="455.30" y1="205.9" y2="387.4" stroke="#f2f2f2" stroke-width="0.7"/>
<line x1="509.40" x2="509.40" y1="205.9" y2="387.4" stroke="#f2f2f2" stroke-width="0.7"/>
<line x1="563.50" x2="563.50" y1="205.9" y2="387.4" stroke="#f2f2f2" stroke-width="0.7"/>
<line x1="617.60" x2="617.60" y1="205.9" y2="387.4" stroke="#f2f2f2" stroke-width="0.7"/>
<line x1="671.70" x2="671.70" y1="205.9" y2="387.4" stroke="#f2f2f2" stroke-width="0.7"/>
<line x1="366.4" x2="683.7" y1="387.40" y2="387.40" stroke="#f2f2f2" stroke-width="0.7"/>
<line x1="366.4" x2="683.7" y1="352.80" y2="352.80" stroke="#f2f2f2" stroke-width="0.7"/>
<line x1="366.4" x2="683.7" y1="318.20" y2="318.20" stroke="#f2f2f2" stroke-width="0.7"/>
<line x1="366.4" x2="683.7" y1="283.60" y2="283.60" stroke="#f2f2f2" stroke-width="0.7"/>
<line x1="366.4" x2="683.7" y1="249.00" y2="249.00" stroke="#f2f2f2" stroke-width="0.7"/>
<line x1="366.4" x2="683.7" y1="214.40" y2="214.40" stroke="#f2f2f2" stroke-width="0.7"/>
<rect x="380.70" y="387.31" width="9.62" height="0.09" fill="#ee9646" stroke="#ffffff" stroke-opacity="0.45" stroke-width="0.45"/>
<rect x="390.32" y="387.26" width="9.62" height="0.14" fill="#ee9646" stroke="#ffffff" stroke-opacity="0.45" stroke-width="0.45"/>
<rect x="399.94" y="387.23" width="9.62" height="0.17" fill="#ee9646" stroke="#ffffff" stroke-opacity="0.45" stroke-width="0.45"/>
<rect x="409.56" y="387.19" width="9.62" height="0.21" fill="#ee9646" stroke="#ffffff" stroke-opacity="0.45" stroke-width="0.45"/>
<rect x="419.18" y="387.14" width="9.62" height="0.26" fill="#ee9646" stroke="#ffffff" stroke-opacity="0.45" stroke-width="0.45"/>
<rect x="428.80" y="387.05" width="9.62" height="0.35" fill="#ee9646" stroke="#ffffff" stroke-opacity="0.45" stroke-width="0.45"/>
<rect x="438.42" y="386.97" width="9.62" height="0.43" fill="#ee9646" stroke="#ffffff" stroke-opacity="0.45" stroke-width="0.45"/>
<rect x="448.04" y="386.88" width="9.62" height="0.52" fill="#ee9646" stroke="#ffffff" stroke-opacity="0.45" stroke-width="0.45"/>
<rect x="457.66" y="386.79" width="9.62" height="0.61" fill="#ee9646" stroke="#ffffff" stroke-opacity="0.45" stroke-width="0.45"/>
<rect x="467.28" y="386.88" width="9.62" height="0.52" fill="#ee9646" stroke="#ffffff" stroke-opacity="0.45" stroke-width="0.45"/>
<rect x="476.90" y="386.88" width="9.62" height="0.52" fill="#ee9646" stroke="#ffffff" stroke-opacity="0.45" stroke-width="0.45"/>
<rect x="486.52" y="386.79" width="9.62" height="0.61" fill="#ee9646" stroke="#ffffff" stroke-opacity="0.45" stroke-width="0.45"/>
<rect x="496.14" y="386.62" width="9.62" height="0.78" fill="#ee9646" stroke="#ffffff" stroke-opacity="0.45" stroke-width="0.45"/>
<rect x="505.76" y="386.36" width="9.62" height="1.04" fill="#ee9646" stroke="#ffffff" stroke-opacity="0.45" stroke-width="0.45"/>
<rect x="515.38" y="386.53" width="9.62" height="0.86" fill="#ee9646" stroke="#ffffff" stroke-opacity="0.45" stroke-width="0.45"/>
<rect x="525.00" y="385.67" width="9.62" height="1.73" fill="#ee9646" stroke="#ffffff" stroke-opacity="0.45" stroke-width="0.45"/>
<rect x="534.62" y="384.63" width="9.62" height="2.77" fill="#ee9646" stroke="#ffffff" stroke-opacity="0.45" stroke-width="0.45"/>
<rect x="544.24" y="383.77" width="9.62" height="3.63" fill="#ee9646" stroke="#ffffff" stroke-opacity="0.45" stroke-width="0.45"/>
<rect x="553.86" y="379.61" width="9.62" height="7.79" fill="#ee9646" stroke="#ffffff" stroke-opacity="0.45" stroke-width="0.45"/>
<rect x="563.48" y="372.52" width="9.62" height="14.88" fill="#ee9646" stroke="#ffffff" stroke-opacity="0.45" stroke-width="0.45"/>
<rect x="573.10" y="366.47" width="9.62" height="20.93" fill="#ee9646" stroke="#ffffff" stroke-opacity="0.45" stroke-width="0.45"/>
<rect x="582.72" y="350.03" width="9.62" height="37.37" fill="#ee9646" stroke="#ffffff" stroke-opacity="0.45" stroke-width="0.45"/>
<rect x="592.34" y="318.03" width="9.62" height="69.37" fill="#ee9646" stroke="#ffffff" stroke-opacity="0.45" stroke-width="0.45"/>
<rect x="601.96" y="285.16" width="9.62" height="102.24" fill="#ee9646" stroke="#ffffff" stroke-opacity="0.45" stroke-width="0.45"/>
<rect x="611.58" y="253.15" width="9.62" height="134.25" fill="#ee9646" stroke="#ffffff" stroke-opacity="0.45" stroke-width="0.45"/>
<rect x="621.20" y="246.23" width="9.62" height="141.17" fill="#ee9646" stroke="#ffffff" stroke-opacity="0.45" stroke-width="0.45"/>
<rect x="630.82" y="214.75" width="9.62" height="172.65" fill="#ee9646" stroke="#ffffff" stroke-opacity="0.45" stroke-width="0.45"/>
<rect x="640.44" y="238.97" width="9.62" height="148.43" fill="#ee9646" stroke="#ffffff" stroke-opacity="0.45" stroke-width="0.45"/>
<rect x="650.06" y="293.81" width="9.62" height="93.59" fill="#ee9646" stroke="#ffffff" stroke-opacity="0.45" stroke-width="0.45"/>
<rect x="659.68" y="370.96" width="9.62" height="16.43" fill="#ee9646" stroke="#ffffff" stroke-opacity="0.45" stroke-width="0.45"/>
<rect x="566.4" y="205.9" width="92.50" height="181.49999999999997" fill="#3fb33b" fill-opacity="0.25"/>
<line x1="623.3" x2="623.3" y1="205.9" y2="387.4" stroke="#dd3030" stroke-width="1.3" stroke-dasharray="4.1 2.0"/>
<rect x="366.4" y="205.9" width="317.30000000000007" height="181.49999999999997" fill="none" stroke="#959595" stroke-width="1.0"/>
<line x1="364.59999999999997" x2="366.4" y1="387.40" y2="387.40" stroke="#959595" stroke-width="0.8"/>
<text x="363.00" y="389.80" font-size="5.5" text-anchor="end" fill="#262626" stroke="#262626" stroke-width="0.1">0</text>
<line x1="364.59999999999997" x2="366.4" y1="352.80" y2="352.80" stroke="#959595" stroke-width="0.8"/>
<text x="363.00" y="355.20" font-size="5.5" text-anchor="end" fill="#262626" stroke="#262626" stroke-width="0.1">20</text>
<line x1="364.59999999999997" x2="366.4" y1="318.20" y2="318.20" stroke="#959595" stroke-width="0.8"/>
<text x="363.00" y="320.60" font-size="5.5" text-anchor="end" fill="#262626" stroke="#262626" stroke-width="0.1">40</text>
<line x1="364.59999999999997" x2="366.4" y1="283.60" y2="283.60" stroke="#959595" stroke-width="0.8"/>
<text x="363.00" y="286.00" font-size="5.5" text-anchor="end" fill="#262626" stroke="#262626" stroke-width="0.1">60</text>
<line x1="364.59999999999997" x2="366.4" y1="249.00" y2="249.00" stroke="#959595" stroke-width="0.8"/>
<text x="363.00" y="251.40" font-size="5.5" text-anchor="end" fill="#262626" stroke="#262626" stroke-width="0.1">80</text>
<line x1="364.59999999999997" x2="366.4" y1="214.40" y2="214.40" stroke="#959595" stroke-width="0.8"/>
<text x="363.00" y="216.80" font-size="5.5" text-anchor="end" fill="#262626" stroke="#262626" stroke-width="0.1">100</text>
<path d="M380.10,387.40 L381.07,387.40 L382.04,387.40 L383.00,387.39 L383.97,387.39 L384.94,387.39 L385.91,387.39 L386.88,387.39 L387.85,387.38 L388.81,387.38 L389.78,387.38 L390.75,387.37 L391.72,387.37 L392.69,387.37 L393.66,387.36 L394.62,387.36 L395.59,387.36 L396.56,387.35 L397.53,387.35 L398.50,387.34 L399.46,387.34 L400.43,387.33 L401.40,387.33 L402.37,387.33 L403.34,387.32 L404.31,387.32 L405.27,387.31 L406.24,387.31 L407.21,387.30 L408.18,387.30 L409.15,387.29 L410.12,387.28 L411.08,387.28 L412.05,387.27 L413.02,387.27 L413.99,387.26 L414.96,387.26 L415.92,387.25 L416.89,387.25 L417.86,387.24 L418.83,387.23 L419.80,387.23 L420.77,387.22 L421.73,387.22 L422.70,387.21 L423.67,387.20 L424.64,387.20 L425.61,387.19 L426.57,387.18 L427.54,387.18 L428.51,387.17 L429.48,387.16 L430.45,387.15 L431.42,387.14 L432.38,387.13 L433.35,387.12 L434.32,387.12 L435.29,387.11 L436.26,387.10 L437.23,387.09 L438.19,387.07 L439.16,387.06 L440.13,387.05 L441.10,387.04 L442.07,387.02 L443.03,387.01 L444.00,386.99 L444.97,386.97 L445.94,386.94 L446.91,386.92 L447.88,386.89 L448.84,386.87 L449.81,386.84 L450.78,386.82 L451.75,386.79 L452.72,386.76 L453.69,386.74 L454.65,386.71 L455.62,386.69 L456.59,386.66 L457.56,386.64 L458.53,386.62 L459.49,386.60 L460.46,386.58 L461.43,386.57 L462.40,386.56 L463.37,386.55 L464.34,386.54 L465.30,386.54 L466.27,386.54 L467.24,386.54 L468.21,386.55 L469.18,386.57 L470.15,386.59 L471.11,386.61 L472.08,386.64 L473.05,386.67 L474.02,386.69 L474.99,386.72 L475.95,386.74 L476.92,386.76 L477.89,386.78 L478.86,386.79 L479.83,386.79 L480.80,386.79 L481.76,386.79 L482.73,386.79 L483.70,386.79 L484.67,386.79 L485.64,386.79 L486.61,386.78 L487.57,386.78 L488.54,386.78 L489.51,386.77 L490.48,386.77 L491.45,386.77 L492.41,386.76 L493.38,386.76 L494.35,386.75 L495.32,386.74 L496.29,386.74 L497.26,386.73 L498.22,386.72 L499.19,386.71 L500.16,386.71 L501.13,386.69 L502.10,386.66 L503.06,386.63 L504.03,386.59 L505.00,386.55 L505.97,386.50 L506.94,386.46 L507.91,386.42 L508.87,386.39 L509.84,386.36 L510.81,386.34 L511.78,386.32 L512.75,386.31 L513.72,386.29 L514.68,386.28 L515.65,386.26 L516.62,386.25 L517.59,386.22 L518.56,386.20 L519.52,386.16 L520.49,386.11 L521.46,386.04 L522.43,385.95 L523.40,385.85 L524.37,385.74 L525.33,385.62 L526.30,385.51 L527.27,385.39 L528.24,385.28 L529.21,385.17 L530.18,385.07 L531.14,384.98 L532.11,384.89 L533.08,384.79 L534.05,384.70 L535.02,384.61 L535.98,384.52 L536.95,384.42 L537.92,384.32 L538.89,384.22 L539.86,384.11 L540.83,383.99 L541.79,383.87 L542.76,383.75 L543.73,383.61 L544.70,383.47 L545.67,383.31 L546.64,383.15 L547.60,382.97 L548.57,382.78 L549.54,382.58 L550.51,382.36 L551.48,382.12 L552.44,381.85 L553.41,381.57 L554.38,381.25 L555.35,380.90 L556.32,380.52 L557.29,380.10 L558.25,379.64 L559.22,379.05 L560.19,378.31 L561.16,377.48 L562.13,376.67 L563.09,375.95 L564.06,375.30 L565.03,374.68 L566.00,374.08 L566.97,373.48 L567.94,372.86 L568.90,372.22 L569.87,371.53 L570.84,370.80 L571.81,370.05 L572.78,369.26 L573.75,368.43 L574.71,367.58 L575.68,366.70 L576.65,365.80 L577.62,364.85 L578.59,363.83 L579.55,362.72 L580.52,361.47 L581.49,360.09 L582.46,358.57 L583.43,356.91 L584.40,355.08 L585.36,353.02 L586.33,350.76 L587.30,348.28 L588.27,345.44 L589.24,342.33 L590.21,339.08 L591.17,335.82 L592.14,332.68 L593.11,329.62 L594.08,326.57 L595.05,323.50 L596.01,320.35 L596.98,317.07 L597.95,313.60 L598.92,309.87 L599.89,306.00 L600.86,302.09 L601.82,298.26 L602.79,294.63 L603.76,291.08 L604.73,287.59 L605.70,284.22 L606.67,281.02 L607.63,278.03 L608.60,275.20 L609.57,272.52 L610.54,270.01 L611.51,267.65 L612.47,265.43 L613.44,263.30 L614.41,261.26 L615.38,259.29 L616.35,257.39 L617.32,255.56 L618.28,253.77 L619.25,252.01 L620.22,250.33 L621.19,248.70 L622.16,247.06 L623.13,245.34 L624.09,243.49 L625.06,241.51 L626.03,239.46 L627.00,237.41 L627.97,235.42 L628.93,233.56 L629.90,231.84 L630.87,230.14 L631.84,228.51 L632.81,227.02 L633.78,225.74 L634.74,224.56 L635.71,223.45 L636.68,222.89 L637.65,222.98 L638.62,223.30 L639.58,223.80 L640.55,225.15 L641.52,227.39 L642.49,229.84 L643.46,232.60 L644.43,235.79 L645.39,239.35 L646.36,243.23 L647.33,247.59 L648.30,252.61 L649.27,258.12 L650.24,263.92 L651.20,270.12 L652.17,276.82 L653.14,283.84 L654.11,291.05 L655.08,298.41 L656.04,306.20 L657.01,314.11 L657.98,321.74 L658.95,328.98 L659.92,335.86 L660.89,341.82 L661.85,347.00 L662.82,351.89 L663.79,356.95 L664.76,362.47 L665.73,367.64 L666.70,371.84 L667.66,375.65 L668.63,378.97 L669.60,381.69" fill="none" stroke="#dd3030" stroke-width="1.2" stroke-linejoin="round"/>
<line x1="401.20" x2="401.20" y1="387.4" y2="389.2" stroke="#959595" stroke-width="0.8"/>
<text x="401.20" y="395.20" font-size="5.4" text-anchor="middle" fill="#262626" stroke="#262626" stroke-width="0.1">0.95</text>
<line x1="455.30" x2="455.30" y1="387.4" y2="389.2" stroke="#959595" stroke-width="0.8"/>
<text x="455.30" y="395.20" font-size="5.4" text-anchor="middle" fill="#262626" stroke="#262626" stroke-width="0.1">0.96</text>
<line x1="509.40" x2="509.40" y1="387.4" y2="389.2" stroke="#959595" stroke-width="0.8"/>
<text x="509.40" y="395.20" font-size="5.4" text-anchor="middle" fill="#262626" stroke="#262626" stroke-width="0.1">0.97</text>
<line x1="563.50" x2="563.50" y1="387.4" y2="389.2" stroke="#959595" stroke-width="0.8"/>
<text x="563.50" y="395.20" font-size="5.4" text-anchor="middle" fill="#262626" stroke="#262626" stroke-width="0.1">0.98</text>
<line x1="617.60" x2="617.60" y1="387.4" y2="389.2" stroke="#959595" stroke-width="0.8"/>
<text x="617.60" y="395.20" font-size="5.4" text-anchor="middle" fill="#262626" stroke="#262626" stroke-width="0.1">0.99</text>
<line x1="671.70" x2="671.70" y1="387.4" y2="389.2" stroke="#959595" stroke-width="0.8"/>
<text x="671.70" y="395.20" font-size="5.4" text-anchor="middle" fill="#262626" stroke="#262626" stroke-width="0.1">1.00</text>
<text x="525.05" y="403.40" font-size="6.3" font-weight="bold" text-anchor="middle" fill="#111">Spearman Correlation Coefficient</text>
<text transform="translate(351.5,296.6) rotate(-90)" font-size="6.25" font-weight="bold" text-anchor="middle" fill="#111">Density</text>
<text x="524.9" y="214.3" font-size="6.8" font-weight="bold" text-anchor="middle" fill="#111">(d)</text>
<rect x="368.8" y="208.5" width="76.6" height="25.2" rx="1.2" fill="#fff" fill-opacity="0.85" stroke="#d6d6d6" stroke-width="0.6"/>
<line x1="370.7" x2="382.7" y1="212.70" y2="212.70" stroke="#dd3030" stroke-width="1.4"/>
<line x1="370.7" x2="382.7" y1="220.40" y2="220.40" stroke="#dd3030" stroke-width="1.4" stroke-dasharray="4.1 2.0"/>
<rect x="370.7" y="226.30" width="12" height="4.2" fill="#3fb33b" fill-opacity="0.25"/>
<text x="386.20" y="214.60" font-size="5.3" fill="#222" stroke="#222" stroke-width="0.1">Kernel Density Estimate</text>
<text x="386.20" y="222.30" font-size="5.3" fill="#222" stroke="#222" stroke-width="0.1">Mean: 0.991</text>
<text x="386.20" y="230.10" font-size="5.3" fill="#222" stroke="#222" stroke-width="0.1">95% CI: [0.981, 0.996]</text>
</g>
</svg></body></html>
